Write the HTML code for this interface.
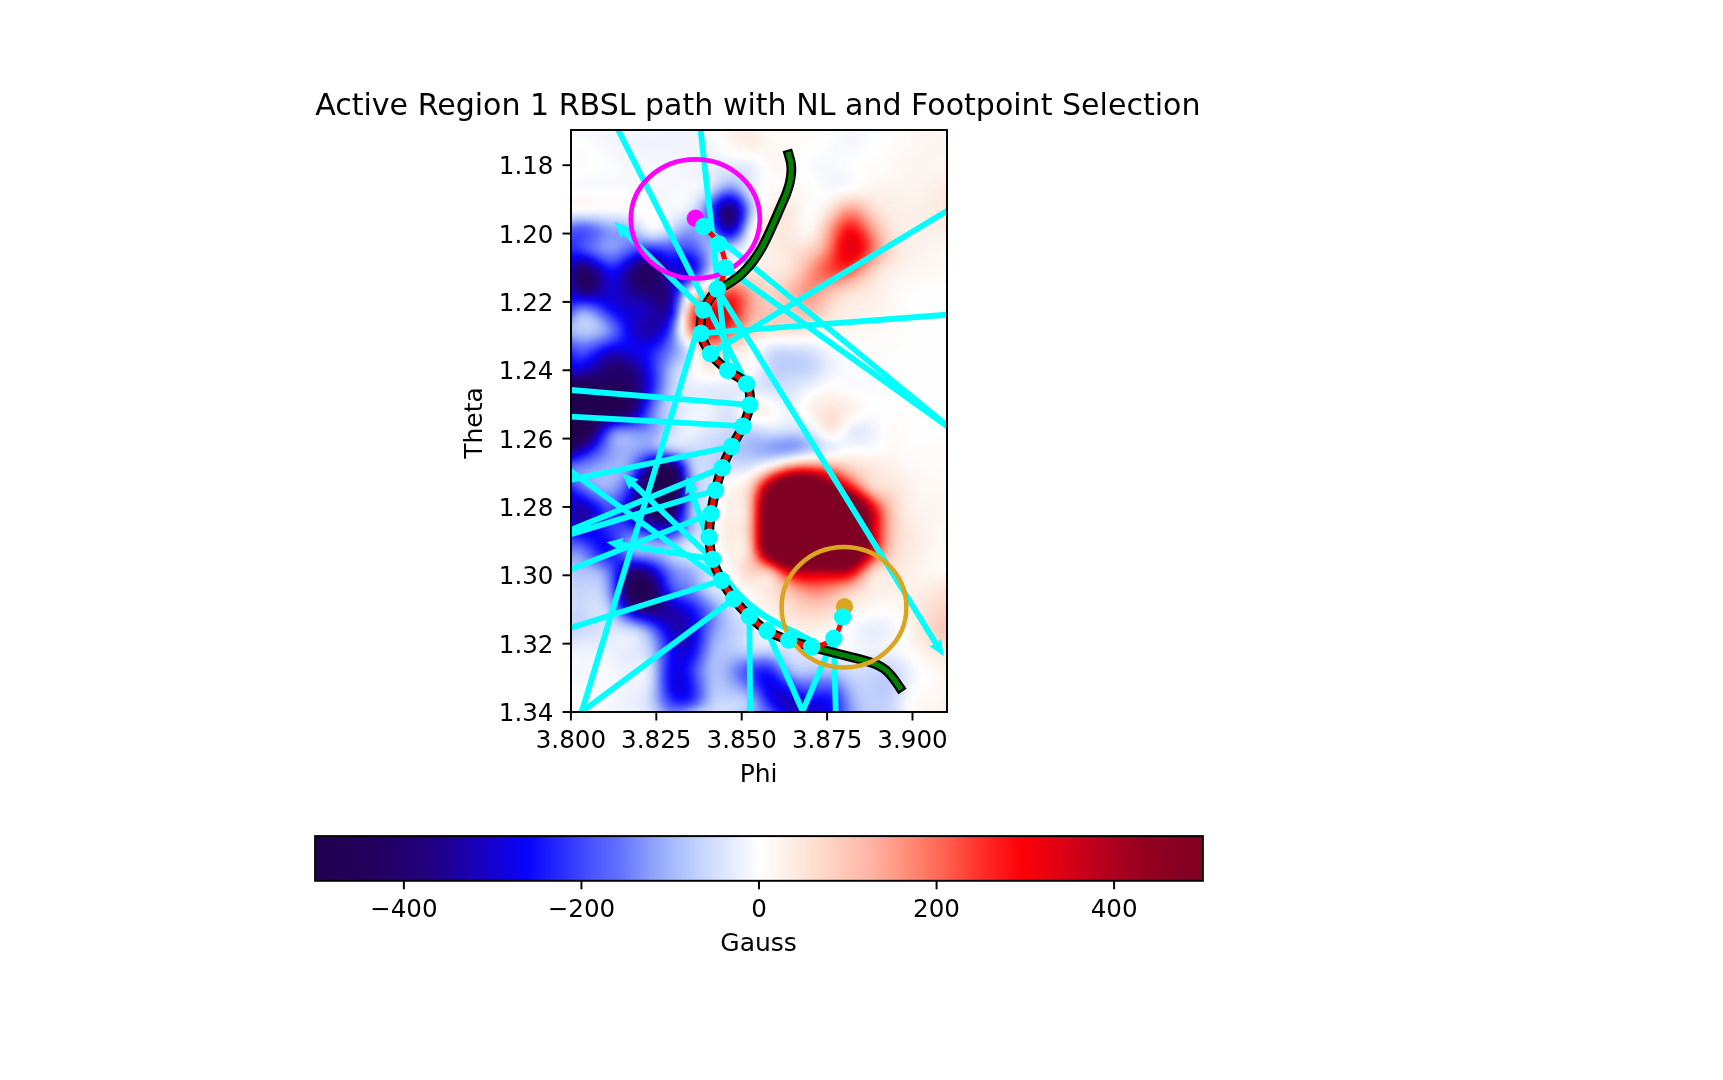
<!DOCTYPE html><html><head><meta charset="utf-8"><title>Active Region 1 RBSL path</title><style>html,body{margin:0;padding:0;background:#fff;width:1723px;height:1080px;overflow:hidden}svg{display:block;position:absolute;left:0;top:0;will-change:transform}#heat{position:absolute;left:571px;top:130px;width:376px;height:582px;overflow:hidden}#heatin{position:absolute;left:-4px;top:-4px;filter:blur(1.3px)}#heat i{display:block;height:3px;width:100%}</style></head><body><div id="heat"><div id="heatin" style="width:384px;height:590px"><i style="background:linear-gradient(90deg,#fafbfe,#fafbfe,#f8fafe,#f7f9fe,#f6f8fe,#f6f8fe,#f6f8fe,#f6f8fe,#f6f8fe,#f6f8fe,#f6f8fe,#f6f8fe,#f6f8fe,#f6f8fe,#f6f8fe,#f6f8fe,#f6f8fe,#f6f8fe,#f4f7fe,#f3f6fe,#f2f5fe,#f1f5fe,#f1f5fe,#f1f5fe,#f1f5fe,#f1f5fe,#f1f5fe,#f1f5fe,#f3f6fe,#f7f9fe,#fefefe,#fefbf9,#fef7f3,#fdf4ef,#fdf3ed,#fdf3ed,#fdf4ef,#fdf6f1,#fdf7f3,#fef8f5,#fef9f7,#fefaf8,#fefaf8,#fefaf7,#fefaf7,#fefaf7,#fefaf8,#fefbf9,#fefcfa,#fefcfb,#fefdfc,#fefdfd,#fefefe,#fefefe,#fcfdfe,#fafbfe,#f8fafe,#f7f9fe,#f7f9fe,#f8fafe,#f9fbfe,#fafbfe,#fbfcfe,#fcfdfe,#fdfefe,#fefefe,#fefdfc,#fefcfa,#fefbf9,#fefaf7,#fef9f6,#fef8f5,#fef8f4,#fef7f4,#fef7f3,#fef7f3,#fef7f4 380px,#fef7f4 383px)"></i><i style="background:linear-gradient(90deg,#fafbfe,#fafbfe,#f8fafe,#f7f9fe,#f6f8fe,#f6f8fe,#f6f8fe,#f6f8fe,#f6f8fe,#f5f8fe,#f5f8fe,#f5f8fe,#f5f8fe,#f5f8fe,#f6f8fe,#f6f8fe,#f6f8fe,#f5f8fe,#f4f7fe,#f3f6fe,#f2f5fe,#f1f5fe,#f1f5fe,#f1f5fe,#f2f5fe,#f1f5fe,#f1f5fe,#f2f5fe,#f3f6fe,#f7f9fe,#fefefe,#fefbf9,#fef7f3,#fdf4ef,#fdf3ed,#fdf3ec,#fdf3ed,#fdf5ef,#fdf6f2,#fef8f4,#fef9f6,#fefaf7,#fefaf8,#fefaf8,#fefaf7,#fefaf7,#fefaf8,#fefbf9,#fefcfa,#fefcfb,#fefdfc,#fefdfd,#fefefe,#fefefe,#fcfcfe,#fafbfe,#f8fafe,#f7f9fe,#f7f9fe,#f8fafe,#f9fbfe,#fbfcfe,#fcfcfe,#fcfdfe,#fefefe,#fefefe,#fefdfc,#fefcfa,#fefbf9,#fefaf7,#fef9f6,#fef8f4,#fef8f4,#fef7f3,#fef7f3,#fef7f3,#fef7f3 380px,#fef7f4 383px)"></i><i style="background:linear-gradient(90deg,#fbfcfe,#fbfcfe,#fafbfe,#f9fafe,#f8f9fe,#f7f9fe,#f6f8fe,#f5f8fe,#f5f7fe,#f4f7fe,#f4f7fe,#f3f6fe,#f3f6fe,#f3f6fe,#f4f6fe,#f4f7fe,#f4f7fe,#f3f6fe,#f3f6fe,#f2f5fe,#f1f4fd,#f0f4fd,#f1f4fd,#f1f5fe,#f2f5fe,#f2f5fe,#f2f5fe,#f3f6fe,#f4f7fe,#f8fafe,#fefefe,#fefbfa,#fef7f4,#fdf4ef,#fdf2eb,#fdf0e8,#fdf0e8,#fdf0e9,#fdf3ec,#fdf5f0,#fef8f4,#fefaf7,#fefaf8,#fefaf8,#fefaf8,#fefaf7,#fefaf8,#fefbf9,#fefbfa,#fefcfb,#fefdfc,#fefdfd,#fefefe,#fdfdfe,#fafbfe,#f8fafe,#f6f8fe,#f5f8fe,#f6f8fe,#f8f9fe,#fafbfe,#fbfcfe,#fdfdfe,#fefefe,#fefefe,#fefefd,#fefdfc,#fefcfa,#fefaf8,#fef9f7,#fef8f5,#fef7f4,#fdf7f3,#fdf6f2,#fdf6f2,#fdf6f2,#fdf6f2 380px,#fdf7f3 383px)"></i><i style="background:linear-gradient(90deg,#fcfdfe,#fcfdfe,#fbfcfe,#fafbfe,#f9fbfe,#f8fafe,#f7f9fe,#f5f8fe,#f4f7fe,#f3f6fe,#f3f6fe,#f2f5fe,#f2f5fe,#f2f5fe,#f2f5fe,#f2f6fe,#f2f6fe,#f2f5fe,#f1f5fe,#f1f4fd,#f0f4fd,#f0f4fd,#f1f4fd,#f1f5fe,#f2f5fe,#f2f6fe,#f3f6fe,#f3f6fe,#f5f7fe,#f8fafe,#fdfdfe,#fefcfa,#fef8f5,#fdf4ef,#fdf1ea,#fdeee6,#fdede4,#fdeee5,#fdf0e9,#fdf4ee,#fdf7f3,#fef9f6,#fefaf8,#fefaf8,#fefaf8,#fefaf8,#fefaf8,#fefbf9,#fefcfa,#fefcfb,#fefdfc,#fefefd,#fefefe,#fcfdfe,#f9fbfe,#f7f9fe,#f5f7fe,#f5f7fe,#f6f8fe,#f8f9fe,#fafbfe,#fcfdfe,#fdfefe,#fefefe,#fefefe,#fefdfd,#fefcfb,#fefbfa,#fefaf8,#fef9f6,#fef8f5,#fef7f3,#fdf6f2,#fdf6f1,#fdf5f0,#fdf5f0,#fdf6f1 380px,#fdf6f2 383px)"></i><i style="background:linear-gradient(90deg,#fefefe,#fefefe,#fdfdfe,#fcfdfe,#fbfcfe,#f9fbfe,#f8f9fe,#f6f8fe,#f4f7fe,#f3f6fe,#f2f5fe,#f2f5fe,#f1f5fe,#f1f5fe,#f1f5fe,#f1f5fe,#f1f5fe,#f1f5fe,#f1f4fd,#f0f4fd,#f0f4fd,#f0f4fd,#f1f4fd,#f1f5fe,#f2f5fe,#f2f6fe,#f3f6fe,#f3f6fe,#f4f7fe,#f7f9fe,#fcfdfe,#fefdfc,#fef9f6,#fdf5f0,#fdf2eb,#fdefe6,#fdede4,#fdede4,#fdf0e8,#fdf3ed,#fdf6f2,#fef9f6,#fefaf7,#fefaf8,#fefaf8,#fefaf8,#fefaf8,#fefbf9,#fefcfa,#fefdfc,#fefdfd,#fefefe,#fefefe,#fbfcfe,#f9fafe,#f6f8fe,#f5f7fe,#f4f7fe,#f6f8fe,#f8fafe,#fbfcfe,#fdfdfe,#fefefe,#fefefe,#fefefd,#fefdfc,#fefcfb,#fefbf9,#fefaf7,#fef9f6,#fef8f4,#fdf7f2,#fdf6f1,#fdf5f0,#fdf5f0,#fdf5f0,#fdf5f0 380px,#fdf6f1 383px)"></i><i style="background:linear-gradient(90deg,#fefefe,#fefefe,#fefefe,#fefefe,#fcfdfe,#fbfcfe,#f9fafe,#f7f9fe,#f5f7fe,#f3f6fe,#f2f5fe,#f1f5fe,#f1f4fd,#f1f4fd,#f1f4fd,#f1f4fd,#f1f5fe,#f1f4fd,#f1f4fd,#f0f4fd,#f0f4fd,#f0f4fd,#f1f4fd,#f1f5fe,#f2f5fe,#f2f5fe,#f2f5fe,#f2f6fe,#f3f6fe,#f6f8fe,#fafcfe,#fefefd,#fefaf8,#fdf6f2,#fdf3ed,#fdf0e8,#fdeee6,#fdeee6,#fdf0e9,#fdf3ed,#fdf6f2,#fef8f5,#fef9f7,#fefaf7,#fefaf7,#fefaf8,#fefbf8,#fefbfa,#fefcfb,#fefdfc,#fefefe,#fefefe,#fdfdfe,#fbfcfe,#f9fafe,#f6f8fe,#f5f7fe,#f5f7fe,#f6f8fe,#f9fafe,#fbfcfe,#fdfefe,#fefefe,#fefefd,#fefdfd,#fefdfc,#fefcfa,#fefbf9,#fefaf7,#fef8f5,#fef7f3,#fdf6f2,#fdf6f1,#fdf5f0,#fdf5ef,#fdf5f0,#fdf5f0 380px,#fdf6f1 383px)"></i><i style="background:linear-gradient(90deg,#fefdfd,#fefdfd,#fefdfd,#fefefe,#fefefe,#fcfdfe,#fafbfe,#f8f9fe,#f6f8fe,#f4f7fe,#f3f6fe,#f2f5fe,#f1f5fe,#f1f4fd,#f1f4fd,#f1f4fd,#f1f4fd,#f1f4fd,#f1f4fd,#f1f4fd,#f0f4fd,#f1f4fd,#f1f5fe,#f2f5fe,#f2f5fe,#f2f5fe,#f2f5fe,#f2f5fe,#f2f6fe,#f5f7fe,#f9fafe,#fefefe,#fefbfa,#fef8f5,#fdf5f0,#fdf2ec,#fdf1e9,#fdf0e9,#fdf2eb,#fdf4ee,#fdf6f2,#fef8f5,#fef9f6,#fef9f7,#fefaf7,#fefaf8,#fefbf9,#fefcfa,#fefdfc,#fefefd,#fefefe,#fdfefe,#fcfdfe,#fafbfe,#f8fafe,#f7f9fe,#f6f8fe,#f6f8fe,#f7f9fe,#fafbfe,#fcfdfe,#fefefe,#fefefe,#fefefd,#fefdfc,#fefcfb,#fefbfa,#fefaf8,#fef9f6,#fef8f4,#fdf7f3,#fdf6f2,#fdf5f1,#fdf5f0,#fdf5f0,#fdf5f0,#fdf5f0 380px,#fdf5f0 383px)"></i><i style="background:linear-gradient(90deg,#fefdfb,#fefcfb,#fefdfc,#fefdfd,#fefefe,#fdfefe,#fbfcfe,#f9fafe,#f7f9fe,#f5f7fe,#f3f6fe,#f2f5fe,#f1f5fe,#f1f5fe,#f1f4fd,#f1f5fe,#f1f5fe,#f1f5fe,#f1f5fe,#f1f5fe,#f1f5fe,#f1f5fe,#f1f5fe,#f2f5fe,#f2f5fe,#f1f5fe,#f1f4fd,#f1f4fd,#f1f5fe,#f3f6fe,#f7f9fe,#fcfcfe,#fefdfc,#fefaf8,#fef7f4,#fdf5f0,#fdf4ee,#fdf3ed,#fdf4ee,#fdf5f0,#fdf7f2,#fef8f4,#fef8f5,#fef9f6,#fef9f7,#fefaf8,#fefbf9,#fefcfb,#fefdfd,#fefefe,#fdfefe,#fcfdfe,#fbfcfe,#fafbfe,#f9fafe,#f7f9fe,#f7f9fe,#f7f9fe,#f9fafe,#fbfcfe,#fdfdfe,#fefefe,#fefefd,#fefdfd,#fefdfc,#fefcfb,#fefbf9,#fefaf7,#fef9f5,#fef7f4,#fdf7f2,#fdf6f1,#fdf5f0,#fdf5f0,#fdf5f0,#fdf5f0,#fdf5f0 380px,#fdf5f0 383px)"></i><i style="background:linear-gradient(90deg,#fefcfa,#fefcfa,#fefcfb,#fefdfc,#fefdfd,#fefefe,#fcfdfe,#fafbfe,#f8f9fe,#f6f8fe,#f4f7fe,#f3f6fe,#f2f5fe,#f2f5fe,#f1f5fe,#f1f5fe,#f2f5fe,#f2f5fe,#f2f5fe,#f2f5fe,#f2f5fe,#f2f5fe,#f2f5fe,#f2f5fe,#f2f5fe,#f1f5fe,#f0f4fd,#eff3fd,#f0f3fd,#f1f5fe,#f4f7fe,#f9fafe,#fdfefe,#fefdfc,#fefbf8,#fef9f6,#fef8f4,#fdf7f3,#fdf7f2,#fdf7f3,#fef7f3,#fef8f4,#fef8f5,#fef8f5,#fef9f6,#fefaf8,#fefbfa,#fefdfc,#fefefe,#fdfefe,#fcfdfe,#fbfcfe,#fafbfe,#fafbfe,#f9fafe,#f8fafe,#f8fafe,#f8fafe,#fafbfe,#fcfcfe,#fefefe,#fefefe,#fefefd,#fefdfc,#fefdfb,#fefcfa,#fefbf8,#fef9f6,#fef8f5,#fdf7f3,#fdf6f2,#fdf6f1,#fdf5f0,#fdf5f0,#fdf5f0,#fdf5f0,#fdf5f0 380px,#fdf5f0 383px)"></i><i style="background:linear-gradient(90deg,#fefbfa,#fefbfa,#fefcfa,#fefcfb,#fefdfc,#fefefe,#fdfefe,#fbfcfe,#f9fafe,#f7f9fe,#f5f8fe,#f4f7fe,#f3f6fe,#f2f5fe,#f2f5fe,#f2f5fe,#f2f5fe,#f2f6fe,#f3f6fe,#f3f6fe,#f3f6fe,#f3f6fe,#f2f6fe,#f2f5fe,#f2f5fe,#f1f4fd,#eff3fd,#eef3fd,#eef2fd,#eff3fd,#f2f5fe,#f6f8fe,#f9fbfe,#fdfdfe,#fefefd,#fefdfc,#fefcfa,#fefbf9,#fefaf7,#fef9f6,#fef8f4,#fef7f4,#fef8f4,#fef8f5,#fef9f6,#fefaf8,#fefcfa,#fefdfd,#fefefe,#fcfdfe,#fbfcfe,#fafbfe,#fafbfe,#f9fbfe,#f9fafe,#f9fafe,#f9fbfe,#fafbfe,#fbfcfe,#fdfdfe,#fefefe,#fefefd,#fefdfd,#fefdfc,#fefcfb,#fefbfa,#fefaf8,#fef9f6,#fef7f4,#fdf6f2,#fdf6f1,#fdf5f1,#fdf5f0,#fdf5f0,#fdf5f0,#fdf5f0,#fdf5f0 380px,#fdf5f0 383px)"></i><i style="background:linear-gradient(90deg,#fefbf9,#fefbf9,#fefbf9,#fefcfa,#fefdfc,#fefefd,#fefefe,#fcfdfe,#fafbfe,#f8fafe,#f6f8fe,#f5f7fe,#f4f7fe,#f3f6fe,#f3f6fe,#f3f6fe,#f3f6fe,#f3f6fe,#f3f6fe,#f3f6fe,#f3f6fe,#f3f6fe,#f3f6fe,#f2f6fe,#f2f5fe,#f0f4fd,#eff3fd,#edf2fd,#edf1fd,#edf2fd,#eff3fd,#f2f5fe,#f5f7fe,#f7f9fe,#f9fafe,#fafbfe,#fbfcfe,#fdfdfe,#fefdfc,#fefbf9,#fef9f6,#fef7f4,#fef7f3,#fef8f4,#fef9f6,#fefaf8,#fefcfb,#fefefd,#fdfefe,#fbfcfe,#fafbfe,#f9fafe,#f9fafe,#f9fafe,#f9fafe,#fafbfe,#fafbfe,#fbfcfe,#fdfdfe,#fefefe,#fefefe,#fefdfd,#fefdfc,#fefdfb,#fefcfb,#fefbf9,#fefaf7,#fef8f5,#fdf7f3,#fdf6f1,#fdf5f1,#fdf5f0,#fdf5f0,#fdf5f1,#fdf6f1,#fdf5f1,#fdf5f0 380px,#fdf5ef 383px)"></i><i style="background:linear-gradient(90deg,#fefbf9,#fefbf9,#fefbf9,#fefcfa,#fefdfc,#fefefd,#fefefe,#fdfdfe,#fbfcfe,#f9fafe,#f7f9fe,#f6f8fe,#f5f7fe,#f4f7fe,#f4f6fe,#f4f6fe,#f4f7fe,#f4f7fe,#f4f7fe,#f4f7fe,#f4f7fe,#f4f7fe,#f4f6fe,#f3f6fe,#f2f5fe,#f0f4fd,#eef2fd,#edf1fd,#ecf1fd,#ecf1fd,#edf1fd,#eef3fd,#f0f4fd,#f1f4fd,#f1f5fe,#f2f5fe,#f3f6fe,#f7f9fe,#fcfdfe,#fefdfc,#fefaf7,#fef8f4,#fdf7f3,#fef7f4,#fef9f5,#fefaf8,#fefcfb,#fefefe,#fcfdfe,#fafbfe,#f9fafe,#f8fafe,#f8fafe,#f8fafe,#f9fafe,#fafbfe,#fbfcfe,#fcfdfe,#fefefe,#fefefe,#fefefd,#fefdfc,#fefdfc,#fefcfb,#fefbfa,#fefaf8,#fef9f6,#fef8f4,#fdf7f2,#fdf6f1,#fdf5f0,#fdf5f0,#fdf5f1,#fdf6f1,#fdf6f1,#fdf6f1,#fdf5f0 380px,#fdf4ef 383px)"></i><i style="background:linear-gradient(90deg,#fefbf9,#fefbf9,#fefbfa,#fefcfb,#fefdfc,#fefefd,#fefefe,#fdfdfe,#fbfcfe,#f9fbfe,#f8fafe,#f6f9fe,#f5f8fe,#f5f7fe,#f4f7fe,#f4f7fe,#f4f7fe,#f5f7fe,#f5f7fe,#f5f8fe,#f5f7fe,#f5f7fe,#f4f7fe,#f3f6fe,#f2f5fe,#f0f4fd,#eef2fd,#ecf1fd,#ebf0fd,#eaeffd,#eaeffd,#eaf0fd,#ebf0fd,#eaf0fd,#eaeffd,#eaeffd,#ecf1fd,#f0f4fd,#f7f9fe,#fefefe,#fefbf8,#fef8f4,#fdf7f3,#fef7f3,#fef8f5,#fefaf8,#fefcfb,#fefefe,#fcfdfe,#f9fbfe,#f8fafe,#f7f9fe,#f7f9fe,#f8f9fe,#f9fafe,#fafbfe,#fcfcfe,#fdfdfe,#fefefe,#fefefe,#fefdfd,#fefdfc,#fefcfb,#fefcfa,#fefbf9,#fefaf8,#fef9f6,#fef7f3,#fdf6f2,#fdf5f0,#fdf5f0,#fdf5f0,#fdf5f0,#fdf6f1,#fdf6f1,#fdf6f1,#fdf5f0 380px,#fdf4ef 383px)"></i><i style="background:linear-gradient(90deg,#fefbf9,#fefbfa,#fefcfb,#fefdfb,#fefdfc,#fefefe,#fefefe,#fdfdfe,#fbfcfe,#fafbfe,#f8fafe,#f7f9fe,#f6f8fe,#f5f8fe,#f5f7fe,#f5f7fe,#f5f8fe,#f5f8fe,#f6f8fe,#f6f8fe,#f6f8fe,#f5f8fe,#f4f7fe,#f3f6fe,#f2f5fe,#f0f4fd,#eef3fd,#ecf1fd,#ebf0fd,#e9eefd,#e7edfd,#e6ecfd,#e5ebfd,#e4ebfd,#e3eafc,#e3eafc,#e5ecfd,#ebf0fd,#f3f6fe,#fcfdfe,#fefbfa,#fef8f5,#fef7f3,#fef7f3,#fef9f5,#fefaf8,#fefcfb,#fefefe,#fcfcfe,#f9fbfe,#f7f9fe,#f7f9fe,#f6f9fe,#f7f9fe,#f8fafe,#fafbfe,#fbfcfe,#fdfdfe,#fefefe,#fefefd,#fefdfc,#fefcfb,#fefcfa,#fefbf9,#fefaf8,#fef9f7,#fef8f5,#fdf7f3,#fdf6f1,#fdf5f0,#fdf5f0,#fdf5f0,#fdf5f0,#fdf6f1,#fdf6f1,#fdf5f0,#fdf4ef 380px,#fdf4ee 383px)"></i><i style="background:linear-gradient(90deg,#fefcfb,#fefcfb,#fefdfc,#fefdfd,#fefefe,#fefefe,#fdfefe,#fcfdfe,#fbfcfe,#fafbfe,#f9fafe,#f7f9fe,#f6f8fe,#f6f8fe,#f5f8fe,#f5f8fe,#f6f8fe,#f6f8fe,#f6f8fe,#f6f8fe,#f6f8fe,#f6f8fe,#f5f7fe,#f4f7fe,#f2f6fe,#f1f4fd,#eff3fd,#edf2fd,#ebf0fd,#e8eefd,#e5ebfd,#e1e9fc,#dee7fc,#dce5fc,#dce5fc,#dde6fc,#e1e8fc,#e7edfd,#f0f4fd,#fafbfe,#fefcfb,#fef9f6,#fef7f4,#fef8f4,#fef9f6,#fefaf8,#fefcfb,#fefefe,#fcfdfe,#f9fbfe,#f7f9fe,#f6f8fe,#f6f8fe,#f6f8fe,#f7f9fe,#f9fafe,#fbfcfe,#fdfdfe,#fefefe,#fefefd,#fefdfc,#fefcfb,#fefbfa,#fefbf8,#fefaf7,#fef9f6,#fef8f4,#fdf6f2,#fdf6f1,#fdf5f0,#fdf5f0,#fdf5f0,#fdf5f0,#fdf5f0,#fdf5f0,#fdf5f0,#fdf4ee 380px,#fdf3ed 383px)"></i><i style="background:linear-gradient(90deg,#fefdfc,#fefdfd,#fefefe,#fefefe,#fdfefe,#fdfdfe,#fcfdfe,#fbfcfe,#fafbfe,#f9fbfe,#f8fafe,#f7f9fe,#f6f8fe,#f6f8fe,#f5f8fe,#f6f8fe,#f6f8fe,#f6f8fe,#f6f8fe,#f6f8fe,#f6f8fe,#f6f8fe,#f5f7fe,#f4f7fe,#f3f6fe,#f2f5fe,#f0f4fd,#eef3fd,#ebf0fd,#e7edfd,#e2e9fc,#dce5fc,#d7e2fc,#d4e0fc,#d5e0fc,#d8e2fc,#dde6fc,#e5ecfd,#eff3fd,#f9fafe,#fefdfc,#fefaf7,#fef8f5,#fef8f5,#fef9f6,#fefaf8,#fefcfb,#fefefd,#fdfdfe,#fafbfe,#f8fafe,#f6f8fe,#f5f8fe,#f5f8fe,#f6f8fe,#f7f9fe,#f9fbfe,#fbfcfe,#fefefe,#fefefd,#fefdfc,#fefcfa,#fefbf8,#fefaf7,#fef9f6,#fef8f4,#fef7f3,#fdf6f2,#fdf5f1,#fdf5f0,#fdf5f0,#fdf5f0,#fdf5f0,#fdf5ef,#fdf4ef,#fdf4ee,#fdf3ed 380px,#fdf2ec 383px)"></i><i style="background:linear-gradient(90deg,#fefefe,#fefefe,#fdfdfe,#fcfdfe,#fbfcfe,#fbfcfe,#fafbfe,#fafbfe,#f9fbfe,#f9fafe,#f8f9fe,#f7f9fe,#f6f8fe,#f6f8fe,#f6f8fe,#f6f8fe,#f6f8fe,#f6f8fe,#f6f8fe,#f6f8fe,#f6f8fe,#f6f8fe,#f5f8fe,#f5f7fe,#f4f7fe,#f3f6fe,#f2f5fe,#f0f4fd,#ecf1fd,#e6edfd,#dee7fc,#d6e1fc,#cfdcfc,#ccdafc,#cedbfc,#d3dffc,#dce5fc,#e5ecfd,#eff3fd,#f9fafe,#fefdfd,#fefbf8,#fef9f6,#fef9f6,#fef9f6,#fefaf8,#fefcfa,#fefdfc,#fefefe,#fbfcfe,#f9fafe,#f6f8fe,#f5f7fe,#f4f7fe,#f5f7fe,#f6f8fe,#f8f9fe,#fafbfe,#fdfdfe,#fefefe,#fefcfb,#fefbf9,#fefaf7,#fef9f6,#fef8f4,#fef7f3,#fdf6f2,#fdf6f1,#fdf5f1,#fdf5f0,#fdf5f0,#fdf5ef,#fdf4ef,#fdf4ee,#fdf4ee,#fdf3ed,#fdf2eb 380px,#fdf1ea 383px)"></i><i style="background:linear-gradient(90deg,#fcfcfe,#fbfcfe,#fafbfe,#f9fbfe,#f9fafe,#f9fafe,#f9fafe,#f8fafe,#f8fafe,#f8fafe,#f7f9fe,#f7f9fe,#f6f8fe,#f6f8fe,#f6f8fe,#f6f8fe,#f6f8fe,#f6f8fe,#f6f8fe,#f6f8fe,#f6f8fe,#f6f8fe,#f5f8fe,#f5f7fe,#f5f7fe,#f4f7fe,#f3f6fe,#f1f4fd,#ecf1fd,#e4ebfd,#d9e3fc,#cddbfc,#c4d4fc,#c1d1fc,#c5d5fc,#cfdcfc,#dae4fc,#e6edfd,#f0f4fd,#f9fafe,#fefefe,#fefbfa,#fefaf7,#fef9f7,#fefaf7,#fefaf8,#fefbf9,#fefcfb,#fefefe,#fdfdfe,#fafbfe,#f7f9fe,#f5f7fe,#f4f6fe,#f4f6fe,#f5f7fe,#f6f9fe,#f9fafe,#fcfdfe,#fefefd,#fefcfb,#fefaf8,#fef9f6,#fef8f4,#fdf7f3,#fdf6f2,#fdf6f1,#fdf6f1,#fdf6f1,#fdf5f0,#fdf5f0,#fdf4ef,#fdf4ee,#fdf3ed,#fdf2ec,#fdf2eb,#fdf1ea 380px,#fdf0e9 383px)"></i><i style="background:linear-gradient(90deg,#fafbfe,#f9fbfe,#f8fafe,#f8f9fe,#f7f9fe,#f7f9fe,#f7f9fe,#f8f9fe,#f8f9fe,#f7f9fe,#f7f9fe,#f7f9fe,#f6f8fe,#f6f8fe,#f6f8fe,#f6f8fe,#f6f8fe,#f6f8fe,#f6f8fe,#f6f8fe,#f6f8fe,#f6f8fe,#f6f8fe,#f6f8fe,#f5f8fe,#f5f7fe,#f4f7fe,#f1f5fe,#ebf0fd,#e0e8fc,#d1defc,#c2d2fc,#b6c8fc,#b3c6fc,#bbccfc,#c9d7fc,#d9e3fc,#e7edfd,#f2f5fe,#fafbfe,#fefefe,#fefcfb,#fefbf8,#fefaf7,#fefaf7,#fefaf7,#fefbf8,#fefcfa,#fefdfc,#fefefe,#fbfcfe,#f8f9fe,#f5f8fe,#f4f6fe,#f4f6fe,#f5f7fe,#f7f9fe,#f9fbfe,#fdfdfe,#fefdfd,#fefbf9,#fef9f7,#fef8f4,#fdf7f2,#fdf6f1,#fdf5f0,#fdf5f0,#fdf5f1,#fdf6f1,#fdf5f1,#fdf5f0,#fdf4ef,#fdf3ed,#fdf2ec,#fdf1ea,#fdf0e9,#fdf0e8 380px,#fdefe7 383px)"></i><i style="background:linear-gradient(90deg,#f8fafe,#f8fafe,#f8f9fe,#f7f9fe,#f7f9fe,#f7f9fe,#f7f9fe,#f7f9fe,#f7f9fe,#f8f9fe,#f7f9fe,#f7f9fe,#f7f9fe,#f7f9fe,#f6f8fe,#f6f8fe,#f6f8fe,#f6f8fe,#f5f8fe,#f5f8fe,#f5f8fe,#f6f8fe,#f6f8fe,#f6f8fe,#f6f8fe,#f6f8fe,#f4f7fe,#f0f3fd,#e7edfd,#d9e3fc,#c6d5fc,#b2c4fc,#a3b7fb,#a1b5fb,#adc0fc,#c0d0fc,#d5e0fc,#e7edfd,#f3f6fe,#fbfcfe,#fefefe,#fefcfb,#fefbf9,#fefaf7,#fef9f7,#fef9f7,#fefaf7,#fefbf9,#fefcfb,#fefefe,#fcfdfe,#f9fafe,#f6f8fe,#f5f7fe,#f5f7fe,#f7f8fe,#f9fafe,#fcfdfe,#fefefe,#fefcfb,#fefaf8,#fef8f5,#fdf7f2,#fdf5f0,#fdf5ef,#fdf4ef,#fdf5ef,#fdf5f0,#fdf5f1,#fdf5f1,#fdf5f0,#fdf4ee,#fdf3ec,#fdf1ea,#fdf0e9,#fdefe7,#fdeee5 380px,#fdeee5 383px)"></i><i style="background:linear-gradient(90deg,#f9fafe,#f9fafe,#f8fafe,#f8fafe,#f8fafe,#f8fafe,#f8fafe,#f8fafe,#f8fafe,#f9fafe,#f9fafe,#f9fafe,#f8fafe,#f8fafe,#f7f9fe,#f7f9fe,#f6f8fe,#f6f8fe,#f5f8fe,#f5f8fe,#f5f8fe,#f6f8fe,#f6f9fe,#f7f9fe,#f7f9fe,#f6f8fe,#f2f6fe,#ecf1fd,#e1e8fc,#cedbfc,#b6c8fc,#9cb0fb,#899dfa,#879afa,#98acfb,#b4c6fc,#cfdcfc,#e5ecfd,#f3f6fe,#fbfcfe,#fefefd,#fefcfb,#fefbf9,#fef9f7,#fef9f6,#fef8f5,#fef9f6,#fefaf7,#fefbfa,#fefdfc,#fdfefe,#fafbfe,#f8fafe,#f7f9fe,#f8fafe,#fbfcfe,#fdfdfe,#fefdfc,#fefbfa,#fefaf7,#fef8f5,#fdf7f2,#fdf5f0,#fdf4ef,#fdf4ee,#fdf4ee,#fdf4ee,#fdf5f0,#fdf5f0,#fdf5f0,#fdf5ef,#fdf4ee,#fdf2ec,#fdf1e9,#fdefe7,#fdede5,#fdece3 380px,#fdece3 383px)"></i><i style="background:linear-gradient(90deg,#fbfcfe,#fbfcfe,#fbfcfe,#fbfcfe,#fbfcfe,#fbfcfe,#fbfcfe,#fbfcfe,#fbfcfe,#fbfcfe,#fbfcfe,#fbfcfe,#fbfcfe,#fafbfe,#f9fbfe,#f8fafe,#f7f9fe,#f6f8fe,#f5f7fe,#f5f7fe,#f5f8fe,#f6f8fe,#f7f9fe,#f8fafe,#f7f9fe,#f5f7fe,#eff3fd,#e6ecfd,#d6e1fc,#becffc,#9eb2fb,#7d90fb,#6878fe,#6777fe,#7d90fb,#a2b6fb,#c6d5fc,#e1e9fc,#f2f5fe,#fcfdfe,#fefdfd,#fefcfa,#fefaf7,#fef8f5,#fef7f4,#fef7f3,#fef8f4,#fef9f6,#fefbf9,#fefdfc,#fefefe,#fcfdfe,#fbfcfe,#fbfcfe,#fdfdfe,#fefdfc,#fefaf8,#fef8f5,#fdf7f3,#fdf6f1,#fdf5f0,#fdf4ef,#fdf4ee,#fdf3ed,#fdf3ec,#fdf3ed,#fdf3ee,#fdf4ef,#fdf5f0,#fdf5f0,#fdf4ef,#fdf3ed,#fdf2eb,#fdf0e8,#fdeee5,#fdece3,#fdebe1 380px,#fdebe1 383px)"></i><i style="background:linear-gradient(90deg,#fefefe,#fefefe,#fefefd,#fefefd,#fefefd,#fefefd,#fefefe,#fefefe,#fefefe,#fefefe,#fefefe,#fefefe,#fefefe,#fdfefe,#fcfcfe,#fafbfe,#f7f9fe,#f6f8fe,#f5f7fe,#f5f7fe,#f6f8fe,#f7f9fe,#f8fafe,#f9fafe,#f7f9fe,#f3f6fe,#eaf0fd,#dce5fc,#c7d6fc,#a8bbfb,#7f91fb,#5b68ff,#4852ff,#4953ff,#5f6dff,#8a9dfa,#b8cafc,#dbe4fc,#f0f4fd,#fcfdfe,#fefcfb,#fefaf8,#fef8f5,#fdf7f2,#fdf6f1,#fdf6f1,#fdf7f3,#fef8f5,#fefaf8,#fefcfb,#fefefe,#fefefe,#fefefe,#fefdfc,#fefaf8,#fdf7f3,#fdf4ee,#fdf2ea,#fdf1e9,#fdf1ea,#fdf2eb,#fdf2eb,#fdf2eb,#fdf2eb,#fdf2eb,#fdf2eb,#fdf3ed,#fdf4ee,#fdf4ef,#fdf4ef,#fdf4ee,#fdf3ec,#fdf1ea,#fdefe7,#fdede4,#fdebe1,#fdeae0 380px,#fde9df 383px)"></i><i style="background:linear-gradient(90deg,#fefcfb,#fefcfa,#fefbf9,#fefbf9,#fefbf9,#fefbfa,#fefcfb,#fefcfb,#fefdfc,#fefdfc,#fefdfc,#fefdfb,#fefdfc,#fefdfd,#fefefe,#fbfcfe,#f9fafe,#f6f8fe,#f5f8fe,#f5f8fe,#f6f8fe,#f7f9fe,#f9fafe,#f9fbfe,#f7f9fe,#f0f4fd,#e4ebfd,#d0ddfc,#b5c7fc,#8ca0fa,#5d6bff,#3a41ff,#2426ff,#2529ff,#424bff,#6d7efd,#a7bbfb,#d2defc,#ecf1fd,#fcfcfe,#fefbfa,#fef8f5,#fdf6f2,#fdf4ef,#fdf3ee,#fdf4ee,#fdf6f1,#fef8f4,#fefaf8,#fefcfb,#fefdfd,#fefefd,#fefcfb,#fef9f6,#fdf4ef,#fdefe7,#fdeae0,#fde7dd,#fde8dd,#fdeae0,#fdece3,#fdefe7,#fdf0e8,#fdf1e9,#fdf1ea,#fdf1eb,#fdf2ec,#fdf3ed,#fdf4ee,#fdf4ee,#fdf3ed,#fdf2eb,#fdf0e9,#fdeee6,#fdece3,#fdeae0,#fde8de 380px,#fde8dd 383px)"></i><i style="background:linear-gradient(90deg,#fefaf8,#fefaf7,#fef9f6,#fef8f5,#fef9f6,#fef9f6,#fefaf8,#fefbf9,#fefbfa,#fefbfa,#fefbf9,#fefbf9,#fefbf9,#fefcfa,#fefdfd,#fdfefe,#fafbfe,#f7f9fe,#f6f8fe,#f6f8fe,#f6f8fe,#f8fafe,#f9fbfe,#f9fbfe,#f5f8fe,#ecf1fd,#dce5fc,#c3d3fc,#a0b4fb,#6d7efd,#4048ff,#1717ff,#0c05f2,#0c06f5,#2325ff,#5562ff,#94a8fa,#c9d8fc,#e9eefd,#fcfcfe,#fefaf8,#fdf6f2,#fdf4ee,#fdf2eb,#fdf1ea,#fdf2eb,#fdf4ef,#fef7f3,#fefaf8,#fefcfb,#fefdfc,#fefcfb,#fef9f6,#fdf4ef,#fdede4,#fde5d9,#fdded0,#fddbcd,#fddcce,#fde1d4,#fde6db,#fdebe1,#fdede5,#fdefe7,#fdf0e9,#fdf1ea,#fdf2eb,#fdf2ec,#fdf3ed,#fdf3ed,#fdf2ec,#fdf1ea,#fdf0e8,#fdeee5,#fdece3,#fdeae0,#fde8dd 380px,#fde7dc 383px)"></i><i style="background:linear-gradient(90deg,#fef9f7,#fef9f6,#fef8f4,#fef8f4,#fef8f4,#fef8f5,#fef9f7,#fefaf8,#fefbf9,#fefbf9,#fefbf9,#fefaf8,#fefaf8,#fefbf9,#fefcfb,#fefefe,#fbfcfe,#f8fafe,#f7f9fe,#f6f8fe,#f7f9fe,#f8fafe,#f9fafe,#f8fafe,#f3f6fe,#e7edfd,#d3dffc,#b5c7fc,#8a9efa,#5662ff,#2225ff,#0e02e7,#1700c4,#1500c9,#0b06f9,#4048ff,#8295fa,#c0d0fc,#e5ecfd,#fcfdfe,#fef9f6,#fdf4ef,#fdf1ea,#fdefe7,#fdefe6,#fdf0e9,#fdf3ed,#fdf7f3,#fefaf8,#fefcfb,#fefcfb,#fefaf8,#fdf6f1,#fdeee6,#fde4d8,#fdd8ca,#fecfc0,#fecbbc,#fecebf,#fdd6c7,#fddfd1,#fde6da,#fdeae1,#fdede5,#fdefe7,#fdf0e9,#fdf1ea,#fdf2eb,#fdf2ec,#fdf2eb,#fdf2eb,#fdf1e9,#fdefe7,#fdeee5,#fdece2,#fde9df,#fde7dc 380px,#fde6da 383px)"></i><i style="background:linear-gradient(90deg,#fefaf8,#fefaf8,#fef9f6,#fef9f6,#fef9f6,#fefaf7,#fefaf8,#fefbf9,#fefcfa,#fefcfa,#fefbfa,#fefbf9,#fefbf9,#fefbf9,#fefcfb,#fefefd,#fdfdfe,#fafbfe,#f8fafe,#f7f9fe,#f7f9fe,#f7f9fe,#f8f9fe,#f6f8fe,#eff3fd,#e1e9fc,#cad9fc,#a8bcfb,#7687fc,#424aff,#0c08fc,#1800bf,#1c009e,#1c00a4,#1101d9,#2b30ff,#7284fc,#b9cbfc,#e4ebfd,#fdfdfe,#fef7f3,#fdf2eb,#fdeee6,#fdece3,#fdece3,#fdeee6,#fdf2ec,#fdf7f3,#fefbf8,#fefcfb,#fefbfa,#fef8f4,#fdf2eb,#fde7dc,#fdd9cb,#fec9bb,#ffbfb0,#ffbbac,#ffc0b1,#fec9ba,#fdd6c7,#fde0d3,#fde7dc,#fdebe2,#fdeee5,#fdf0e8,#fdf1e9,#fdf1ea,#fdf1ea,#fdf1ea,#fdf1ea,#fdf0e8,#fdefe7,#fdede5,#fdebe2,#fde9df,#fde7dc 380px,#fde5da 383px)"></i><i style="background:linear-gradient(90deg,#fdfdfd,#fdfdfd,#fefcfc,#fefcfc,#fefcfc,#fdfdfc,#fdfdfd,#fdfdfd,#fdfdfe,#fdfdfe,#fefdfd,#fefdfd,#fefdfc,#fefdfc,#fefdfc,#fefefd,#fefefe,#fdfdfe,#fbfcfe,#f9fafe,#f7f9fe,#f6f8fe,#f5f7fe,#f1f5fe,#e9effd,#dae4fc,#c1d1fc,#9cb0fb,#6675fe,#3137ff,#0e02e7,#1c00a4,#200082,#1f0089,#1800be,#1d1eff,#6878fe,#b6c8fc,#e4ebfd,#fefefe,#fdf5f0,#fdf0e8,#fdece2,#fde9df,#fdeae0,#fdede4,#fdf2eb,#fdf7f3,#fefbf9,#fefcfb,#fefaf8,#fdf5f0,#fdece3,#fddfd1,#feccbd,#ffbbac,#ffad9d,#ffa897,#ffb0a0,#ffbdae,#feccbd,#fddacc,#fde3d7,#fde9de,#fdede4,#fdefe7,#fdf0e8,#fdf1e9,#fdf1e9,#fdf1e9,#fdf0e9,#fdf0e8,#fdefe6,#fdede5,#fdece2,#fde9df,#fde7dc 380px,#fde5da 383px)"></i><i style="background:linear-gradient(90deg,#f3f6fe,#f3f6fe,#f2f5fe,#f2f5fe,#f2f5fe,#f2f5fe,#f3f5fe,#f3f6fe,#f4f7fe,#f5f7fe,#f6f8fe,#f7f9fe,#f9fafe,#fbfcfe,#fdfdfe,#fefefe,#fefefd,#fefefe,#fefefe,#fbfcfe,#f7f9fe,#f4f7fe,#f0f4fd,#ebf0fd,#e1e9fc,#d1defc,#b9cafc,#92a6fa,#5e6cff,#282cff,#1201d7,#1e0093,#210076,#21007a,#1a00af,#1615ff,#6574fe,#b7c9fc,#e7edfd,#fefcfb,#fdf3ee,#fdeee5,#fdeae0,#fde8dd,#fde8de,#fdece3,#fdf2eb,#fdf7f3,#fefbf9,#fefcfb,#fef9f6,#fdf2eb,#fde6db,#fdd5c6,#ffc0b1,#ffaa9a,#ff9783,#ff917d,#ff9c89,#ffb0a0,#ffc2b3,#fed2c4,#fdded1,#fde6db,#fdebe1,#fdeee5,#fdf0e8,#fdf0e9,#fdf0e9,#fdf0e9,#fdf0e8,#fdefe7,#fdefe6,#fdede5,#fdece3,#fdeae0,#fde7dd 380px,#fde6da 383px)"></i><i style="background:linear-gradient(90deg,#e0e8fc,#dfe8fc,#dde5fc,#dce5fc,#dce5fc,#dee6fc,#e0e8fc,#e2eafc,#e5ecfd,#e7edfd,#e8eefd,#eaf0fd,#edf2fd,#f1f5fe,#f7f9fe,#fdfdfe,#fefdfc,#fefcfb,#fefdfd,#fdfdfe,#f7f9fe,#f1f4fd,#eaeffd,#e2eafc,#d7e2fc,#c8d7fc,#b1c3fc,#8da1fa,#5d6aff,#262aff,#1301d3,#1e008e,#210072,#210076,#1b00ab,#1615ff,#6979fe,#bdcefc,#edf1fd,#fefaf7,#fdf2eb,#fdece3,#fde8de,#fde7dc,#fde7dd,#fdebe2,#fdf2eb,#fef7f3,#fefbf9,#fefbfa,#fef7f3,#fdeee6,#fddfd2,#fecabb,#ffb3a4,#ff9682,#ff816d,#ff7c68,#ff8874,#ff9f8c,#ffb8a9,#fecabb,#fdd8ca,#fde2d6,#fde9de,#fdede4,#fdefe7,#fdf0e8,#fdf0e9,#fdf0e8,#fdf0e8,#fdefe7,#fdefe6,#fdeee5,#fdece3,#fdebe1,#fde8de 380px,#fde7dc 383px)"></i><i style="background:linear-gradient(90deg,#c9d8fc,#c7d5fc,#c1d1fc,#c0d0fc,#c1d1fc,#c4d4fc,#c9d7fc,#cedbfc,#d2defc,#d6e1fc,#d8e2fc,#dae4fc,#dee7fc,#e5ecfd,#eff3fd,#f9fafe,#fefdfc,#fefbf9,#fefcfb,#fdfefe,#f5f8fe,#ecf1fd,#e2eafc,#d8e2fc,#ccd9fc,#bdcefc,#aabdfc,#8b9ffa,#5e6cff,#2b2fff,#1101d9,#1e0091,#210073,#210077,#1a00af,#1b1cff,#7384fc,#c6d6fc,#f4f7fe,#fdf7f2,#fdf0e8,#fdebe2,#fde8dd,#fde6db,#fde7dd,#fdebe2,#fdf2eb,#fef8f4,#fefbf9,#fefbf9,#fdf5f0,#fdeae0,#fdd8c9,#ffc0b1,#ffa290,#ff826e,#ff6b59,#ff6554,#ff7460,#ff8d79,#ffac9b,#ffc2b3,#fed2c3,#fddfd1,#fde6db,#fdece2,#fdefe6,#fdf0e8,#fdf0e8,#fdf0e8,#fdf0e8,#fdefe7,#fdefe6,#fdeee5,#fdede4,#fdebe2,#fdeae0 380px,#fde8de 383px)"></i><i style="background:linear-gradient(90deg,#aec1fc,#aabdfc,#a2b5fb,#9fb3fb,#a2b6fb,#a8bbfb,#afc2fc,#b7c9fc,#becffc,#c3d3fc,#c6d5fc,#c8d7fc,#cddbfc,#d7e1fc,#e5ebfd,#f3f6fe,#fefefe,#fefbf9,#fefcfa,#fdfdfe,#f2f5fe,#e5ecfd,#d8e3fc,#ccd9fc,#bfcffc,#b2c4fc,#a2b6fb,#8a9efa,#6372ff,#343aff,#0e02e8,#1c009e,#210079,#20007e,#1900bb,#2629ff,#8194fa,#d1ddfc,#fcfdfe,#fdf4ee,#fdeee5,#fdebe1,#fde8de,#fde7dc,#fde8dd,#fdece3,#fdf2eb,#fef8f4,#fefbf9,#fefaf7,#fdf3ec,#fde5d9,#fecfc0,#ffb6a7,#ff917d,#ff6f5c,#ff5646,#ff4f41,#ff5f4f,#ff7c68,#ff9d8a,#ffb9aa,#fecbbc,#fddacc,#fde4d8,#fdeae0,#fdeee5,#fdf0e8,#fdf0e8,#fdf0e8,#fdf0e8,#fdf0e8,#fdefe7,#fdeee6,#fdede5,#fdece3,#fdebe2 380px,#fdeae0 383px)"></i><i style="background:linear-gradient(90deg,#90a4fa,#8a9efa,#7f92fb,#7d8ffb,#8194fb,#899dfa,#94a8fa,#a0b4fb,#aabdfc,#b0c3fc,#b3c5fc,#b6c8fc,#bccdfc,#c8d6fc,#d9e3fc,#ebf0fd,#fbfcfe,#fefcfb,#fefdfc,#f9fbfe,#ecf1fd,#dde6fc,#cddbfc,#becffc,#b1c3fc,#a6bafb,#9baffb,#8b9ffa,#6c7cfd,#414aff,#0a05fb,#1a00b1,#1f0089,#1e0091,#1301d1,#363cff,#92a6fa,#dde6fc,#fefbf9,#fdf1e9,#fdece3,#fdeae1,#fde8de,#fde7dd,#fde8de,#fdece3,#fdf2ec,#fef8f4,#fefaf8,#fef8f5,#fdf0e8,#fddfd2,#ffc7b8,#ffa999,#ff816d,#ff5b4b,#ff3e34,#ff372f,#ff4a3d,#ff6a58,#ff8e7a,#ffafa0,#ffc4b5,#fdd5c6,#fde1d4,#fde9de,#fdede5,#fdf0e8,#fdf0e8,#fdf0e9,#fdf0e8,#fdf0e8,#fdefe7,#fdefe7,#fdeee6,#fdeee5,#fdede4 380px,#fdece3 383px)"></i><i style="background:linear-gradient(90deg,#7283fc,#6c7cfd,#6170ff,#606eff,#6473fe,#6e7ffd,#7c8ffb,#8a9efa,#96aafa,#9eb2fb,#a1b5fb,#a4b8fb,#abbefc,#b8cafc,#ccdafc,#e2e9fc,#f3f6fe,#fcfdfe,#fbfcfe,#f2f6fe,#e4ebfd,#d3defc,#c1d1fc,#b0c3fc,#a2b6fb,#99adfb,#95a9fa,#8ca0fa,#7687fc,#4f5aff,#1818ff,#1500cd,#1c00a4,#1b00ab,#0c03ee,#4a53ff,#a4b8fb,#e8eefd,#fef7f3,#fdeee6,#fdebe2,#fdeae1,#fde9df,#fde8de,#fde9de,#fdece3,#fdf2eb,#fdf7f3,#fef9f6,#fdf6f2,#fdece3,#fddacc,#ffc0b1,#ff9c89,#ff725f,#ff473c,#fe2925,#fe2321,#ff332d,#ff5849,#ff7f6b,#ffa391,#ffbdae,#fecfc1,#fdded0,#fde7dc,#fdece3,#fdefe7,#fdf0e9,#fdf0e9,#fdf0e9,#fdf0e9,#fdf0e8,#fdf0e8,#fdefe7,#fdefe7,#fdeee6 380px,#fdeee6 383px)"></i><i style="background:linear-gradient(90deg,#5b68ff,#5763ff,#4f5aff,#4e59ff,#5460ff,#5d6bff,#6a7bfe,#7a8cfb,#889cfa,#90a4fa,#93a7fa,#95a9fa,#9baffb,#aabdfc,#becffc,#d5e0fc,#e7edfd,#f1f5fe,#f0f4fd,#e7edfd,#d8e2fc,#c6d5fc,#b2c5fc,#a0b4fb,#93a7fa,#8da1fa,#8fa3fa,#8ea2fa,#7f92fb,#5c6aff,#2c31ff,#0b03f0,#1600c6,#1401cf,#1514ff,#5c6aff,#b5c7fc,#f1f5fe,#fdf4ef,#fdece3,#fdebe1,#fdebe1,#fdeae0,#fde9de,#fde9df,#fdece3,#fdf1ea,#fdf6f1,#fef7f4,#fdf4ee,#fde8de,#fdd4c5,#ffb9aa,#ff917d,#ff6352,#ff342d,#fd191a,#fd1315,#fe2220,#ff4439,#ff705d,#ff9682,#ffb6a7,#fecabb,#fddbcc,#fde5da,#fdebe2,#fdefe7,#fdf0e8,#fdf1e9,#fdf1e9,#fdf1e9,#fdf0e9,#fdf0e9,#fdf0e8,#fdf0e8,#fdf0e8 380px,#fdf0e8 383px)"></i><i style="background:linear-gradient(90deg,#4d57ff,#4953ff,#424bff,#444dff,#4c56ff,#5662ff,#6271ff,#7283fc,#8093fa,#889cfa,#8a9efa,#8b9ffa,#90a4fa,#9cb0fb,#b0c3fc,#c5d5fc,#d7e1fc,#e0e8fc,#dfe8fc,#d7e1fc,#c8d7fc,#b6c8fc,#a3b7fb,#91a5fa,#8598fa,#8396fa,#899dfa,#8ea2fa,#879bfa,#6b7bfd,#434cff,#1919ff,#0c04f2,#0c07f8,#3137ff,#7485fc,#c4d3fc,#f8fafe,#fdf3ec,#fdece3,#fdebe1,#fdebe2,#fdeae1,#fde9df,#fde9df,#fdece2,#fdf0e9,#fdf4ef,#fdf5f0,#fdf1e9,#fde4d8,#fecec0,#ffb3a4,#ff8773,#ff5747,#fe2623,#fc0b10,#fc040b,#fd1215,#ff312b,#ff6050,#ff8a76,#ffae9e,#ffc5b6,#fdd7c8,#fde3d7,#fdeae1,#fdeee6,#fdf0e8,#fdf1e9,#fdf1ea,#fdf1ea,#fdf1ea,#fdf1ea,#fdf1ea,#fdf1ea,#fdf1ea 380px,#fdf2eb 383px)"></i><i style="background:linear-gradient(90deg,#4149ff,#3e46ff,#3b43ff,#4048ff,#4a54ff,#5561ff,#6170ff,#7182fd,#7e91fb,#8598fa,#869afa,#8599fa,#879bfa,#90a4fa,#a0b4fb,#b2c5fc,#c1d1fc,#c9d7fc,#c8d7fc,#c1d1fc,#b4c6fc,#a3b7fb,#91a5fa,#8194fa,#7789fc,#788afc,#8396fa,#8da1fa,#8da1fa,#7a8cfb,#5864ff,#373dff,#2224ff,#292cff,#505bff,#8fa3fa,#d0ddfc,#fdfdfe,#fdf2ec,#fdede4,#fdece3,#fdece3,#fdebe1,#fde9df,#fde9de,#fdebe1,#fdefe6,#fdf2eb,#fdf2eb,#fdede4,#fde0d2,#fec9ba,#ffac9b,#ff7f6b,#ff4a3e,#fd1b1b,#fb0109,#f5000a,#fc050b,#fe2220,#ff5243,#ff7f6b,#ffa593,#ffc0b1,#fdd3c5,#fde1d4,#fde9df,#fdeee5,#fdf0e8,#fdf1e9,#fdf1ea,#fdf1eb,#fdf2eb,#fdf2eb,#fdf2eb,#fdf2ec,#fdf3ec 380px,#fdf3ed 383px)"></i><i style="background:linear-gradient(90deg,#383fff,#373eff,#3940ff,#4049ff,#4c56ff,#5864ff,#6473fe,#7485fc,#8093fa,#8599fa,#8599fa,#8295fa,#8094fa,#8498fa,#8ea2fa,#9aaefb,#a5b8fb,#abbefc,#abbefc,#a5b9fb,#9baffb,#8da1fa,#7e90fb,#7181fd,#6a7afe,#6e7efd,#7b8efb,#8a9efa,#91a5fa,#889cfa,#6d7dfd,#5561ff,#4650ff,#4e58ff,#6f7ffd,#a8bcfb,#dbe5fc,#fefefd,#fdf3ed,#fdeee6,#fdede5,#fdede4,#fdebe2,#fde9df,#fde8de,#fde9df,#fdece3,#fdefe6,#fdeee6,#fde8dd,#fddacc,#ffc4b5,#ffa593,#ff7864,#ff4036,#fd1214,#f4000a,#ed000d,#f70009,#fd1718,#ff4439,#ff7561,#ff9d8a,#ffbcad,#fed0c1,#fddfd2,#fde8dd,#fdede4,#fdefe7,#fdf1e9,#fdf1ea,#fdf2eb,#fdf2ec,#fdf3ec,#fdf3ed,#fdf3ed,#fdf4ee 380px,#fdf4ef 383px)"></i><i style="background:linear-gradient(90deg,#3238ff,#3238ff,#383fff,#424bff,#4f59ff,#5b69ff,#6979fe,#788afc,#8396fa,#879bfa,#8599fa,#7f92fb,#7a8cfb,#7789fc,#798bfb,#7e91fb,#8396fb,#879afa,#889bfa,#8598fa,#7f92fb,#7687fc,#6a7afe,#616fff,#5e6cff,#6372ff,#7384fc,#869afa,#94a8fa,#94a8fa,#8599fa,#7384fc,#6979fe,#7283fc,#93a7fa,#bdcefc,#e4ebfd,#fefdfc,#fdf4ef,#fdf0e9,#fdefe7,#fdeee5,#fdece3,#fde9df,#fde8dd,#fde8dd,#fdeae0,#fdebe1,#fde9df,#fde3d6,#fdd4c6,#ffbfb0,#ff9e8b,#ff715e,#ff3730,#fc0a0f,#ee000c,#e7000f,#f1000b,#fc0e12,#ff3931,#ff6d5b,#ff9783,#ffb9aa,#fecdbf,#fdded0,#fde7dc,#fdece3,#fdefe7,#fdf1e9,#fdf2eb,#fdf2ec,#fdf3ed,#fdf4ee,#fdf4ee,#fdf4ef,#fdf5f0 380px,#fdf5f0 383px)"></i><i style="background:linear-gradient(90deg,#2c31ff,#2e33ff,#363cff,#424bff,#505bff,#5d6bff,#6c7dfd,#7b8dfb,#8599fa,#889cfa,#8498fa,#7b8efb,#7182fd,#6878fe,#6372ff,#606eff,#5f6eff,#616ffe,#6271fe,#6472fe,#6372fe,#5f6dff,#5966ff,#5460ff,#535fff,#5966ff,#6979fe,#8093fa,#94a8fa,#9db1fb,#9aaefb,#93a7fa,#90a4fa,#9aaefb,#b2c5fc,#d0dcfc,#ecf1fd,#fefdfc,#fdf6f1,#fdf2ec,#fdf0e9,#fdefe7,#fdece3,#fde9df,#fde7dc,#fde6db,#fde7dc,#fde7dc,#fde4d8,#fddcce,#fecdbe,#ffb9aa,#ff9783,#ff6a58,#ff302a,#fc050c,#eb000e,#e40010,#ed000d,#fc0a0f,#ff342d,#ff6957,#ff9480,#ffb7a8,#feccbd,#fdddcf,#fde6db,#fdece3,#fdefe7,#fdf1e9,#fdf2eb,#fdf3ed,#fdf4ee,#fdf4ef,#fdf5f0,#fdf5f0,#fdf6f1 380px,#fdf6f2 383px)"></i><i style="background:linear-gradient(90deg,#272bff,#282dff,#3136ff,#3e45ff,#4d58ff,#5b68ff,#6a7afd,#7a8cfb,#8497fa,#869afa,#8093fa,#7486fc,#6575fe,#5966ff,#4f5aff,#464fff,#4049ff,#3f48ff,#434cff,#4953ff,#4d58ff,#4e59ff,#4b55ff,#464fff,#464fff,#4e59ff,#5e6cff,#788afc,#92a6fa,#a4b8fb,#abbffc,#adc0fc,#b0c3fc,#b9cbfc,#cad8fc,#dee7fc,#f2f5fe,#fefdfc,#fef7f3,#fdf4ee,#fdf2eb,#fdefe7,#fdece3,#fde9df,#fde7dc,#fde5da,#fde4d8,#fde2d6,#fdded0,#fdd5c6,#ffc6b7,#ffb2a3,#ff8f7b,#ff6352,#fe2a26,#fc0209,#e9000e,#e30011,#ed000d,#fc0a0f,#ff342d,#ff6a58,#ff9480,#ffb7a8,#feccbd,#fddcce,#fde6db,#fdece2,#fdefe7,#fdf1e9,#fdf2eb,#fdf3ed,#fdf4ef,#fdf5f0,#fdf6f1,#fdf6f2,#fdf7f2 380px,#fdf7f3 383px)"></i><i style="background:linear-gradient(90deg,#2123ff,#2123ff,#2629ff,#3237ff,#424aff,#525eff,#6170ff,#7183fc,#7d8ffb,#7f91fb,#7789fc,#6877fe,#5865ff,#4851ff,#363cff,#272bff,#1e20ff,#1d1eff,#2326ff,#2d32ff,#373eff,#3b42ff,#3940ff,#353bff,#353bff,#3f48ff,#545fff,#6e7ffd,#8fa3fa,#a9bdfb,#b7c9fc,#bfd0fc,#c6d5fc,#cfdcfc,#dbe5fc,#e9effd,#f6f9fe,#fefdfc,#fef8f5,#fdf5f0,#fdf2ec,#fdf0e8,#fdede4,#fdeae0,#fde7dc,#fde4d9,#fde2d5,#fdded0,#fdd8c9,#fecdbe,#ffbeaf,#ffa796,#ff8571,#ff5b4b,#fe2623,#fc0108,#ea000e,#e50010,#f0000c,#fd0f13,#ff3b33,#ff6f5c,#ff9884,#ffb9aa,#fecdbe,#fdddcf,#fde6db,#fdece3,#fdefe7,#fdf1ea,#fdf2ec,#fdf4ee,#fdf5ef,#fdf5f1,#fdf6f2,#fdf7f3,#fef7f3 380px,#fef8f4 383px)"></i><i style="background:linear-gradient(90deg,#1818ff,#1615ff,#1514ff,#1e1fff,#2d32ff,#4149ff,#535fff,#6271ff,#6f7ffd,#7182fd,#6878fe,#5966ff,#4750ff,#2f35ff,#1a1aff,#0d08fa,#0b03f0,#0b03f0,#0c07fa,#1514ff,#2225ff,#292dff,#272bff,#2326ff,#2325ff,#2d32ff,#4650ff,#6372ff,#8a9efa,#abbefc,#becffc,#cbd9fc,#d4e0fc,#dde6fc,#e6ecfd,#f0f4fd,#fafbfe,#fefdfb,#fef9f5,#fdf5f0,#fdf2ec,#fdf0e8,#fdede4,#fdeae0,#fde7dc,#fde4d8,#fde0d2,#fddacb,#fed1c2,#ffc5b6,#ffb5a6,#ff9b88,#ff7b67,#ff5244,#fe2321,#fc0209,#ee000d,#eb000e,#f80009,#fd1a1b,#ff4a3d,#ff7a66,#ffa08e,#ffbdae,#fed0c1,#fddfd1,#fde7dd,#fdede4,#fdf0e8,#fdf1ea,#fdf3ec,#fdf4ee,#fdf5f0,#fdf6f1,#fdf6f2,#fef7f3,#fef8f4 380px,#fef8f4 383px)"></i><i style="background:linear-gradient(90deg,#0e0bff,#0a06fd,#0a03f3,#0b05f7,#1311ff,#272aff,#3e45ff,#515dff,#5d6bff,#606fff,#5965ff,#4852ff,#2f35ff,#1615ff,#0b03f0,#1301d4,#1600c4,#1600c6,#1201d8,#0a03f3,#110fff,#1a1aff,#1717ff,#1210ff,#110fff,#1c1dff,#373eff,#5a67ff,#8599fa,#acbffc,#c3d3fc,#d2defc,#dce5fc,#e4ebfd,#ecf1fd,#f4f7fe,#fcfdfe,#fefcfa,#fef8f5,#fdf5f0,#fdf2eb,#fdf0e8,#fdede4,#fdebe1,#fde7dd,#fde3d7,#fdded0,#fdd5c7,#fecabb,#ffbdae,#ffaa99,#ff8e7a,#ff6f5d,#ff493d,#fe211f,#fc050b,#f4000a,#f4000a,#fc090e,#fe2b26,#ff5d4c,#ff8874,#ffab9b,#ffc3b4,#fdd4c6,#fde1d4,#fde9df,#fdeee5,#fdf0e9,#fdf2eb,#fdf3ed,#fdf4ef,#fdf5f0,#fdf6f1,#fdf7f3,#fef7f4,#fef8f4 380px,#fef8f5 383px)"></i><i style="background:linear-gradient(90deg,#0903f8,#0d02ea,#1401d0,#1401d0,#0f02e3,#0d0afb,#2325ff,#3b43ff,#4d57ff,#515cff,#4851ff,#3238ff,#1818ff,#0c02ed,#1600c7,#1b00ac,#1c009f,#1c00a3,#1900b8,#1201d8,#0a03f6,#0c09ff,#0b06fe,#0a03f7,#0a03f4,#0c09ff,#292eff,#535fff,#8295fa,#adc0fc,#c7d6fc,#d7e1fc,#e1e9fc,#e9effd,#f0f4fd,#f8f9fe,#fefefe,#fefbf9,#fef7f3,#fdf4ee,#fdf1ea,#fdefe7,#fdede4,#fdebe1,#fde8dd,#fde3d7,#fddbcd,#fed0c2,#ffc3b4,#ffb5a5,#ff9d8a,#ff826e,#ff6453,#ff4137,#fe201f,#fc0b0f,#fb0209,#fc050c,#fd1c1c,#ff4338,#ff715e,#ff9884,#ffb7a8,#fecabb,#fddacb,#fde4d8,#fdebe1,#fdefe7,#fdf1ea,#fdf2ec,#fdf4ee,#fdf5ef,#fdf5f1,#fdf6f2,#fdf7f3,#fef8f4,#fef8f5 380px,#fef8f5 383px)"></i><i style="background:linear-gradient(90deg,#0d02e9,#1201d5,#1a00af,#1b00a9,#1900b7,#1201d7,#0c07fb,#2325ff,#373eff,#3e46ff,#3339ff,#1d1eff,#0a03f4,#1600c8,#1c00a5,#1f008b,#200080,#1f0086,#1c009e,#1800c0,#0f02e2,#0b03f3,#0c03ef,#0e02e4,#0f02e1,#0a03f3,#2023ff,#4f59ff,#8093fa,#afc2fc,#cbd9fc,#dbe4fc,#e5ecfd,#edf1fd,#f4f7fe,#fbfcfe,#fefcfb,#fef9f6,#fdf5f1,#fdf2ec,#fdf0e8,#fdeee6,#fdede4,#fdebe1,#fde8dd,#fde2d5,#fdd9ca,#feccbd,#ffbdae,#ffaa9a,#ff917d,#ff7763,#ff5b4b,#ff3b33,#fe2220,#fd1315,#fd0f12,#fd1919,#ff332d,#ff5e4d,#ff8672,#ffaa99,#ffc1b2,#fed2c3,#fddfd1,#fde7dc,#fdede4,#fdf0e9,#fdf2eb,#fdf3ed,#fdf4ef,#fdf5f0,#fdf6f1,#fdf6f2,#fef7f3,#fef8f4,#fef8f5 380px,#fef9f6 383px)"></i><i style="background:linear-gradient(90deg,#1101db,#1800c1,#1e0092,#1f0086,#1e0092,#1a00af,#1101d9,#0d0afd,#2225ff,#2a2eff,#2022ff,#0b07fc,#1201d5,#1b00ab,#1f0088,#210076,#210070,#210075,#1f0089,#1b00ad,#1401d0,#0f02e4,#0f02e1,#1201d7,#1201d5,#0d02ea,#1d1eff,#4e59ff,#8397fa,#b4c6fc,#d0ddfc,#e1e8fc,#eaeffd,#f2f5fe,#f9fafe,#fefdfd,#fef9f7,#fdf6f1,#fdf3ed,#fdf1e9,#fdeee6,#fdede4,#fdece3,#fdeae1,#fde7dc,#fde1d4,#fdd6c7,#ffc7b8,#ffb7a8,#ffa18e,#ff8773,#ff6e5b,#ff5546,#ff3a32,#fe2724,#fe1f1e,#fe201f,#ff302a,#ff5143,#ff7763,#ff9b88,#ffb9aa,#fecbbc,#fddacc,#fde4d8,#fdeae1,#fdefe7,#fdf1eb,#fdf3ed,#fdf4ee,#fdf5f0,#fdf5f1,#fdf6f2,#fdf7f3,#fef7f4,#fef8f4,#fef9f6 380px,#fef9f6 383px)"></i><i style="background:linear-gradient(90deg,#1401d1,#1a00b3,#21007c,#210071,#210077,#1e008f,#1900b7,#0e02e5,#100dff,#1919ff,#0f0dff,#0e02e7,#1900bb,#1e0093,#210077,#22006a,#220066,#22006b,#21007a,#1c009d,#1800c0,#1201d7,#1201d8,#1301d1,#1301d3,#0d02ec,#2022ff,#525eff,#8ca0fa,#bccdfc,#d9e3fc,#e9effd,#f3f6fe,#fafbfe,#fefdfc,#fef9f6,#fdf5f0,#fdf2eb,#fdf0e8,#fdeee5,#fdece3,#fdece2,#fdebe1,#fde9df,#fde5da,#fdded0,#fed2c3,#ffc2b3,#ffb1a2,#ff9885,#ff806c,#ff6957,#ff5344,#ff3f35,#ff322c,#ff2f2a,#ff372f,#ff4d40,#ff6c5a,#ff8e7a,#ffaf9f,#ffc4b5,#fdd5c6,#fde0d3,#fde8de,#fdeee5,#fdf1ea,#fdf3ed,#fdf4ee,#fdf5f0,#fdf6f1,#fdf6f2,#fdf7f3,#fef7f3,#fef8f4,#fef8f5,#fef9f6 380px,#fef9f7 383px)"></i><i style="background:linear-gradient(90deg,#1500ca,#1b00aa,#210071,#220065,#22006a,#210079,#1c009f,#1500cb,#0b03f3,#0b07fe,#0a03f5,#1301d3,#1b00aa,#200083,#21006f,#220063,#22005f,#220064,#210073,#1e0090,#1a00b4,#1500cd,#1301d4,#1201d5,#1001dd,#0a04f9,#2c31ff,#5e6cff,#9baffb,#c9d8fc,#e6ecfd,#f7f9fe,#fdfcfb,#fef9f6,#fdf5f0,#fdf2eb,#fdefe7,#fdece3,#fdebe2,#fdeae1,#fdeae0,#fdeae0,#fde9df,#fde7dc,#fde3d6,#fddacc,#fecdbe,#ffbdae,#ffaa9a,#ff927e,#ff7c68,#ff6856,#ff5748,#ff4a3d,#ff4439,#ff473c,#ff5446,#ff6957,#ff8571,#ffa391,#ffbdae,#fecfc0,#fdddcf,#fde6da,#fdece3,#fdf0e9,#fdf3ec,#fdf4ef,#fdf5f0,#fdf6f1,#fdf6f2,#fef7f3,#fef8f4,#fef8f5,#fef9f5,#fef9f6,#fefaf7 380px,#fefaf8 383px)"></i><i style="background:linear-gradient(90deg,#1600c7,#1c00a5,#22006c,#22005e,#220061,#21006f,#1f008d,#1900b8,#0f02e0,#0b03f2,#0e02e6,#1600c5,#1c009f,#21007b,#22006b,#220060,#22005b,#220061,#21006e,#1f0085,#1b00a9,#1700c5,#1201d6,#0f02e1,#0a03f3,#1919ff,#434bff,#7486fc,#afc2fc,#dae4fc,#f7f9fe,#fef9f6,#fdf2ec,#fdede5,#fde9df,#fde7dc,#fde5da,#fde5d9,#fde6da,#fde7dc,#fde7dd,#fde8dd,#fde7dc,#fde4d8,#fddfd1,#fdd5c7,#ffc7b8,#ffb8a9,#ffa492,#ff8e7a,#ff7c68,#ff6c59,#ff604f,#ff5a4a,#ff5b4b,#ff6251,#ff705d,#ff836f,#ff9c89,#ffb5a6,#ffc7b8,#fdd7c9,#fde2d6,#fdeae0,#fdefe7,#fdf2eb,#fdf4ee,#fdf5f1,#fdf6f2,#fdf7f3,#fef8f4,#fef8f5,#fef9f5,#fef9f6,#fefaf7,#fefaf8,#fefaf8 380px,#fefbf9 383px)"></i><i style="background:linear-gradient(90deg,#1600c8,#1c00a4,#22006a,#22005b,#22005c,#22006a,#200081,#1b00ac,#1301d3,#0e02e5,#1101da,#1900bc,#1d009a,#210079,#22006a,#22005f,#22005b,#220060,#22006c,#21007d,#1c00a0,#1800c0,#1101dc,#0a03f5,#1616ff,#353cff,#5e6cff,#94a8fa,#c8d6fc,#eff3fd,#fef7f4,#fdece2,#fde2d6,#fddcce,#fdd9cb,#fdd8ca,#fdd9cb,#fddcce,#fde0d2,#fde3d6,#fde5d9,#fde5da,#fde4d8,#fde1d4,#fddacc,#fecfc0,#ffc2b3,#ffb3a4,#ff9e8c,#ff8c78,#ff7e6a,#ff7360,#ff6e5b,#ff6d5b,#ff725f,#ff7c68,#ff8975,#ff9b88,#ffb1a1,#ffc1b2,#fed1c2,#fdded0,#fde7dc,#fdede4,#fdf1ea,#fdf3ee,#fdf5f0,#fdf7f2,#fef7f4,#fef8f5,#fef9f6,#fef9f7,#fefaf7,#fefaf8,#fefbf9,#fefbf9,#fefbfa 380px,#fefcfa 383px)"></i><i style="background:linear-gradient(90deg,#1500cc,#1b00a8,#22006b,#22005b,#22005c,#220069,#21007c,#1c00a5,#1600c9,#1101db,#1301d3,#1900b8,#1d0098,#21007a,#22006c,#220062,#22005e,#220061,#22006a,#210079,#1d0099,#1900bd,#0e02e5,#1312ff,#3339ff,#5764ff,#8699fb,#b8c9fc,#e2eafc,#fefaf8,#fde9df,#fdd9cb,#fecdbe,#ffc6b7,#ffc4b5,#ffc7b8,#fecbbd,#fed2c3,#fdd9ca,#fdded1,#fde2d5,#fde3d7,#fde1d4,#fdddce,#fdd4c6,#fec9ba,#ffbcad,#ffac9c,#ff9a87,#ff8b77,#ff826e,#ff7d69,#ff7d69,#ff816d,#ff8975,#ff9480,#ffa290,#ffb2a2,#ffbfb0,#feccbd,#fdd9cb,#fde3d7,#fdeae0,#fdefe7,#fdf2ec,#fdf5ef,#fdf6f2,#fef8f4,#fef9f5,#fef9f7,#fefaf8,#fefbf8,#fefbf9,#fefbfa,#fefcfa,#fefcfb,#fefcfb 380px,#fefcfb 383px)"></i><i style="background:linear-gradient(90deg,#1301d2,#1a00af,#210070,#22005f,#22005f,#22006b,#21007d,#1c00a3,#1700c3,#1301d4,#1400cd,#1900b6,#1d009a,#20007d,#210070,#220067,#220062,#220064,#22006b,#210077,#1e0093,#1900bb,#0b03f1,#272bff,#535fff,#8295fb,#b3c5fc,#dbe5fc,#fbfafb,#fdece2,#fdd7c9,#ffc4b5,#ffb6a7,#ffae9e,#ffae9e,#ffb5a6,#ffbeaf,#fec8b9,#fed1c3,#fddacb,#fddfd1,#fde0d3,#fdded0,#fdd8ca,#fecfc0,#ffc3b4,#ffb7a8,#ffa695,#ff9783,#ff8c78,#ff8874,#ff8975,#ff8d79,#ff9582,#ff9f8d,#ffac9b,#ffb7a8,#ffc1b2,#fecbbc,#fdd6c8,#fddfd2,#fde6db,#fdece3,#fdf0e9,#fdf3ed,#fdf5f1,#fef7f3,#fef9f5,#fefaf7,#fefaf8,#fefbf9,#fefcfa,#fefcfb,#fefdfc,#fefdfc,#fefdfc,#fefdfc 380px,#fefdfc 383px)"></i><i style="background:linear-gradient(90deg,#1101db,#1900b8,#210078,#220068,#220067,#210070,#200083,#1c00a4,#1800c1,#1401d0,#1500ca,#1900b7,#1c009e,#200085,#210076,#21006d,#220069,#220068,#21006c,#210076,#1e008e,#1900bb,#0905fd,#3f47ff,#7789fc,#b2c4fc,#dde6fc,#faf9fb,#fdede4,#fdd8ca,#ffc2b3,#ffac9b,#ff9784,#ff8e7a,#ff927e,#ff9f8c,#ffb1a1,#ffbfb0,#fecbbc,#fdd5c6,#fddbcd,#fdddcf,#fddacc,#fdd3c5,#fecabb,#ffbeaf,#ffb2a3,#ffa290,#ff9581,#ff8f7b,#ff8f7b,#ff9480,#ff9e8b,#ffa998,#ffb4a5,#ffbdae,#ffc5b6,#fecebf,#fdd6c8,#fdded0,#fde4d8,#fde9df,#fdeee5,#fdf1ea,#fdf4ee,#fdf6f2,#fef8f4,#fef9f7,#fefaf8,#fefbfa,#fefcfb,#fefdfc,#fefdfd,#fefefd,#fefefe,#fefefe,#fefefe 380px,#fefefe 383px)"></i><i style="background:linear-gradient(90deg,#0e02e4,#1600c6,#1f0089,#210075,#210073,#21007b,#1e0090,#1b00ab,#1700c2,#1401ce,#1600c9,#1900b8,#1c00a3,#1e008e,#21007d,#210075,#210070,#21006d,#21006e,#210075,#1f008b,#1900bc,#1110ff,#5460ff,#9fb3fb,#dbe5fc,#fbf8f8,#fde9df,#fdd7c8,#ffc2b3,#ffa999,#ff8c78,#ff7764,#ff6f5c,#ff7764,#ff8975,#ffa18e,#ffb7a8,#ffc5b6,#fed0c1,#fdd7c9,#fdd9cb,#fdd7c8,#fed0c1,#ffc6b7,#ffbbac,#ffae9e,#ff9f8d,#ff9581,#ff927e,#ff9682,#ffa08e,#ffad9d,#ffb8a9,#ffc1b2,#fecabb,#fed2c3,#fdd9cb,#fddfd1,#fde4d8,#fde8dd,#fdece2,#fdefe7,#fdf2eb,#fdf4ef,#fdf7f2,#fef8f5,#fefaf8,#fefbfa,#fefcfb,#fefdfc,#fefefd,#fefefe,#fefefe,#fefefe,#fefefe,#fefefe 380px,#fefefe 383px)"></i><i style="background:linear-gradient(90deg,#0c02ee,#1201d7,#1c00a4,#1e008d,#1f0089,#1e0092,#1c00a3,#1900b6,#1600c7,#1401ce,#1600c8,#1900ba,#1b00a9,#1d0098,#1f0089,#20007e,#210077,#210073,#210072,#210075,#1f0089,#1900bd,#1b1cff,#6878fe,#c2d2fc,#fbf9fa,#fde5da,#fecfc1,#ffbeaf,#ffa897,#ff8a76,#ff6d5b,#ff5748,#ff5143,#ff5e4e,#ff7864,#ff9480,#ffafa0,#ffc0b1,#fecbbd,#fdd3c5,#fdd5c7,#fdd3c4,#feccbe,#ffc3b4,#ffb9aa,#ffac9c,#ff9f8d,#ff9783,#ff9682,#ff9d8b,#ffaa9a,#ffb8a9,#ffc2b3,#feccbd,#fdd5c6,#fddcce,#fde1d4,#fde5d9,#fde8dd,#fdebe1,#fdede5,#fdf0e8,#fdf2ec,#fdf5f0,#fdf7f3,#fef9f6,#fefbf8,#fefcfb,#fefdfc,#fefefe,#fefefe,#fefefe,#fefefe,#fefefe,#fefefe,#fefefe 380px,#fefefe 383px)"></i><i style="background:linear-gradient(90deg,#0903f9,#0d02ea,#1600c5,#1a00b3,#1a00af,#1a00b2,#1900bb,#1600c6,#1401ce,#1401d0,#1600c9,#1900bc,#1a00af,#1c00a2,#1d0097,#1f008c,#200082,#21007a,#210075,#210077,#1f0089,#1800c0,#2427ff,#8093fb,#dfe7fc,#fdeae1,#fecabb,#ffb4a4,#ff9f8c,#ff8773,#ff6b58,#ff4d40,#ff362f,#ff342d,#ff493d,#ff6957,#ff8b77,#ffa998,#ffbcad,#fec8b9,#fecfc0,#fed2c3,#fed0c1,#fecabb,#ffc2b3,#ffb9aa,#ffad9d,#ffa18f,#ff9a87,#ff9b88,#ffa593,#ffb4a4,#ffbfb0,#fecbbc,#fdd5c6,#fdddcf,#fde2d6,#fde6db,#fde9df,#fdebe2,#fdede4,#fdefe7,#fdf1ea,#fdf3ed,#fdf5f0,#fef7f3,#fef9f6,#fefbf9,#fefcfb,#fefefd,#fefefe,#fefefe,#fdfefe,#fdfefe,#fdfefe,#fefefe,#fefefe 380px,#fefefe 383px)"></i><i style="background:linear-gradient(90deg,#0c09ff,#0a05fc,#0c02ed,#0f02e3,#1001dd,#1101db,#1101db,#1101db,#1101d9,#1301d4,#1500cb,#1800c0,#1a00b5,#1b00ac,#1c00a4,#1d009b,#1e0091,#200083,#210079,#210078,#1f008a,#1700c4,#2d32ff,#96aafa,#f8f9fd,#fdd4c6,#ffaf9f,#ff917d,#ff7c68,#ff6654,#ff493d,#fe2c28,#fe1e1d,#fe211f,#ff3830,#ff5f4e,#ff8571,#ffa493,#ffb9aa,#ffc4b5,#fecbbc,#fecebf,#fecdbe,#fec8b9,#ffc2b3,#ffbaab,#ffb0a0,#ffa593,#ff9e8c,#ffa08e,#ffac9b,#ffb9aa,#ffc6b7,#fed2c3,#fddbcd,#fde2d5,#fde6db,#fde9df,#fdece2,#fdede4,#fdefe6,#fdf0e8,#fdf2eb,#fdf3ed,#fdf5f0,#fef7f3,#fef9f7,#fefbf9,#fefdfc,#fefefe,#fefefe,#fdfefe,#fdfdfe,#fdfefe,#fefefe,#fefefe,#fefefe 380px,#fefefe 383px)"></i><i style="background:linear-gradient(90deg,#1616ff,#1717ff,#1919ff,#1818ff,#1413ff,#100efd,#0c07fb,#0a03f3,#0e02e7,#1101db,#1401cf,#1700c5,#1900bc,#1a00b5,#1a00af,#1b00a8,#1c009e,#1e008f,#20007e,#21007b,#1e008d,#1500cb,#373eff,#a9bdfc,#fdf6f1,#ffbfb0,#ff8f7b,#ff6e5b,#ff5849,#ff4137,#fe2824,#fd1517,#fc0c11,#fd1316,#fe2c27,#ff5949,#ff816d,#ffa290,#ffb8a9,#ffc2b3,#fec8b9,#fecabb,#fecabb,#ffc7b8,#ffc3b4,#ffbcad,#ffb4a5,#ffa999,#ffa492,#ffa796,#ffb2a3,#ffbeaf,#fecbbd,#fdd8c9,#fde0d3,#fde5da,#fde9df,#fdece2,#fdede5,#fdefe6,#fdf0e8,#fdf1ea,#fdf2ec,#fdf4ee,#fdf5f1,#fef7f4,#fef9f7,#fefbfa,#fefdfc,#fefefe,#fdfefe,#fdfdfe,#fdfdfe,#fefefe,#fefefe,#fefefe,#fefefe 380px,#fefefe 383px)"></i><i style="background:linear-gradient(90deg,#2224ff,#282cff,#373eff,#3c44ff,#3940ff,#2f34ff,#2124ff,#1211ff,#0903f8,#0e02e6,#1201d7,#1500cb,#1700c3,#1900bd,#1900b9,#1a00b3,#1b00a9,#1d0099,#1f0086,#20007f,#1e0093,#1301d3,#424bff,#bacbfc,#fdeae0,#ffaa99,#ff705d,#ff4a3e,#ff322c,#fe211f,#fd1013,#fb040b,#fa0109,#fc0a0f,#fe2623,#ff5647,#ff816d,#ffa290,#ffb7a8,#ffc0b1,#ffc5b6,#fec8b9,#fec8b9,#ffc7b8,#ffc4b5,#ffbeaf,#ffb7a8,#ffafa0,#ffaa9a,#ffad9d,#ffb8a9,#ffc3b4,#fed0c2,#fddcce,#fde3d7,#fde8dd,#fdebe1,#fdede4,#fdeee6,#fdf0e8,#fdf1e9,#fdf2eb,#fdf3ed,#fdf4ef,#fdf6f1,#fef8f4,#fefaf7,#fefcfa,#fefdfd,#fefefe,#fdfefe,#fdfdfe,#fdfefe,#fefefe,#fefefe,#fefefe,#fefefe 380px,#fefefe 383px)"></i><i style="background:linear-gradient(90deg,#3035ff,#3b43ff,#5460ff,#5c6aff,#5a67ff,#4f59ff,#3d44ff,#262aff,#1210ff,#0a03f4,#0f02e1,#1301d4,#1500cb,#1600c5,#1800c1,#1900bb,#1a00b1,#1c00a1,#1e008e,#1f0086,#1d009a,#1002de,#4d58ff,#cad8fc,#fdded0,#ff937f,#ff5345,#fe2925,#fd1718,#fc0a0f,#f90109,#f3000b,#f4000a,#fc050b,#fe2522,#ff5647,#ff826e,#ffa391,#ffb7a8,#ffbfb0,#ffc3b4,#ffc6b7,#ffc7b8,#ffc7b8,#ffc5b6,#ffc1b2,#ffbbac,#ffb5a6,#ffb1a2,#ffb4a5,#ffbcad,#fec8b9,#fdd5c6,#fddfd2,#fde6da,#fdeae0,#fdece3,#fdeee5,#fdefe7,#fdf0e9,#fdf1ea,#fdf2ec,#fdf3ee,#fdf5ef,#fdf6f2,#fef8f4,#fefaf7,#fefcfa,#fefefd,#fefefe,#fdfdfe,#fdfdfe,#fefefe,#fefefe,#fefefe,#fefefe,#fefefe 380px,#fefefe 383px)"></i><i style="background:linear-gradient(90deg,#4149ff,#4f59ff,#6d7dfd,#7d8ffb,#7a8cfb,#6a79fe,#5561ff,#3c44ff,#2225ff,#0d0aff,#0b03ef,#1002df,#1301d3,#1500cc,#1600c6,#1800bf,#1a00b5,#1b00a6,#1e0094,#1e008e,#1c00a4,#0c02ed,#5865ff,#d7e2fc,#fed2c4,#ff816d,#ff3931,#fd1315,#fb030a,#f5000a,#ef000c,#ec000d,#f1000c,#fc040b,#fe2623,#ff5a4a,#ff8571,#ffa594,#ffb7a8,#ffbfb0,#ffc3b4,#ffc5b6,#ffc7b8,#ffc7b8,#ffc7b8,#ffc3b4,#ffbeaf,#ffbaab,#ffb7a8,#ffbaab,#ffc1b2,#fecdbe,#fdd9ca,#fde2d5,#fde8dd,#fdebe1,#fdede4,#fdeee6,#fdf0e8,#fdf1ea,#fdf2ec,#fdf3ed,#fdf4ef,#fdf5f0,#fdf6f2,#fef8f5,#fefaf8,#fefcfb,#fefefd,#fefefe,#fdfdfe,#fdfefe,#fefefe,#fefefe,#fefefe,#fefefd,#fefefe 380px,#fefefe 383px)"></i><i style="background:linear-gradient(90deg,#535fff,#606eff,#879bfa,#98acfb,#96aafa,#8699fa,#6b7bfd,#525dff,#363cff,#1d1eff,#0a07fe,#0c02ec,#1101db,#1401d0,#1600c7,#1800bf,#1a00b5,#1b00a8,#1d0099,#1d0097,#1a00b0,#0905fc,#6573fe,#e4ebfd,#fec9ba,#ff725f,#fe2723,#fc040a,#f2000b,#eb000e,#e8000f,#e9000f,#f0000c,#fc070d,#fe2b26,#ff5f4f,#ff8a76,#ffa998,#ffb9aa,#ffc0b1,#ffc3b4,#ffc5b6,#ffc7b8,#fec8b9,#fec8b9,#ffc6b7,#ffc2b3,#ffbeaf,#ffbdae,#ffbfb0,#ffc7b8,#fed1c3,#fddcce,#fde4d9,#fde9df,#fdece3,#fdeee5,#fdefe7,#fdf0e9,#fdf2eb,#fdf3ed,#fdf4ef,#fdf5f0,#fdf6f1,#fef7f3,#fef9f5,#fefaf8,#fefcfb,#fefefd,#fefefe,#fdfefe,#fdfefe,#fefefe,#fefefe,#fefefd,#fefefd,#fefefd 380px,#fefefe 383px)"></i><i style="background:linear-gradient(90deg,#6574fe,#7587fc,#9cb0fb,#acbffc,#abbefc,#9cb0fb,#8396fa,#6473fe,#4a55ff,#2e34ff,#1817ff,#0903fa,#0f02e3,#1301d2,#1600c6,#1900bb,#1a00b2,#1b00a7,#1c009d,#1c00a1,#1800bf,#1514ff,#7586fc,#eff3fd,#ffc2b3,#ff6857,#fd1e1d,#f70009,#ea000e,#e50010,#e40010,#e8000f,#f3000b,#fc0e12,#ff352e,#ff6856,#ff907c,#ffad9d,#ffbcad,#ffc2b3,#ffc5b6,#ffc7b8,#fec8b9,#fecabb,#fecabb,#fec8b9,#ffc5b6,#ffc3b4,#ffc2b3,#ffc5b6,#feccbe,#fdd6c8,#fde0d2,#fde7dc,#fdebe1,#fdede5,#fdefe7,#fdf0e8,#fdf1ea,#fdf3ec,#fdf4ee,#fdf5f0,#fdf6f1,#fdf7f3,#fef8f4,#fef9f6,#fefbf9,#fefcfb,#fefefd,#fefefe,#fdfefe,#fdfefe,#fefefe,#fefefe,#fefefd,#fefefd,#fefefd 380px,#fefefe 383px)"></i><i style="background:linear-gradient(90deg,#7b8dfb,#899dfa,#aabefc,#b7c9fc,#b7c9fc,#acc0fc,#97abfa,#798bfb,#5b69ff,#4149ff,#2629ff,#0e0cff,#0d02eb,#1301d4,#1700c3,#1900b7,#1a00ae,#1b00a6,#1c00a2,#1b00ab,#1301d1,#2326ff,#8599fa,#f8fafe,#ffbeaf,#ff6453,#fd1a1b,#f4000a,#e7000f,#e30011,#e40010,#eb000e,#f90009,#fd1919,#ff4338,#ff725f,#ff9784,#ffb3a4,#ffbfb0,#ffc5b6,#fec8b9,#fecabb,#fecbbc,#feccbd,#feccbd,#fecbbd,#fec9bb,#fec8b9,#fec8b9,#feccbd,#fed2c4,#fddbcd,#fde3d7,#fde9de,#fdece3,#fdefe6,#fdf0e8,#fdf1ea,#fdf2ec,#fdf4ee,#fdf5f0,#fdf6f1,#fdf7f3,#fef8f4,#fef8f5,#fefaf7,#fefbf9,#fefdfc,#fefefe,#fefefe,#fdfefe,#fefefe,#fefefe,#fefefe,#fefefd,#fefefd,#fefefe 380px,#fefefe 383px)"></i><i style="background:linear-gradient(90deg,#8ea2fa,#99adfb,#b3c5fc,#becefc,#becffc,#b5c7fc,#a4b8fb,#8b9efa,#6b7cfd,#505bff,#3339ff,#1717ff,#0b03f2,#1201d5,#1800c0,#1a00b3,#1b00aa,#1b00a5,#1b00a7,#1900b6,#0e02e4,#3238ff,#93a7fa,#fefdfe,#ffbdae,#ff6655,#fd1d1c,#f6000a,#e8000f,#e50010,#e8000f,#f1000b,#fc080d,#fe2623,#ff5445,#ff7e6a,#ffa08e,#ffb8a9,#ffc3b4,#fecabb,#fecdbe,#fecebf,#fecfc0,#fed0c1,#fed0c1,#fecfc1,#fecec0,#fecebf,#fecfc1,#fdd3c4,#fdd9cb,#fde0d3,#fde6db,#fdebe1,#fdeee6,#fdf0e8,#fdf1ea,#fdf2ec,#fdf3ed,#fdf5ef,#fdf6f1,#fdf7f3,#fef8f4,#fef8f5,#fef9f6,#fefaf8,#fefbfa,#fefdfc,#fefefe,#fefefe,#fefefe,#fefefe,#fefefe,#fefefe,#fefefe,#fefefd,#fefefe 380px,#fefefe 383px)"></i><i style="background:linear-gradient(90deg,#9cb0fb,#a4b8fb,#b6c8fc,#bfd0fc,#c0d0fc,#b9cafc,#abbffc,#96aafa,#798bfb,#5b68ff,#3e46ff,#1f21ff,#0903f8,#1201d7,#1800be,#1a00af,#1b00a8,#1b00a6,#1b00ad,#1700c4,#0903f7,#4149ff,#9fb3fb,#fefdfc,#ffbfb0,#ff6f5c,#fe2623,#fb0109,#ed000d,#ea000e,#ef000c,#fa0109,#fd1718,#ff3a32,#ff6554,#ff8b77,#ffaa9a,#ffbeaf,#fec9ba,#fecfc1,#fdd3c4,#fdd4c5,#fdd5c6,#fdd5c6,#fdd5c6,#fdd5c6,#fdd5c6,#fdd5c7,#fdd7c9,#fddbcd,#fddfd2,#fde4d9,#fde9df,#fdede5,#fdf0e8,#fdf1ea,#fdf2ec,#fdf3ed,#fdf5ef,#fdf6f1,#fdf7f3,#fef8f4,#fef9f5,#fef9f6,#fefaf7,#fefbf9,#fefcfa,#fefdfc,#fefefe,#fefefe,#fefefe,#fefefe,#fefefe,#fefefe,#fefefe,#fefefe,#fefefe 380px,#fefefe 383px)"></i><i style="background:linear-gradient(90deg,#a2b6fb,#a7bbfb,#b5c7fc,#bccdfc,#bccdfc,#b7c9fc,#acc0fc,#99adfb,#8093fa,#606fff,#454eff,#2427ff,#0803fd,#1101da,#1800be,#1a00af,#1b00a8,#1b00a9,#1a00b5,#1301d3,#100eff,#4d57ff,#a7bbfb,#fefdfc,#ffc5b6,#ff7e6a,#ff3931,#fc0f12,#f70009,#f3000b,#f90109,#fd0f13,#fe2b26,#ff5345,#ff7965,#ff9986,#ffb5a6,#ffc5b6,#fecfc1,#fdd6c8,#fddacc,#fddcce,#fddcce,#fddcce,#fddbcd,#fddbcd,#fddcce,#fdddcf,#fddfd2,#fde2d6,#fde6da,#fde9df,#fdede4,#fdf0e8,#fdf2eb,#fdf3ec,#fdf4ee,#fdf5ef,#fdf6f1,#fdf7f3,#fef8f4,#fef9f6,#fef9f7,#fefaf7,#fefbf8,#fefbfa,#fefcfb,#fefdfd,#fefefe,#fefefe,#fefefe,#fefefe,#fefefe,#fefefe,#fefefe,#fefefe,#fefefe 380px,#fefefe 383px)"></i><i style="background:linear-gradient(90deg,#9fb3fb,#a3b7fb,#aec2fc,#b4c6fc,#b4c7fc,#b0c3fc,#a5b9fb,#94a8fa,#7d8ffb,#606eff,#454eff,#2629ff,#0906ff,#1001de,#1700c3,#1a00b3,#1b00ad,#1a00b1,#1800c1,#0e02e4,#1c1dff,#5662ff,#aabefc,#fcfcfe,#fecfc0,#ff927f,#ff5546,#fe2421,#fc0d11,#fc070d,#fd1013,#fe2422,#ff473b,#ff6c5a,#ff8c78,#ffa999,#ffbeaf,#feccbe,#fdd7c9,#fdded0,#fde2d5,#fde4d8,#fde4d8,#fde4d8,#fde3d7,#fde3d7,#fde4d8,#fde6da,#fde7dd,#fdeae0,#fdece3,#fdefe6,#fdf1e9,#fdf2ec,#fdf3ee,#fdf4ef,#fdf5f0,#fdf6f2,#fef7f3,#fef8f4,#fef9f6,#fef9f7,#fefaf8,#fefaf8,#fefbf9,#fefcfa,#fefcfb,#fefdfd,#fefefe,#fefefe,#fefefe,#fefefe,#fefefe,#fefefe,#fefefe,#fefefe,#fefefe 380px,#fefefe 383px)"></i><i style="background:linear-gradient(90deg,#93a7fa,#97abfa,#a3b7fb,#a8bcfb,#a8bcfb,#a3b7fb,#97abfa,#879afa,#7081fd,#5965ff,#4048ff,#2427ff,#0b07ff,#0f02e3,#1500ca,#1900bb,#1900b6,#1900bc,#1401d1,#0a03f6,#272bff,#5c6aff,#aabefc,#f2f5fe,#fdddcf,#ffac9b,#ff7461,#ff4439,#fe2622,#fe1e1d,#fe2824,#ff4238,#ff6553,#ff8571,#ffa18f,#ffb8a9,#fec8b9,#fdd5c7,#fddfd2,#fde6db,#fdeae1,#fdede4,#fdede5,#fdede4,#fdede4,#fdede4,#fdede5,#fdefe6,#fdf0e8,#fdf1ea,#fdf2ec,#fdf3ed,#fdf4ef,#fdf5f0,#fdf6f1,#fdf6f2,#fdf7f3,#fef8f4,#fef8f5,#fef9f6,#fefaf7,#fefaf8,#fefaf8,#fefbf9,#fefbf9,#fefcfa,#fefdfc,#fefdfd,#fefefe,#fefefe,#fefefe,#fefefe,#fefefe,#fefefe,#fefefe,#fefefe,#fefefe 380px,#fefefe 383px)"></i><i style="background:linear-gradient(90deg,#8093fa,#8699fa,#93a7fa,#98acfb,#97abfa,#90a4fa,#8497fa,#7283fc,#5e6cff,#4c56ff,#363cff,#1f21ff,#0b07ff,#0d02e9,#1301d4,#1600c7,#1700c3,#1500cc,#0f02e3,#0e0bff,#3238ff,#616fff,#a6bafb,#e6ecfd,#fdebe1,#ffc2b3,#ff9380,#ff6856,#ff483c,#ff3d34,#ff493d,#ff6251,#ff816d,#ff9d8a,#ffb5a6,#ffc4b5,#fed2c4,#fdded0,#fde7dc,#fdeee5,#fdf3ec,#fdf5f0,#fdf6f1,#fdf6f1,#fdf5f1,#fdf5f0,#fdf6f1,#fdf7f2,#fef7f4,#fef8f4,#fef8f5,#fef8f4,#fef8f4,#fef8f4,#fef8f4,#fef8f5,#fef9f6,#fef9f6,#fefaf7,#fefaf8,#fefaf8,#fefbf8,#fefbf9,#fefbf9,#fefbfa,#fefcfb,#fefdfc,#fefdfd,#fefefe,#fefefe,#fefefe,#fefefe,#fefefe,#fefefe,#fefefe,#fefefe,#fefefe 380px,#fefefe 383px)"></i><i style="background:linear-gradient(90deg,#6979fe,#7080fd,#8093fa,#869afa,#8497fa,#7a8cfb,#6b7bfd,#5b68ff,#4b56ff,#3941ff,#272bff,#1717ff,#0905ff,#0c02ed,#1001de,#1301d4,#1301d4,#1002de,#0a03f6,#1a1bff,#3d45ff,#6574fe,#a0b4fb,#d8e2fc,#fef7f3,#fdd7c8,#ffb3a3,#ff8a76,#ff6c5a,#ff6050,#ff6a58,#ff806c,#ff9b88,#ffb4a5,#ffc4b5,#fed1c2,#fddcce,#fde6da,#fdeee6,#fdf5f0,#fefaf7,#fdfcfb,#fdfcfd,#fcfcfd,#fdfcfd,#fdfcfc,#fdfcfd,#fdfcfd,#fdfcfd,#fdfdfd,#fefdfc,#fefcfb,#fefbfa,#fefaf8,#fefaf8,#fefaf8,#fefaf8,#fefbf9,#fefbf9,#fefbf9,#fefbf9,#fefbf9,#fefbf9,#fefbf9,#fefcfa,#fefcfb,#fefdfc,#fefdfd,#fefefe,#fefefe,#fefefe,#fefefe,#fefefe,#fefefe,#fefefe,#fefefe,#fefefe 380px,#fefefe 383px)"></i><i style="background:linear-gradient(90deg,#5561ff,#5b68ff,#6b7cfd,#7283fc,#6e7efd,#6372ff,#5561ff,#454fff,#3339ff,#2426ff,#1717ff,#0d0aff,#0903fa,#0b03ef,#0e02e6,#0f02e1,#0e02e4,#0b03f0,#0e0cff,#262aff,#4750ff,#6979fe,#9baffb,#cad9fc,#f7f9fe,#fde9df,#fec9ba,#ffa998,#ff8b77,#ff806c,#ff8773,#ff9b88,#ffb3a4,#ffc5b6,#fed2c3,#fdddce,#fde5d9,#fdede4,#fdf4ef,#fefbf9,#fafbfe,#f3f6fe,#eff3fd,#eff3fd,#eff3fd,#f0f4fd,#f0f4fd,#f0f4fd,#f1f4fd,#f3f6fe,#f6f8fe,#fafbfe,#fdfefe,#fefdfd,#fefcfb,#fefcfb,#fefcfb,#fefcfb,#fefcfb,#fefcfa,#fefcfa,#fefbfa,#fefbfa,#fefbfa,#fefcfa,#fefcfb,#fefdfc,#fefdfd,#fefefe,#fefefe,#fefefe,#fefefe,#fefefe,#fefefe,#fefefe,#fefefe,#fefefe 380px,#fefefe 383px)"></i><i style="background:linear-gradient(90deg,#4149ff,#4a54ff,#5a68ff,#5f6dff,#5b68ff,#505bff,#3f47ff,#2c30ff,#1b1bff,#0e0bfe,#0a05f9,#0a03f5,#0b03f1,#0c03ee,#0c02ec,#0c02ec,#0b03f3,#0a06fe,#1b1cff,#3238ff,#4f5aff,#6e7efd,#96aafa,#becffc,#e5ecfd,#fdf7f3,#fddccf,#ffc0b1,#ffa897,#ff9b88,#ffa28f,#ffb3a4,#ffc4b5,#fdd4c5,#fddfd1,#fde6da,#fdece3,#fdf2ec,#fef9f7,#fbfcfe,#eef3fd,#e6ecfd,#e1e9fc,#e0e8fc,#e0e8fc,#e1e9fc,#e2e9fc,#e3eafc,#e5ebfd,#e8eefd,#edf2fd,#f3f6fe,#f8fafe,#fcfdfe,#fefefe,#fefefd,#fefdfd,#fefdfd,#fefdfc,#fefcfb,#fefcfb,#fefcfa,#fefcfa,#fefcfa,#fefcfa,#fefcfb,#fefdfc,#fefdfd,#fefefe,#fefefe,#fefefe,#fefefe,#fefefe,#fefefe,#fefefe,#fefefe,#fefefe 380px,#fefefe 383px)"></i><i style="background:linear-gradient(90deg,#2d33ff,#383eff,#4d57ff,#515cff,#4b55ff,#3c43ff,#282cff,#1413ff,#0b04f7,#0e02e7,#1002e0,#0f02e0,#0e02e4,#0d02e9,#0c02ed,#0b03f3,#0904fd,#1312ff,#2629ff,#3e46ff,#5763ff,#7384fc,#94a8fa,#b6c7fc,#d7e1fc,#fafbfe,#fdebe1,#fed1c2,#ffbcad,#ffb3a4,#ffb7a8,#ffc4b5,#fdd3c5,#fde1d4,#fde8dd,#fdede4,#fdf1ea,#fdf6f2,#fefdfd,#f2f5fe,#e5ebfd,#dae4fc,#d5e0fc,#d3dffc,#d3dffc,#d5e0fc,#d6e1fc,#d7e2fc,#dae4fc,#dfe7fc,#e5ecfd,#ecf1fd,#f3f6fe,#f8fafe,#fbfcfe,#fdfdfe,#fefefe,#fefefe,#fefefd,#fefdfc,#fefcfb,#fefcfb,#fefcfa,#fefcfa,#fefcfa,#fefcfb,#fefdfc,#fefefd,#fefefe,#fefefe,#fefefe,#fefefe,#fefefe,#fefefe,#fefefe,#fefefe,#fefefe 380px,#fefefe 383px)"></i><i style="background:linear-gradient(90deg,#2022ff,#292dff,#3e46ff,#424bff,#3a41ff,#282cff,#1413ff,#0b03f2,#1101d8,#1600c8,#1700c5,#1500c9,#1301d3,#1001dd,#0d02e8,#0a03f4,#0b08ff,#1a1bff,#2e34ff,#4851ff,#5e6cff,#7a8cfb,#96aafa,#b2c5fc,#cfdcfc,#eff3fd,#fdf4ee,#fdded1,#fecabb,#ffc2b3,#ffc5b6,#fed1c3,#fde0d2,#fdeae0,#fdefe7,#fdf2eb,#fdf5ef,#fef9f6,#fbfcfe,#ecf1fd,#dde6fc,#d2defc,#ccd9fc,#c9d8fc,#cad8fc,#cbd9fc,#ccdafc,#cedbfc,#d1ddfc,#d6e1fc,#dee7fc,#e6edfd,#eef2fd,#f4f7fe,#f8fafe,#fbfcfe,#fcfdfe,#fefefe,#fefefe,#fefdfd,#fefdfc,#fefcfb,#fefcfb,#fefcfb,#fefcfb,#fefdfb,#fefdfc,#fefefd,#fefefe,#fefefe,#fefefe,#fefefe,#fefefe,#fefefe,#fefefe,#fefefe,#fefefe 380px,#fefefe 383px)"></i><i style="background:linear-gradient(90deg,#1514ff,#1e20ff,#3136ff,#3339ff,#292dff,#1717ff,#0a03f6,#1201d6,#1900bd,#1a00af,#1b00ad,#1a00b3,#1800be,#1400ce,#1001de,#0b03f0,#0c09ff,#1e20ff,#353cff,#4f5aff,#6675fe,#8296fa,#9baffb,#b3c6fc,#ccdafc,#e9eefd,#fef9f6,#fde6db,#fdd5c7,#fecdbf,#fed1c3,#fdddcf,#fde8de,#fdf0e9,#fdf4ee,#fdf5f0,#fdf7f3,#fefbf9,#f8fafe,#e8eefd,#d8e2fc,#ccd9fc,#c5d4fc,#c2d2fc,#c2d2fc,#c4d3fc,#c5d4fc,#c7d6fc,#cad8fc,#d0ddfc,#d8e3fc,#e2e9fc,#eaf0fd,#f1f5fe,#f6f8fe,#f9fbfe,#fbfcfe,#fdfdfe,#fefefe,#fefefd,#fefdfc,#fefdfc,#fefcfb,#fefcfb,#fefcfb,#fefdfc,#fefdfd,#fefefd,#fefefe,#fefefe,#fefefe,#fefefe,#fefefe,#fefefe,#fefefe,#fefefe,#fefefe 380px,#fefefe 383px)"></i><i style="background:linear-gradient(90deg,#0c09ff,#1514ff,#2427ff,#2528ff,#1a1aff,#0a05fb,#1001dd,#1800be,#1b00a7,#1d009a,#1d0098,#1c009e,#1b00ab,#1800bb,#1401d0,#0e02e8,#0a07ff,#2023ff,#3b42ff,#5561ff,#6f7ffd,#8b9ffa,#a3b7fb,#b8c9fc,#cedbfc,#e7edfd,#fefcfa,#fdece3,#fdded0,#fdd7c9,#fddbcd,#fde5d9,#fdefe7,#fdf5f0,#fdf7f3,#fef7f4,#fef8f5,#fefcfa,#f6f8fe,#e6ecfd,#d5e0fc,#c8d7fc,#c0d1fc,#becefc,#becefc,#bfcffc,#c0d0fc,#c2d2fc,#c5d5fc,#ccd9fc,#d4e0fc,#dee7fc,#e8eefd,#eff3fd,#f5f7fe,#f8fafe,#fafcfe,#fcfdfe,#fefefe,#fefefe,#fefdfd,#fefdfc,#fefdfc,#fefdfc,#fefdfc,#fefdfc,#fefefd,#fefefe,#fefefe,#fefefe,#fefefe,#fefefe,#fefefe,#fefefe,#fefefe,#fefefe,#fefefe 380px,#fefefe 383px)"></i><i style="background:linear-gradient(90deg,#0903fa,#0b08ff,#1818ff,#1616ff,#0b07fd,#0e02e6,#1600c6,#1b00aa,#1e0094,#1f0087,#200084,#1f008b,#1d0098,#1b00aa,#1800c0,#1001dd,#0803fd,#2023ff,#3e46ff,#5a67ff,#7789fc,#94a8fa,#acbffc,#bfcffc,#d2defc,#e9eefd,#fefdfc,#fdf0e8,#fde4d8,#fde0d2,#fde3d7,#fdebe2,#fdf3ed,#fef8f5,#fef9f7,#fef9f6,#fef9f6,#fefcfb,#f5f8fe,#e4ebfd,#d3dffc,#c6d5fc,#becffc,#bccdfc,#bccdfc,#bdcdfc,#bdcefc,#bfd0fc,#c3d2fc,#c9d8fc,#d2defc,#dce5fc,#e6ecfd,#eef2fd,#f4f7fe,#f8f9fe,#fafbfe,#fcfdfe,#fefefe,#fefefe,#fefefd,#fefdfd,#fefdfc,#fefdfc,#fefdfd,#fefefd,#fefefe,#fefefe,#fefefe,#fefefe,#fefefe,#fefefe,#fefefe,#fefefe,#fefefe,#fefefe,#fefefe 380px,#fefefe 383px)"></i><i style="background:linear-gradient(90deg,#0c02ed,#0a03f5,#0b07fd,#0a05fa,#0d02ea,#1401cf,#1a00b2,#1d0098,#200083,#210079,#210078,#21007b,#1f0086,#1d0099,#1a00b1,#1401d0,#0a03f6,#1f21ff,#4048ff,#5d6bff,#7f92fb,#9db1fb,#b4c6fc,#c7d6fc,#d8e3fc,#ecf1fd,#fefdfc,#fdf2ec,#fde9df,#fde6db,#fdeae0,#fdf1e9,#fef7f3,#fefbf9,#fefbfa,#fefaf8,#fefaf8,#fefdfc,#f4f7fe,#e3eafc,#d2defc,#c5d5fc,#becefc,#bbccfc,#bccdfc,#bccdfc,#bdcefc,#bfcffc,#c2d2fc,#c8d7fc,#d1ddfc,#dce5fc,#e6ecfd,#eef2fd,#f3f6fe,#f7f9fe,#fafbfe,#fbfcfe,#fdfdfe,#fefefe,#fefefe,#fefefd,#fefdfd,#fefefd,#fefefd,#fefefe,#fefefe,#fefefe,#fefefe,#fefefe,#fefefe,#fefefe,#fefefe,#fefefe,#fefefe,#fefefe,#fefefe 380px,#fefefe 383px)"></i><i style="background:linear-gradient(90deg,#1001dd,#0f02e3,#0d02e9,#0f02e2,#1401cf,#1900b7,#1c009f,#1f0088,#210078,#210072,#210070,#210072,#210079,#1f0089,#1c00a3,#1700c4,#0c03ef,#1d1eff,#4049ff,#606fff,#8599fa,#a5b9fb,#bccdfc,#cedbfc,#dfe7fc,#eff3fd,#fefdfc,#fdf4ef,#fdeee5,#fdece3,#fdefe7,#fdf5f0,#fefaf8,#fefdfc,#fefdfc,#fefcfa,#fefbfa,#fefefe,#f3f6fe,#e3eafc,#d2defc,#c6d5fc,#bfcffc,#bccdfc,#bdcefc,#becefc,#bfcffc,#c0d0fc,#c3d3fc,#c9d8fc,#d2defc,#dce5fc,#e6ecfd,#eef2fd,#f4f6fe,#f7f9fe,#f9fbfe,#fbfcfe,#fdfdfe,#fefefe,#fefefe,#fefefe,#fefefe,#fefefe,#fefefe,#fefefe,#fefefe,#fefefe,#fefefe,#fefefe,#fefefe,#fefefe,#fefefe,#fefefe,#fefefe,#fefefe,#fefefe 380px,#fefefe 383px)"></i><i style="background:linear-gradient(90deg,#1600c8,#1500cb,#1500cc,#1700c3,#1a00b3,#1c00a1,#1f008c,#21007b,#210072,#21006d,#22006b,#21006c,#210072,#21007c,#1d0097,#1900b9,#0e02e7,#1b1bff,#4149ff,#6271ff,#8b9ffa,#acbffc,#c3d3fc,#d4e0fc,#e4ebfd,#f2f5fe,#fefefd,#fdf7f3,#fdf2ec,#fdf1ea,#fdf4ee,#fef9f5,#fefdfc,#fdfdfe,#fdfefe,#fefefd,#fefdfd,#fcfcfe,#f0f4fd,#e1e9fc,#d2defc,#c7d6fc,#c0d1fc,#bfcffc,#bfd0fc,#c1d1fc,#c1d1fc,#c3d3fc,#c6d5fc,#ccdafc,#d4e0fc,#dee7fc,#e8eefd,#eff3fd,#f4f7fe,#f7f9fe,#f9fafe,#fafbfe,#fcfcfe,#fdfdfe,#fefefe,#fefefe,#fefefe,#fefefe,#fefefe,#fefefe,#fefefe,#fefefe,#fefefe,#fefefe,#fefefe,#fefefe,#fefefe,#fefefe,#fefefe,#fefefe,#fefefe 380px,#fefefe 383px)"></i><i style="background:linear-gradient(90deg,#1a00b0,#1a00b0,#1b00ad,#1c00a4,#1d0097,#1f0089,#21007c,#210074,#21006d,#220069,#220067,#220068,#21006d,#210077,#1e008d,#1a00b2,#0f02e1,#1818ff,#4049ff,#6473fe,#8fa3fa,#b0c3fc,#c8d7fc,#d9e3fc,#e6ecfd,#f2f5fe,#fdfefe,#fefaf8,#fdf7f3,#fdf6f2,#fef9f6,#fefcfb,#fcfdfe,#f9fafe,#f9fbfe,#fbfcfe,#fbfcfe,#f6f9fe,#ecf1fd,#dfe7fc,#d2defc,#c8d7fc,#c3d3fc,#c2d2fc,#c3d2fc,#c4d4fc,#c5d5fc,#c7d6fc,#cbd9fc,#d0ddfc,#d9e3fc,#e2e9fc,#ebf0fd,#f1f5fe,#f5f8fe,#f8f9fe,#f9fafe,#fafbfe,#fbfcfe,#fcfcfe,#fdfdfe,#fdfefe,#fefefe,#fefefe,#fefefe,#fefefe,#fefefe,#fefefe,#fefefe,#fefefe,#fefefe,#fefefe,#fefefe,#fefefe,#fefefe,#fefefe,#fefefe 380px,#fefefe 383px)"></i><i style="background:linear-gradient(90deg,#1d0096,#1e0094,#1f008d,#200084,#21007c,#210076,#210071,#21006d,#220069,#220066,#220064,#220065,#220069,#210073,#1f0086,#1b00ac,#1101dc,#1616ff,#4049ff,#6675fe,#92a6fa,#b4c6fc,#cbd9fc,#dbe4fc,#e7edfd,#f1f4fd,#f9fbfe,#fefefd,#fefcfa,#fefcfa,#fefdfc,#fcfcfe,#f7f9fe,#f5f7fe,#f5f7fe,#f6f8fe,#f5f7fe,#f1f4fd,#e8eefd,#dce5fc,#d2defc,#cad8fc,#c6d5fc,#c5d4fc,#c6d6fc,#c8d7fc,#cad8fc,#cddafc,#d1ddfc,#d6e1fc,#dee7fc,#e7edfd,#eef3fd,#f4f7fe,#f7f9fe,#f8fafe,#f9fafe,#f9fafe,#fafbfe,#fafcfe,#fcfcfe,#fcfdfe,#fdfdfe,#fdfefe,#fefefe,#fefefe,#fefefe,#fefefe,#fefefe,#fefefe,#fefefe,#fefefe,#fefefe,#fefefe,#fefefe,#fefefe,#fefefe 380px,#fefefe 383px)"></i><i style="background:linear-gradient(90deg,#21007d,#21007a,#210074,#210070,#21006c,#22006a,#220068,#220066,#220065,#220063,#220062,#220062,#220067,#210070,#200081,#1b00a7,#1101d9,#1515ff,#4149ff,#6877fe,#95a9fa,#b6c8fc,#cddafc,#dce5fc,#e7edfd,#eef2fd,#f4f7fe,#f8fafe,#fbfcfe,#fbfcfe,#f8fafe,#f5f8fe,#f2f5fe,#f0f4fd,#f0f4fd,#f0f4fd,#eff3fd,#ebf0fd,#e3eafc,#dae4fc,#d2defc,#ccdafc,#c9d8fc,#c9d7fc,#cad9fc,#cddafc,#cfdcfc,#d3dffc,#d7e2fc,#dde6fc,#e5ebfd,#ecf1fd,#f3f6fe,#f7f9fe,#f9fbfe,#f9fbfe,#f9fafe,#f8fafe,#f9fafe,#f9fbfe,#fafbfe,#fbfcfe,#fcfdfe,#fdfdfe,#fefefe,#fefefe,#fefefe,#fefefe,#fefefe,#fefefe,#fefefe,#fefefe,#fefefe,#fefefe,#fefefe,#fefefe,#fefefe 380px,#fefefe 383px)"></i><i style="background:linear-gradient(90deg,#21006d,#22006b,#220064,#220060,#22005f,#22005e,#22005f,#220060,#220060,#220060,#220060,#220060,#220064,#21006e,#20007d,#1c00a5,#1201d7,#1615ff,#424bff,#6a7afe,#97abfa,#b9cafc,#cedbfc,#dce5fc,#e5ecfd,#ebf0fd,#eff3fd,#f2f5fe,#f2f6fe,#f2f5fe,#f1f4fd,#eff3fd,#eef2fd,#ecf1fd,#ecf1fd,#ebf0fd,#e9effd,#e6ecfd,#e0e8fc,#d9e3fc,#d3dffc,#cfdcfc,#cddafc,#cddafc,#cfdcfc,#d1defc,#d5e0fc,#d9e3fc,#dfe7fc,#e5ecfd,#ecf1fd,#f3f6fe,#f8fafe,#fbfcfe,#fcfdfe,#fbfcfe,#fafbfe,#f9fafe,#f8fafe,#f9fafe,#fafbfe,#fbfcfe,#fcfcfe,#fdfdfe,#fdfefe,#fefefe,#fefefe,#fefefe,#fefefe,#fefefe,#fefefe,#fefefe,#fefefe,#fefefe,#fefefe,#fefefe,#fefefe 380px,#fefefe 383px)"></i><i style="background:linear-gradient(90deg,#220060,#22005e,#220059,#220058,#220058,#220058,#220059,#22005b,#22005c,#22005d,#22005d,#22005e,#220062,#22006c,#21007b,#1c00a4,#1201d8,#1717ff,#454eff,#6d7efd,#9aaefb,#baccfc,#cfdcfc,#dce5fc,#e4ebfd,#e8eefd,#ebf0fd,#ecf0fd,#ecf0fd,#ebf0fd,#ebf0fd,#eaeffd,#e9effd,#e9eefd,#e8eefd,#e7edfd,#e6ecfd,#e3eafc,#dfe7fc,#dae4fc,#d6e1fc,#d3defc,#d1ddfc,#d1defc,#d3dffc,#d6e1fc,#dae4fc,#e0e8fc,#e6ecfd,#edf1fd,#f3f6fe,#f9fbfe,#fdfdfe,#fefefd,#fefefe,#fefefe,#fcfcfe,#fafbfe,#f9fafe,#f9fafe,#f9fbfe,#fafbfe,#fbfcfe,#fdfdfe,#fefefe,#fefefe,#fefefe,#fefefe,#fefefe,#fefefe,#fefefe,#fefefe,#fefefe,#fefefe,#fefefe,#fefefe,#fefefe 380px,#fefefe 383px)"></i><i style="background:linear-gradient(90deg,#220059,#220058,#210055,#210054,#210054,#210055,#220057,#220058,#220059,#22005a,#22005b,#22005b,#22005f,#22006a,#21007b,#1c00a5,#1101dc,#1b1cff,#4953ff,#7283fc,#9eb2fb,#bdcdfc,#d0ddfc,#dce5fc,#e3eafc,#e6ecfd,#e7edfd,#e7edfd,#e7edfd,#e6ecfd,#e6ecfd,#e6ecfd,#e6ecfd,#e6ecfd,#e6ecfd,#e5ecfd,#e4ebfd,#e3eafc,#e0e8fc,#dde6fc,#dae4fc,#d8e2fc,#d6e1fc,#d6e1fc,#d7e2fc,#dbe4fc,#e0e8fc,#e6edfd,#edf2fd,#f4f7fe,#fbfcfe,#fefefd,#fefcfb,#fefbf9,#fefcfa,#fefdfc,#fefefe,#fcfdfe,#fafbfe,#fafbfe,#fafbfe,#fafbfe,#fbfcfe,#fdfdfe,#fefefe,#fefefe,#fefefe,#fefefe,#fefefe,#fefefe,#fefefe,#fefefe,#fefefe,#fefefe,#fefefe,#fefefe,#fefefe 380px,#fefefe 383px)"></i><i style="background:linear-gradient(90deg,#220056,#210055,#210052,#210051,#210051,#210052,#210054,#220056,#220057,#220058,#220058,#220059,#22005c,#220067,#21007a,#1b00a7,#0f02e2,#2123ff,#4f59ff,#788afc,#a2b6fb,#bfcffc,#d1defc,#dce5fc,#e2e9fc,#e4ebfd,#e5ecfd,#e5ecfd,#e4ebfd,#e3eafc,#e2eafc,#e2eafc,#e3eafc,#e3eafc,#e5ebfd,#e6ecfd,#e6edfd,#e6edfd,#e5ecfd,#e3eafc,#e1e8fc,#dee7fc,#dce5fc,#dbe4fc,#dbe5fc,#dfe7fc,#e5ebfd,#ecf1fd,#f4f7fe,#fbfcfe,#fefdfc,#fefaf8,#fef9f6,#fef8f5,#fef9f6,#fefaf8,#fefcfb,#fefefd,#fdfefe,#fcfcfe,#fbfcfe,#fbfcfe,#fbfcfe,#fdfdfe,#fefefe,#fefefe,#fefefe,#fefefe,#fefefe,#fefefe,#fefefe,#fefefe,#fefefe,#fefefe,#fefefe,#fefefe,#fefefe 380px,#fefefe 383px)"></i><i style="background:linear-gradient(90deg,#210053,#210052,#210050,#210050,#210050,#210051,#210052,#210053,#210054,#210055,#220056,#220057,#22005a,#220065,#21007a,#1b00ab,#0d02eb,#292dff,#5662ff,#8094fa,#a8bcfb,#c2d2fc,#d3dffc,#dde6fc,#e2eafc,#e4ebfd,#e5ecfd,#e5ecfd,#e4ebfd,#e2eafc,#e1e9fc,#e0e8fc,#e0e8fc,#e2e9fc,#e5ebfd,#e8eefd,#ecf1fd,#edf2fd,#edf2fd,#ecf0fd,#e9eefd,#e5ecfd,#e2e9fc,#dfe8fc,#dfe7fc,#e2eafc,#e9eefd,#f1f5fe,#fafbfe,#fefdfc,#fef9f7,#fdf7f3,#fdf6f1,#fdf5f1,#fdf6f1,#fef7f4,#fef9f6,#fefbf9,#fefdfc,#fefefe,#fcfdfe,#fbfcfe,#fcfdfe,#fdfdfe,#fefefe,#fefefe,#fefefe,#fefefe,#fefefe,#fefefe,#fefefe,#fefefe,#fefefe,#fefefe,#fefefe,#fefefe,#fefefe 380px,#fefefe 383px)"></i><i style="background:linear-gradient(90deg,#210052,#210051,#210050,#210050,#210050,#210050,#210050,#210051,#210052,#210053,#210053,#210055,#220058,#220063,#21007b,#1a00b1,#0a03f6,#3339ff,#5e6bff,#899dfa,#adc1fc,#c5d5fc,#d5e0fc,#dee6fc,#e3eafc,#e6ecfd,#e7edfd,#e7edfd,#e5ecfd,#e3eafc,#e1e8fc,#dee7fc,#dee7fc,#e1e8fc,#e6ecfd,#edf1fd,#f3f6fe,#f7f9fe,#f7f9fe,#f5f8fe,#f2f5fe,#edf1fd,#e8eefd,#e4ebfd,#e3eafc,#e5ecfd,#ecf1fd,#f5f8fe,#fefefe,#fefaf7,#fdf6f2,#fdf4ee,#fdf3ec,#fdf2ec,#fdf3ed,#fdf4ef,#fdf6f1,#fef8f5,#fefaf8,#fefdfc,#fefefe,#fcfdfe,#fcfdfe,#fdfefe,#fefefe,#fefefe,#fefefd,#fefefe,#fefefe,#fefefe,#fefefe,#fefefe,#fefefe,#fefefe,#fefefe,#fefefe,#fefefe 380px,#fefefe 383px)"></i><i style="background:linear-gradient(90deg,#210051,#210050,#210050,#210050,#210050,#210050,#210050,#210050,#210050,#210050,#210051,#210054,#220058,#220063,#20007d,#1900b9,#0b08ff,#3e46ff,#6776fe,#92a6fa,#b3c5fc,#c8d7fc,#d6e1fc,#dfe7fc,#e4ebfd,#e7edfd,#e9effd,#e9effd,#e8eefd,#e5ecfd,#e1e9fc,#dee6fc,#dce5fc,#e0e8fc,#e7edfd,#f1f5fe,#fafbfe,#fefdfc,#fefdfc,#fdfdfd,#fbfcfe,#f4f7fe,#eef2fd,#e8eefd,#e6ecfd,#e8eefd,#eff3fd,#f9fafe,#fefcfb,#fdf7f3,#fdf3ed,#fdf1ea,#fdf0e8,#fdefe7,#fdf0e8,#fdf1ea,#fdf3ec,#fdf5f0,#fef8f5,#fefbf9,#fefefd,#fefefe,#fdfdfe,#fefefe,#fefefe,#fefefd,#fefefd,#fefefe,#fefefe,#fefefe,#fefefe,#fefefe,#fefefe,#fefefe,#fefefe,#fefefe,#fefefe 380px,#fefefe 383px)"></i><i style="background:linear-gradient(90deg,#210050,#210050,#210050,#210050,#210050,#210050,#210050,#210050,#210050,#210050,#210051,#210053,#220058,#220065,#200084,#1600c5,#1515ff,#4953ff,#7283fc,#9baffb,#b7c9fc,#cbd9fc,#d8e2fc,#e0e8fc,#e6ecfd,#e9effd,#ecf1fd,#ecf1fd,#ebf0fd,#e8eefd,#e2eafc,#dde6fc,#dbe5fc,#dfe7fc,#e9effd,#f5f8fe,#fefdfc,#fef9f6,#fef8f4,#fef9f6,#fefcfb,#fbfcfe,#f3f6fe,#ecf1fd,#e9eefd,#eaf0fd,#f1f5fe,#fbfcfe,#fefaf8,#fdf5f0,#fdf1ea,#fdeee6,#fdece3,#fdece2,#fdece3,#fdeee5,#fdf0e8,#fdf3ed,#fdf6f2,#fefaf7,#fefdfc,#fefefe,#fdfefe,#fefefe,#fefefe,#fefdfd,#fefdfd,#fefefd,#fefefe,#fefefe,#fefefe,#fefefe,#fefefe,#fefefe,#fefefe,#fefefe,#fefefe 380px,#fefefe 383px)"></i><i style="background:linear-gradient(90deg,#210050,#210050,#210050,#210050,#210050,#210050,#210050,#210050,#210050,#210050,#210052,#210054,#220059,#22006a,#1e0091,#1201d5,#2022ff,#525eff,#7c8ffb,#a1b5fb,#bbccfc,#cddafc,#d9e3fc,#e2e9fc,#e8eefd,#ecf1fd,#eff3fd,#f0f3fd,#eef2fd,#eaeffd,#e3eafc,#dde6fc,#dae4fc,#dee7fc,#eaeffd,#f8fafe,#fefaf8,#fdf5f0,#fdf4ee,#fdf5f0,#fef9f6,#fefdfd,#f7f9fe,#f0f4fd,#ebf0fd,#ecf1fd,#f3f6fe,#fdfdfe,#fef9f7,#fdf4ee,#fdefe7,#fdece2,#fde9df,#fde8de,#fde9df,#fdebe1,#fdeee5,#fdf2eb,#fdf5f1,#fef9f7,#fefdfc,#fefefe,#fefefe,#fefefe,#fefefd,#fefdfd,#fefdfd,#fefefd,#fefefe,#fefefe,#fefefe,#fefefe,#fefefe,#fefefe,#fefefe,#fefefe,#fefefe 380px,#fefefe 383px)"></i><i style="background:linear-gradient(90deg,#210050,#210050,#210050,#210050,#210050,#210050,#210050,#210051,#210052,#210053,#210055,#220058,#22005f,#210074,#1c00a3,#0e02e8,#2c30ff,#5a67ff,#8598fa,#a6bafb,#bdcefc,#cedbfc,#dae4fc,#e3eafc,#e9effd,#eef2fd,#f1f5fe,#f2f5fe,#f0f4fd,#ebf0fd,#e4ebfd,#dde6fc,#dae3fc,#dee6fc,#eaeffd,#f9fafe,#fef9f7,#fdf4ee,#fdf2eb,#fdf3ed,#fdf7f3,#fefcfa,#fbfcfe,#f2f6fe,#edf2fd,#eef2fd,#f3f6fe,#fdfdfe,#fef9f7,#fdf3ee,#fdeee6,#fde9df,#fde6db,#fde5da,#fde6db,#fde9df,#fdede4,#fdf2eb,#fdf6f1,#fefaf7,#fefdfc,#fefefe,#fdfefe,#fefefe,#fefefd,#fefdfc,#fefdfc,#fefefd,#fefefe,#fefefe,#fefefe,#fefefe,#fefefe,#fefefe,#fefefe,#fefefe,#fefefe 380px,#fefefe 383px)"></i><i style="background:linear-gradient(90deg,#210050,#210050,#210050,#210050,#210050,#210050,#210052,#210054,#220056,#220058,#22005c,#220062,#21006f,#1f0088,#1900bb,#0a05fc,#383fff,#616fff,#8a9efa,#a8bcfb,#bdcefc,#cddbfc,#dae4fc,#e4ebfd,#ebf0fd,#f0f4fd,#f3f6fe,#f3f6fe,#f1f4fd,#ebf0fd,#e3eafc,#dce5fc,#d9e3fc,#dde6fc,#e8eefd,#f7f9fe,#fefbf9,#fdf5f0,#fdf3ed,#fdf4ee,#fdf7f2,#fefbf9,#fcfdfe,#f4f7fe,#eff3fd,#eef3fd,#f3f6fe,#fcfdfe,#fefaf8,#fdf4ee,#fdeee5,#fde8dd,#fde4d8,#fde3d7,#fde5d9,#fde9df,#fdeee6,#fdf3ed,#fef8f4,#fefbfa,#fefefe,#fdfdfe,#fdfdfe,#fefefe,#fefefd,#fefdfc,#fefdfc,#fefdfd,#fefefe,#fefefe,#fefefe,#fefefe,#fefefe,#fefefe,#fefefe,#fefefe,#fefefe 380px,#fefefe 383px)"></i><i style="background:linear-gradient(90deg,#210050,#210050,#210050,#210050,#210050,#210051,#210055,#220059,#22005f,#220068,#210070,#20007a,#1f008b,#1b00ac,#1101dc,#1919ff,#444dff,#6777fe,#8ca0fa,#a8bcfb,#bccdfc,#ccdafc,#d9e3fc,#e4ebfd,#ecf1fd,#f1f5fe,#f3f6fe,#f3f6fe,#f0f4fd,#eaeffd,#e2eafc,#dbe5fc,#d8e2fc,#dbe5fc,#e5ecfd,#f2f5fe,#fdfdfd,#fef9f6,#fdf6f2,#fdf6f2,#fef8f5,#fefcfa,#fcfdfe,#f5f7fe,#f0f4fd,#eff3fd,#f2f5fe,#f9fbfe,#fefcfa,#fdf5f0,#fdeee6,#fde7dc,#fde2d6,#fde1d4,#fde4d9,#fdeae0,#fdf1ea,#fdf6f2,#fefbf9,#fefefd,#fcfcfe,#fafbfe,#fcfcfe,#fefefe,#fefdfd,#fefdfc,#fefdfc,#fefdfd,#fefefe,#fefefe,#fefefe,#fefefe,#fefefe,#fefefe,#fefefe,#fefefe,#fefefe 380px,#fefefe 383px)"></i><i style="background:linear-gradient(90deg,#210050,#210050,#210050,#210050,#210050,#210052,#220058,#220064,#210074,#1f0086,#1d0098,#1b00a8,#1800bc,#1101d9,#0d09fc,#2b30ff,#4f5aff,#6e7efd,#8ea2fa,#a7bbfb,#bbccfc,#cbd9fc,#d9e3fc,#e4ebfd,#edf1fd,#f2f5fe,#f3f6fe,#f2f5fe,#eef2fd,#e8edfd,#e0e8fc,#dae4fc,#d7e2fc,#d9e3fc,#e1e9fc,#ebf0fd,#f6f8fe,#fdfdfd,#fefcfa,#fefbf9,#fefbfa,#fefefd,#fafbfe,#f4f7fe,#eff3fd,#edf2fd,#f0f3fd,#f6f8fe,#fefdfe,#fef8f4,#fdf0e8,#fde7dc,#fde1d5,#fde0d3,#fde5d9,#fdece3,#fdf4ef,#fefbf8,#fdfdfe,#f9fafe,#f7f9fe,#f8fafe,#fafbfe,#fdfefe,#fefdfd,#fefdfc,#fefdfc,#fefdfd,#fefefe,#fefefe,#fdfefe,#fdfefe,#fefefe,#fefefe,#fefefe,#fefefe,#fefefe 380px,#fefefe 383px)"></i><i style="background:linear-gradient(90deg,#210050,#210050,#210050,#210050,#210050,#210054,#22005e,#210075,#1d0098,#1800bb,#1301d3,#0e02e5,#0d06f2,#1210fd,#2529ff,#4048ff,#5966ff,#7385fc,#8fa3fa,#a6bafb,#b9cbfc,#cad8fc,#d8e3fc,#e5ebfd,#edf2fd,#f2f5fe,#f2f5fe,#eff3fd,#ebf0fd,#e4ebfd,#dee7fc,#d9e3fc,#d6e1fc,#d7e1fc,#dce5fc,#e3eafc,#ebf0fd,#f2f5fe,#f7f9fe,#fbfcfe,#fcfcfe,#fafbfe,#f6f8fe,#f1f4fe,#edf1fd,#eaeffd,#ebf0fd,#f0f4fd,#f8fafe,#fefbf9,#fdf2ec,#fde9df,#fde2d5,#fde1d4,#fde6db,#fdf0e8,#fef8f5,#fdfdfe,#f6f8fe,#f2f6fe,#f3f6fe,#f5f7fe,#f9fafe,#fdfdfe,#fefdfd,#fefcfb,#fefcfb,#fefdfc,#fefefe,#fefefe,#fdfefe,#fdfefe,#fefefe,#fefefe,#fefefe,#fefefe,#fefefe 380px,#fefefe 383px)"></i><i style="background:linear-gradient(90deg,#210050,#210050,#210050,#210050,#210050,#220056,#22006a,#1e0091,#1500c8,#0d07f3,#1717ff,#2325ff,#2a2fff,#343aff,#424bff,#525dff,#6271ff,#798bfb,#90a4fa,#a6bafb,#b9cafc,#cad8fc,#d9e3fc,#e5ebfd,#edf2fd,#f1f4fd,#f0f4fd,#edf1fd,#e7edfd,#e1e9fc,#dbe5fc,#d7e2fc,#d4e0fc,#d4dffc,#d6e1fc,#d9e3fc,#dee7fc,#e4ebfd,#eaeffd,#eef3fd,#f1f5fe,#f2f5fe,#eff3fd,#ebf0fd,#e7edfd,#e5ebfd,#e5ebfd,#e8eefd,#f0f4fd,#fcfdfe,#fdf6f1,#fdece3,#fde4d8,#fde3d6,#fde9df,#fdf3ec,#fefcfb,#f5f8fe,#eef2fd,#ecf1fd,#eef2fd,#f2f6fe,#f7f9fe,#fcfdfe,#fefdfd,#fefcfb,#fefcfb,#fefdfc,#fefefe,#fefefe,#fdfefe,#fdfefe,#fefefe,#fefefe,#fefefe,#fefefe,#fefefe 380px,#fefefe 383px)"></i><i style="background:linear-gradient(90deg,#210050,#210050,#210050,#210050,#210050,#220059,#210077,#1a00b4,#0c06f7,#2b2fff,#424aff,#4c57ff,#515cff,#5460ff,#5a67ff,#6170ff,#6e7ffd,#7f92fb,#93a7fa,#a8bcfb,#bacbfc,#cbd9fc,#dae3fc,#e5ecfd,#ecf1fd,#eff3fd,#eef2fd,#e9effd,#e3eafc,#dde6fc,#d8e2fc,#d5e0fc,#d2defc,#d0ddfc,#d0dcfc,#d0dcfc,#d2defc,#d5e0fc,#dbe4fc,#e1e8fc,#e5ecfd,#e7edfd,#e6ecfd,#e2eafc,#dfe7fc,#dce5fc,#dbe4fc,#dee7fc,#e6ecfd,#f3f6fe,#fefbf9,#fdf1e9,#fde8de,#fde6db,#fdede4,#fdf6f2,#fcfdfe,#eef2fd,#e8eefd,#e7edfd,#ebf0fd,#f0f4fd,#f6f8fe,#fcfdfe,#fefdfd,#fefcfb,#fefcfb,#fefdfc,#fefefe,#fefefe,#fdfefe,#fdfefe,#fefefe,#fefefe,#fefefe,#fefefe,#fefefe 380px,#fefefe 383px)"></i><i style="background:linear-gradient(90deg,#210050,#210050,#210050,#210050,#210052,#220060,#1f008c,#1101d9,#2325ff,#4d57ff,#6371fe,#6e7efd,#7080fd,#6f7ffd,#6f80fd,#7384fc,#7a8cfb,#879bfa,#98acfa,#acbffc,#becffc,#cfdcfc,#dce5fc,#e5ecfd,#ebf0fd,#edf1fd,#eaeffd,#e5ecfd,#dfe7fc,#d9e3fc,#d5e0fc,#d2defc,#cfdcfc,#ccdafc,#c9d8fc,#c7d6fc,#c6d5fc,#c8d7fc,#cddafc,#d2defc,#d7e2fc,#d9e3fc,#d8e3fc,#d5e1fc,#d2defc,#cfdcfc,#cedbfc,#d1ddfc,#d9e3fc,#e7edfd,#fafbfe,#fdf6f2,#fdefe6,#fdece3,#fdf1eb,#fefaf7,#f6f8fe,#e9effd,#e4ebfd,#e4ebfd,#e9eefd,#eff3fd,#f6f8fe,#fcfdfe,#fefdfd,#fefcfa,#fefcfa,#fefdfc,#fefefd,#fefefe,#fdfefe,#fdfefe,#fefefe,#fefefe,#fefefe,#fefefd,#fefefe 380px,#fefefe 383px)"></i><i style="background:linear-gradient(90deg,#210051,#210050,#210050,#210050,#220056,#21006d,#1b00a7,#0b05f8,#3c43ff,#6372ff,#7e91fb,#899dfa,#8a9dfa,#8699fa,#8295fa,#8195fa,#8599fa,#8fa3fa,#9fb3fb,#b2c5fc,#c5d4fc,#d4dffc,#dfe7fc,#e6ecfd,#e9effd,#e9effd,#e6ecfd,#e1e9fc,#dbe4fc,#d6e1fc,#d2defc,#cfdcfc,#cbd9fc,#c8d7fc,#c3d3fc,#bfcffc,#bccdfc,#bccdfc,#bfd0fc,#c4d4fc,#c8d7fc,#cad8fc,#c8d7fc,#c5d4fc,#c2d2fc,#bfcffc,#becffc,#c2d2fc,#cbd9fc,#d9e3fc,#ecf1fd,#fdfcfc,#fdf6f1,#fdf3ed,#fdf7f2,#fefdfd,#f2f5fe,#e7edfd,#e3eafc,#e4ebfd,#e8eefd,#eff3fd,#f6f8fe,#fcfdfe,#fefdfc,#fefcfa,#fefcfa,#fefcfb,#fefefd,#fefefe,#fefefe,#fefefe,#fefefe,#fefefe,#fefefd,#fefefd,#fefefd 380px,#fefefe 383px)"></i><i style="background:linear-gradient(90deg,#210053,#210051,#210050,#210053,#22005d,#20007d,#1700c2,#1818ff,#4e58ff,#7587fc,#8fa3fa,#99adfb,#99adfb,#94a8fa,#8ea2fa,#8ca0fa,#8da1fa,#96aafa,#a7bbfb,#b9cafc,#cbd9fc,#d8e3fc,#e1e9fc,#e5ecfd,#e6edfd,#e5ebfd,#e1e9fc,#dce5fc,#d7e2fc,#d3defc,#cfdcfc,#cbd9fc,#c7d6fc,#c2d2fc,#bdcefc,#b8c9fc,#b4c6fc,#b3c5fc,#b4c6fc,#b6c8fc,#b8cafc,#b9cafc,#b6c8fc,#b2c5fc,#afc2fc,#adc0fc,#adc1fc,#b2c5fc,#bccdfc,#cbd9fc,#dee7fc,#f1f5fe,#fdfcfc,#fefaf8,#fefcfb,#fafbfe,#eff3fd,#e7edfd,#e4ebfd,#e5ecfd,#e9effd,#eff3fd,#f6f8fe,#fcfdfe,#fefdfc,#fefbfa,#fefbf9,#fefcfb,#fefdfd,#fefefe,#fefefe,#fefefe,#fefefe,#fefefd,#fefdfd,#fefdfc,#fefdfd 380px,#fefefd 383px)"></i><i style="background:linear-gradient(90deg,#220056,#210054,#210055,#22005a,#21006e,#1d009a,#0f02e1,#282cff,#5865ff,#8093fa,#98acfa,#a1b5fb,#a1b5fb,#9baffb,#95a9fa,#91a5fa,#92a6fa,#9baffb,#abbffc,#bdcefc,#cedbfc,#dae4fc,#e1e9fc,#e3eafc,#e2eafc,#dfe8fc,#dce5fc,#d8e2fc,#d4dffc,#d0dcfc,#ccd9fc,#c8d7fc,#c3d3fc,#becefc,#b8c9fc,#b2c5fc,#aec1fc,#abbffc,#abbefc,#abbefc,#aabefc,#a8bcfb,#a4b8fb,#9fb3fb,#9cb0fb,#9aaefb,#9db1fb,#a4b8fb,#afc2fc,#bfcffc,#d1ddfc,#e3ebfc,#f2f5fe,#fafbfe,#fafbfe,#f5f8fe,#eff3fd,#eaeffd,#e8eefd,#e9eefd,#ecf1fd,#f1f4fd,#f7f9fe,#fdfefe,#fefcfb,#fefbf9,#fefbf9,#fefcfa,#fefdfc,#fefefe,#fefefe,#fefefe,#fefefe,#fefdfd,#fefdfc,#fefdfc,#fefdfc 380px,#fefdfd 383px)"></i><i style="background:linear-gradient(90deg,#220059,#220059,#22005c,#22006a,#200085,#1800bb,#0b07fc,#383fff,#606fff,#8599fa,#9aaefb,#a2b6fb,#a2b6fb,#9db1fb,#97abfa,#93a7fa,#93a7fa,#9aaefb,#aabefc,#bbccfc,#cbd9fc,#d7e2fc,#dde6fc,#dee7fc,#dce5fc,#dae4fc,#d7e2fc,#d4dffc,#d1ddfc,#cddafc,#c9d8fc,#c4d4fc,#bfcffc,#b9cbfc,#b4c6fc,#afc2fc,#aabefc,#a6bafb,#a3b7fb,#a1b5fb,#9eb2fb,#9aaefb,#94a8fa,#8fa3fa,#8da1fa,#8ca0fa,#91a5fa,#9aaefb,#a7bbfb,#b6c8fc,#c8d7fc,#d9e3fc,#e7edfd,#f0f3fd,#f3f6fe,#f3f6fe,#f0f4fd,#eef2fd,#edf2fd,#edf2fd,#f0f3fd,#f4f6fe,#f9fafe,#fefefe,#fefcfa,#fefaf8,#fefaf8,#fefbfa,#fefdfc,#fefefd,#fefefe,#fefefe,#fefefd,#fefdfc,#fefdfc,#fefcfb,#fefcfb 380px,#fefdfc 383px)"></i><i style="background:linear-gradient(90deg,#220061,#220063,#21006d,#200082,#1b00ab,#0f02e1,#1c1eff,#464fff,#6776fe,#869afa,#98acfb,#a0b4fb,#a0b4fb,#9baffb,#95a9fa,#8fa3fa,#8da1fa,#93a7fa,#a0b4fb,#b1c4fc,#c1d1fc,#ccdafc,#d3defc,#d5e0fc,#d5e0fc,#d4dffc,#d2defc,#d1ddfc,#cedbfc,#cbd9fc,#c6d6fc,#c1d1fc,#bccdfc,#b6c8fc,#b1c4fc,#adc0fc,#a8bcfb,#a4b8fb,#9fb3fb,#9aaefb,#96aafa,#90a4fa,#8b9ffa,#869afa,#8599fa,#879bfa,#8da1fa,#99adfb,#a6bafb,#b5c7fc,#c5d4fc,#d3dffc,#e0e8fc,#e9effd,#eff3fd,#f2f6fe,#f4f7fe,#f4f7fe,#f4f6fe,#f4f6fe,#f5f7fe,#f7f9fe,#fcfcfe,#fefdfd,#fefbf9,#fefaf7,#fefaf8,#fefbf9,#fefcfb,#fefdfc,#fefefd,#fefdfd,#fefdfc,#fefdfc,#fefcfb,#fefcfb,#fefcfb 380px,#fefcfb 383px)"></i><i style="background:linear-gradient(90deg,#210070,#210074,#1f0088,#1b00aa,#1201d5,#0f0cfe,#3036ff,#515dff,#6d7dfd,#869afa,#96aafa,#9cb0fb,#9cb0fb,#97abfa,#8fa3fa,#869afa,#8194fa,#8295fa,#8b9ffa,#9aaefb,#a9bcfc,#b6c8fc,#c0d0fc,#c7d6fc,#cbd9fc,#cedbfc,#cfdcfc,#cedbfc,#ccdafc,#c9d8fc,#c4d4fc,#bfd0fc,#bacbfc,#b5c7fc,#b1c3fc,#adc0fc,#a9bdfb,#a4b8fb,#9fb3fb,#99adfb,#93a7fa,#8ea2fa,#8a9efa,#879bfa,#889cfa,#8da1fa,#95a9fa,#a2b6fb,#afc2fc,#bccdfc,#c9d8fc,#d5e0fc,#e0e8fc,#e9eefd,#f0f4fd,#f6f8fe,#f9fbfe,#fbfcfe,#fbfcfe,#fbfcfe,#fbfcfe,#fcfdfe,#fefefe,#fefcfa,#fefaf8,#fef9f6,#fef9f7,#fefaf8,#fefcfa,#fefdfc,#fefdfc,#fefdfc,#fefdfc,#fefcfb,#fefcfa,#fefcfa,#fefcfa 380px,#fefcfb 383px)"></i><i style="background:linear-gradient(90deg,#1f008a,#1e0092,#1a00b1,#1201d7,#0d08fb,#2629ff,#434cff,#5b69ff,#7384fc,#889cfa,#95a9fa,#9aaefb,#99adfb,#92a6fa,#8699fa,#7789fc,#6c7cfd,#6776fe,#6979fe,#7183fc,#7f92fb,#8fa3fb,#a1b5fb,#b2c4fc,#bfcffc,#c8d7fc,#ccdafc,#cddafc,#cbd9fc,#c7d6fc,#c3d3fc,#becffc,#b9cbfc,#b5c7fc,#b2c5fc,#afc2fc,#acc0fc,#a8bcfb,#a3b7fb,#9db1fb,#99adfb,#95a9fa,#94a8fa,#94a8fa,#99adfa,#a0b4fb,#aabefc,#b6c8fc,#c2d2fc,#cedbfc,#d8e2fc,#e0e9fc,#e8eefd,#f0f4fd,#f7f9fe,#fcfdfe,#fefdfc,#fefcfb,#fefcfb,#fefcfb,#fefdfc,#fefdfc,#fefcfa,#fefaf8,#fef9f6,#fef8f5,#fef9f6,#fefaf8,#fefbf9,#fefcfb,#fefcfb,#fefcfb,#fefcfb,#fefcfa,#fefcfa,#fefbfa,#fefcfa 380px,#fefcfb 383px)"></i><i style="background:linear-gradient(90deg,#1900b5,#1800be,#0f02e1,#0f0bfc,#2427ff,#3d45ff,#535fff,#6675fe,#7b8dfb,#8b9ffa,#95a9fa,#9aaefb,#97abfa,#8ca0fa,#7a8cfb,#6473fe,#5561ff,#4852ff,#424bff,#434cff,#4c57ff,#5d6afe,#7587fc,#94a8fa,#afc2fc,#c1d1fc,#cad8fc,#ccdafc,#cad8fc,#c6d5fc,#c2d2fc,#becffc,#bbccfc,#b8cafc,#b6c8fc,#b3c6fc,#b1c4fc,#aec2fc,#abbffc,#a8bcfb,#a6bafb,#a6bafb,#a9bcfb,#aec1fc,#b6c8fc,#bfcffc,#cad8fc,#d6e0fc,#e0e8fc,#e9effd,#f0f4fd,#f5f8fe,#f9fafd,#fcfcfc,#fefcfa,#fefaf7,#fef8f4,#fef7f3,#fef7f4,#fef8f5,#fef9f6,#fef9f6,#fef9f5,#fef8f4,#fef7f4,#fef7f4,#fef8f5,#fef9f7,#fefbf8,#fefbfa,#fefcfb,#fefcfb,#fefcfa,#fefbfa,#fefbfa,#fefbfa,#fefcfa 380px,#fefcfb 383px)"></i><i style="background:linear-gradient(90deg,#0e02e8,#0c04f0,#1413ff,#292dff,#3e46ff,#515dff,#616fff,#7283fc,#8296fa,#8fa3fa,#98acfb,#9baffb,#95a9fa,#869afa,#6b7cfd,#525eff,#383fff,#2224ff,#1514fd,#1310f9,#1716fc,#282cff,#4a54ff,#7181fd,#9db1fb,#bbccfc,#c9d7fc,#ccdafc,#cad8fc,#c5d5fc,#c2d2fc,#c0d0fc,#becffc,#bdcdfc,#bbccfc,#bacbfc,#b8cafc,#b7c9fc,#b6c8fc,#b6c8fc,#b9cafc,#becefc,#c6d5fc,#d0dcfc,#dbe5fc,#e7edfd,#f1f5fd,#f9f8fa,#fcf8f6,#fdf7f2,#fdf4ef,#fdf3ed,#fdf3ed,#fdf2ec,#fdf2eb,#fdf1eb,#fdf1eb,#fdf2eb,#fdf3ec,#fdf4ee,#fdf5ef,#fdf5f0,#fdf5f1,#fdf6f1,#fdf6f1,#fdf6f2,#fef7f4,#fef9f6,#fefaf7,#fefbf9,#fefbfa,#fefbfa,#fefbfa,#fefbf9,#fefbf9,#fefbf9,#fefcfa 380px,#fefcfb 383px)"></i><i style="background:linear-gradient(90deg,#1c1dff,#2123ff,#3339ff,#454eff,#5460ff,#616fff,#7080fd,#7e91fb,#8a9efa,#94a8fa,#9baffb,#9cb0fb,#94a8fa,#7e91fb,#5e6bff,#3d45ff,#1919ff,#0d02ea,#1501c9,#1800b9,#1700be,#1002df,#1c1dff,#515dff,#899dfa,#b5c7fc,#c8d7fc,#cddafc,#cad8fc,#c5d5fc,#c3d3fc,#c2d2fc,#c3d2fc,#c3d3fc,#c2d2fc,#c1d1fc,#c1d1fc,#c2d2fc,#c5d4fc,#cad8fc,#d1ddfc,#dce5fc,#e9effd,#f5f6fb,#fcf6f5,#fdf1ea,#fde9df,#fde2d7,#fdddd0,#fddacd,#fdd9cc,#fddacd,#fdddd0,#fde0d3,#fde3d7,#fde6da,#fde8de,#fdebe1,#fdede4,#fdefe7,#fdf0e9,#fdf1ea,#fdf2ec,#fdf3ed,#fdf4ef,#fdf5f0,#fdf7f2,#fef8f5,#fef9f6,#fefaf8,#fefbf9,#fefbf9,#fefbf9,#fefbf9,#fefbf9,#fefbf9,#fefcfa 380px,#fefcfb 383px)"></i><i style="background:linear-gradient(90deg,#3e46ff,#424aff,#4f5aff,#5a67ff,#6575fe,#7283fc,#7e91fb,#899dfa,#92a6fa,#9aaefb,#9fb3fb,#9db1fb,#91a5fa,#7587fc,#515cff,#2528ff,#0d02e9,#1a00b1,#1f008b,#20007a,#20007c,#1d0098,#1001dd,#3238ff,#7586fc,#aec2fc,#c7d6fc,#cddbfc,#cad8fc,#c6d5fc,#c5d4fc,#c6d5fc,#c8d7fc,#cad8fc,#cad9fc,#cad9fc,#cbd9fc,#cfdcfc,#d6e1fc,#e0e8fc,#eef2fd,#faf9fa,#fdf3ed,#fde6db,#fdd7c9,#fecabb,#ffbeaf,#ffb6a6,#ffb2a1,#ffb1a1,#ffb4a4,#ffb9aa,#ffc0b1,#ffc7b8,#fecfc0,#fdd6c8,#fdddcf,#fde2d6,#fde6db,#fde9df,#fdebe2,#fdede5,#fdefe7,#fdf1ea,#fdf2ec,#fdf4ef,#fdf6f1,#fef7f3,#fef8f5,#fef9f7,#fefaf8,#fefaf8,#fefaf8,#fefbf8,#fefbf9,#fefbf9,#fefcfa 380px,#fefcfb 383px)"></i><i style="background:linear-gradient(90deg,#5864ff,#5a67ff,#6371ff,#6d7dfd,#7789fc,#8194fa,#8a9efa,#92a6fa,#99adfb,#9fb3fb,#a2b6fb,#9db1fb,#8da1fa,#6b7bfd,#414aff,#0e0cfe,#1800bd,#200082,#220066,#22005c,#22005c,#22006c,#1b00a7,#1615ff,#6371ff,#a8bcfb,#c6d6fc,#cedbfc,#cbd9fc,#c7d6fc,#c7d6fc,#cbd9fc,#cfdcfc,#d2defc,#d3dffc,#d4dffc,#d7e2fc,#dee7fc,#eaeffd,#f9f9fd,#fdf5f0,#fde6db,#fed2c4,#ffbcad,#ffa493,#ff8e7b,#ff7d6a,#ff7360,#ff6f5d,#ff7260,#ff7a67,#ff8774,#ff9784,#ffa796,#ffb6a7,#ffc3b4,#fecebf,#fdd7c9,#fdded1,#fde3d7,#fde7dc,#fdeae0,#fdece3,#fdefe7,#fdf1ea,#fdf3ec,#fdf5ef,#fdf6f2,#fef8f4,#fef9f6,#fef9f7,#fefaf7,#fefaf8,#fefaf8,#fefbf8,#fefbf9,#fefcfa 380px,#fefcfb 383px)"></i><i style="background:linear-gradient(90deg,#6877fe,#6a7afd,#7485fc,#7c8ffb,#8598fa,#8da1fa,#93a7fa,#99adfb,#9eb2fb,#a2b6fb,#a3b7fb,#9baffb,#869afa,#5f6eff,#3035ff,#0e02e6,#1d0098,#220068,#220056,#210051,#210051,#220058,#200080,#0b03f0,#5662ff,#a1b5fb,#c5d4fc,#cfdcfc,#ccdafc,#c9d7fc,#cbd9fc,#d0ddfc,#d6e1fc,#dbe4fc,#dde6fc,#dfe7fc,#e4ebfd,#eef3fd,#fcfbfb,#fdf0e8,#fddcce,#ffc3b4,#ffa391,#ff7d6a,#ff5748,#fe3830,#fe2422,#fd1a1b,#fd1a1a,#fe201f,#fe2f2a,#ff453a,#ff6050,#ff7a67,#ff9481,#ffac9c,#ffbeaf,#fecabb,#fdd5c7,#fdddcf,#fde2d6,#fde7dc,#fdeae0,#fdede4,#fdefe7,#fdf1ea,#fdf3ed,#fdf5f0,#fdf7f3,#fef8f4,#fef9f6,#fef9f7,#fefaf7,#fefaf8,#fefaf8,#fefbf9,#fefbfa 380px,#fefcfb 383px)"></i><i style="background:linear-gradient(90deg,#6e7ffd,#7182fd,#7b8dfb,#8598fa,#8da1fa,#94a8fa,#9baffb,#a0b4fb,#a3b7fb,#a4b8fb,#a2b6fb,#97abfa,#7d90fb,#5561ff,#1f20ff,#1600c7,#21007b,#220059,#210050,#210050,#210050,#210051,#21006d,#1201d5,#4b55ff,#9aaefb,#c3d2fc,#cedbfc,#cddbfc,#cbd9fc,#cfdcfc,#d6e1fc,#dfe7fc,#e4ebfd,#e7edfd,#eaeffd,#f1f5fe,#fdfbfb,#fdefe7,#fdd8ca,#ffbaab,#ff8f7c,#ff5c4d,#fe2824,#f50910,#e5000f,#d70014,#d00016,#d20016,#db0013,#ea000e,#f8080f,#fe201e,#ff453a,#ff6b59,#ff8b77,#ffa897,#ffbcad,#fecabb,#fdd6c8,#fddfd2,#fde5d9,#fde9de,#fdebe2,#fdeee5,#fdf0e8,#fdf2eb,#fdf4ee,#fdf6f1,#fef7f3,#fef8f5,#fef9f6,#fef9f7,#fefaf7,#fefaf8,#fefaf8,#fefbf9 380px,#fefcfa 383px)"></i><i style="background:linear-gradient(90deg,#6777fe,#6c7cfd,#798cfb,#869afa,#90a4fa,#99adfb,#9fb3fb,#a4b8fb,#a5b9fb,#a5b9fb,#9fb3fb,#90a4fa,#7182fd,#4852ff,#0e0bff,#1a00ad,#21006c,#210054,#210050,#210050,#210050,#210050,#220062,#1700c2,#4149ff,#93a7fa,#c0d0fc,#cedbfc,#cedbfc,#cedbfc,#d4dffc,#dde6fc,#e7edfd,#edf2fd,#f1f4fd,#f5f7fe,#fdfcfd,#fdf3ed,#fddccf,#ffbbac,#ff8975,#ff483d,#f90f14,#de0012,#bb001b,#a4001f,#98001f,#950020,#970020,#a0001f,#b1001d,#cd0017,#ea000e,#fc0f13,#ff3830,#ff6554,#ff8975,#ffa998,#ffbeaf,#fecec0,#fddbcd,#fde3d7,#fde8dd,#fdeae1,#fdece3,#fdeee5,#fdf0e8,#fdf2ec,#fdf5ef,#fdf6f2,#fef8f4,#fef9f5,#fef9f6,#fef9f7,#fefaf7,#fefaf8,#fefbf9 380px,#fefbfa 383px)"></i><i style="background:linear-gradient(90deg,#5a68ff,#5f6dff,#7081fd,#8194fa,#8fa3fa,#9aaefb,#a1b5fb,#a5b9fb,#a6bafb,#a3b7fb,#9aaefb,#869afa,#6472ff,#3940ff,#0b03ef,#1d0097,#220061,#210050,#210050,#210050,#210050,#210050,#22005c,#1900b6,#3940ff,#8da1fa,#bdcdfc,#cddbfc,#d0dcfc,#d2defc,#d9e3fc,#e5ebfd,#eff3fd,#f6f9fe,#fafbfe,#fdfdfd,#fdf7f3,#fde6db,#ffc6b7,#ff9481,#ff4b3f,#f7080f,#cc0017,#a2001f,#8a0021,#820023,#800023,#800023,#800023,#820023,#8a0022,#9d001f,#bd001b,#e20011,#fb0a10,#ff342d,#ff6554,#ff8c78,#ffaf9f,#ffc5b6,#fdd6c8,#fde1d4,#fde7dc,#fde9df,#fdeae0,#fdebe2,#fdeee6,#fdf1ea,#fdf4ee,#fdf6f1,#fef7f3,#fef8f5,#fef9f6,#fef9f6,#fef9f6,#fefaf7,#fefaf8 380px,#fefbf9 383px)"></i><i style="background:linear-gradient(90deg,#4a53ff,#505bff,#6170ff,#7687fc,#889cfa,#96aafa,#9fb3fb,#a4b8fb,#a4b8fb,#9fb3fb,#92a6fa,#7b8dfb,#5865ff,#292dff,#1101d8,#200083,#22005a,#210050,#210050,#210050,#210050,#210050,#22005a,#1a00b0,#343aff,#889cfa,#bacbfc,#ccdafc,#d1ddfc,#d5e0fc,#dfe7fc,#ecf0fd,#f7f9fe,#fdfdfd,#fefcfb,#fef8f5,#fdf0e8,#fdd9cb,#ffafa0,#ff6755,#fb0f13,#ca0018,#98001f,#830023,#800023,#800023,#800023,#800023,#800023,#800023,#800023,#840023,#970020,#b8001c,#df0012,#fa090f,#ff352e,#ff6a58,#ff9582,#ffb9aa,#fecec0,#fdded0,#fde4d9,#fde7dc,#fde8dd,#fde9df,#fdece2,#fdefe7,#fdf3ec,#fdf5f0,#fdf7f3,#fef8f4,#fef8f5,#fef9f5,#fef9f6,#fef9f6,#fefaf7 380px,#fefbf9 383px)"></i><i style="background:linear-gradient(90deg,#333aff,#3b43ff,#535eff,#6675fe,#7c8ffb,#8ea2fa,#9aaefb,#a0b4fb,#a0b4fb,#99adfb,#899dfa,#6e7efd,#4c56ff,#1a1bff,#1700c3,#210077,#220057,#210050,#210050,#210050,#210050,#210050,#22005a,#1a00af,#3137ff,#8498fa,#b7c9fc,#ccdafc,#d3dffc,#d9e3fc,#e4ebfd,#f2f5fe,#fdfdfd,#fefaf8,#fef8f4,#fdf4ee,#fde8dd,#fecbbc,#ff927f,#ff342d,#de0012,#9c001f,#810023,#800023,#800023,#800023,#800023,#800023,#800023,#800023,#800023,#800023,#820023,#960020,#b6001c,#de0012,#fa090f,#ff3a32,#ff7562,#ffa493,#ffc3b4,#fdd6c8,#fde0d3,#fde4d8,#fde5d9,#fde6db,#fde9df,#fdeee5,#fdf2eb,#fdf5ef,#fdf6f2,#fef8f4,#fef8f5,#fef8f5,#fef8f5,#fef9f6,#fef9f7 380px,#fefaf8 383px)"></i><i style="background:linear-gradient(90deg,#1f21ff,#262aff,#4049ff,#5763ff,#6b7bfd,#8093fa,#8fa3fa,#98acfb,#99adfb,#91a5fa,#7f91fb,#616fff,#3e46ff,#0c09ff,#1a00b1,#210070,#210055,#210050,#210050,#210050,#210050,#210050,#22005b,#1a00b0,#3136ff,#8296fa,#b6c8fc,#ccdafc,#d4e0fc,#dce5fc,#e9effd,#f8fafe,#fefbf9,#fdf7f2,#fdf4ef,#fdf0e8,#fde1d4,#ffbfb0,#ff7763,#fc0b10,#b4001d,#840023,#800023,#800023,#800023,#800023,#800023,#800023,#800023,#800023,#800023,#800023,#800023,#830023,#950020,#b3001d,#dc0013,#fa0b10,#ff473c,#ff8571,#ffb3a4,#fecbbc,#fdd9ca,#fddfd1,#fde1d4,#fde3d7,#fde7dc,#fdece3,#fdf1ea,#fdf4ee,#fdf6f2,#fef7f3,#fef8f4,#fef8f4,#fef8f4,#fef8f5,#fef9f6 380px,#fefaf7 383px)"></i><i style="background:linear-gradient(90deg,#0e0cff,#1414ff,#2b30ff,#444dff,#5966ff,#6d7efd,#8093fa,#8ca0fa,#8ea2fa,#869afa,#7283fc,#5662ff,#2f35ff,#0b03f1,#1c00a3,#22006b,#210054,#210050,#210050,#210050,#210050,#210050,#22005e,#1a00b4,#3238ff,#8296fa,#b6c8fc,#ccdafc,#d6e1fc,#dfe7fc,#edf1fd,#fcfdfe,#fef8f5,#fdf4ee,#fdf2eb,#fdece3,#fddcce,#ffb6a7,#ff5d4d,#eb000e,#97001f,#800023,#800023,#800023,#800023,#800023,#800023,#800023,#800023,#800023,#800023,#800023,#800023,#800023,#820023,#910020,#ae001d,#db0013,#fd1215,#ff5a4b,#ff9582,#ffbbac,#feccbd,#fdd6c8,#fddcce,#fde0d3,#fde5da,#fdebe1,#fdf0e8,#fdf4ee,#fdf6f1,#fdf7f3,#fef7f4,#fef7f4,#fef7f4,#fef8f4,#fef9f5 380px,#fefaf7 383px)"></i><i style="background:linear-gradient(90deg,#0a03f6,#0904fb,#1818ff,#2d32ff,#454eff,#5966ff,#6c7cfd,#7b8dfb,#8194fa,#7a8cfb,#6574fe,#4b55ff,#2225ff,#0f02e0,#1d0098,#220067,#210053,#210050,#210050,#210050,#210050,#210050,#220062,#1900bb,#363dff,#8599fa,#b7c9fc,#cedbfc,#d8e2fc,#e1e9fc,#f0f3fd,#fefefd,#fdf6f2,#fdf2eb,#fdf0e9,#fdebe1,#fdd8ca,#ffac9c,#ff463a,#d60015,#870022,#800023,#800023,#800023,#800023,#800023,#800023,#800023,#800023,#800023,#800023,#800023,#800023,#800023,#800023,#810023,#8b0021,#aa001e,#e00011,#fe201f,#ff6c5a,#ffa08e,#ffbdae,#fecbbc,#fdd4c6,#fddcce,#fde3d7,#fdeae0,#fdf0e8,#fdf3ed,#fdf5f1,#fdf7f2,#fdf7f3,#fdf7f3,#fdf7f3,#fef7f3,#fef8f5 380px,#fef9f7 383px)"></i><i style="background:linear-gradient(90deg,#0d02eb,#0c02ed,#0a05fa,#1717ff,#2d31ff,#454eff,#5865ff,#6777fe,#7081fd,#6b7bfd,#5a67ff,#3e46ff,#1716ff,#1301d2,#1e008f,#220065,#210054,#210050,#210050,#210050,#210050,#210050,#220067,#1700c4,#3c43ff,#899dfa,#bacbfc,#cfdcfc,#d9e3fc,#e3eafc,#f2f5fe,#fefdfb,#fdf5f0,#fdf1ea,#fdf0e8,#fdeae1,#fdd7c9,#ffa695,#ff332c,#c2001a,#800023,#800023,#800023,#800023,#800023,#800023,#800023,#800023,#800023,#800023,#800023,#800023,#800023,#800023,#800023,#800023,#800023,#880022,#ae001d,#eb000e,#ff342d,#ff7b67,#ffa594,#ffbeaf,#feccbd,#fdd7c9,#fde1d4,#fde9df,#fdefe7,#fdf3ed,#fdf5f0,#fdf6f2,#fdf7f2,#fdf7f2,#fdf7f2,#fdf7f3,#fef8f5 380px,#fef9f7 383px)"></i><i style="background:linear-gradient(90deg,#0e02e5,#0f02e1,#0f02e3,#0a03f5,#1514ff,#2c31ff,#454eff,#5763ff,#606fff,#5e6cff,#505bff,#3339ff,#0d0aff,#1600c6,#1f008a,#220065,#210055,#210050,#210050,#210050,#210050,#210051,#21006d,#1401cf,#424bff,#8fa3fa,#bdcefc,#d1ddfc,#dbe4fc,#e4ebfd,#f3f6fe,#fefcfa,#fdf4ef,#fdf1e9,#fdf0e8,#fdebe1,#fdd6c8,#ffa290,#fe2723,#b3001e,#800023,#800023,#800023,#800023,#800023,#800023,#800023,#800023,#800023,#800023,#800023,#800023,#800023,#800023,#800023,#800023,#800023,#800023,#8b0021,#bd001b,#f8060d,#ff4d40,#ff8773,#ffae9e,#ffc3b4,#fdd3c4,#fddfd2,#fde8de,#fdefe7,#fdf3ec,#fdf5f0,#fdf6f1,#fdf6f2,#fdf6f2,#fdf6f2,#fdf7f3,#fef8f5 380px,#fef9f7 383px)"></i><i style="background:linear-gradient(90deg,#0f02e2,#1101da,#1401ce,#1101d8,#0b03f2,#1616ff,#3035ff,#4751ff,#5460ff,#5460ff,#464fff,#292dff,#0903fa,#1800be,#1f0088,#220067,#220056,#210050,#210050,#210050,#210050,#210053,#210073,#1101dc,#4953ff,#94a8fa,#c0d1fc,#d3dffc,#dce5fc,#e5ecfd,#f4f7fe,#fefbf9,#fdf4ee,#fdf0e9,#fdf0e9,#fdebe2,#fdd7c9,#ff9f8d,#fe1f1e,#aa001e,#800023,#800023,#800023,#800023,#800023,#800023,#800023,#800023,#800023,#800023,#800023,#800023,#800023,#800023,#800023,#800023,#800023,#800023,#800023,#970020,#d70014,#fd1d1d,#ff6756,#ff9986,#ffbbac,#fecec0,#fdded0,#fde8dd,#fdefe6,#fdf2ec,#fdf4ef,#fdf5f1,#fdf6f1,#fdf6f1,#fdf6f1,#fdf6f2,#fef8f5 380px,#fefaf7 383px)"></i><i style="background:linear-gradient(90deg,#0f02e3,#1201d5,#1800bd,#1800c0,#1201d5,#0a04f7,#1d1fff,#363dff,#4852ff,#4b55ff,#3c44ff,#2124ff,#0b03f2,#1900bb,#1f008a,#22006b,#220059,#210051,#210050,#210050,#210050,#220057,#21007b,#0d02e9,#4f5aff,#99adfb,#c3d3fc,#d5e0fc,#dde6fc,#e6ecfd,#f5f7fe,#fefbf9,#fdf3ed,#fdf0e9,#fdf1ea,#fdece3,#fdd8ca,#ff9e8c,#fd1a1a,#a3001f,#800023,#800023,#800023,#800023,#800023,#800023,#800023,#800023,#800023,#800023,#800023,#800023,#800023,#800023,#800023,#800023,#800023,#800023,#800023,#830023,#b1001d,#f5010b,#ff453a,#ff8672,#ffb3a4,#fecabb,#fddcce,#fde7dc,#fdeee6,#fdf2eb,#fdf4ef,#fdf5f0,#fdf5f1,#fdf5f1,#fdf6f1,#fdf6f2,#fef8f4 380px,#fefaf7 383px)"></i><i style="background:linear-gradient(90deg,#0e02e4,#1301d2,#1a00b2,#1a00ae,#1800c0,#0f02e0,#0e0cff,#292dff,#3c44ff,#424aff,#353cff,#1c1eff,#0c03ef,#1900bc,#1e008f,#210070,#22005d,#210055,#210051,#210050,#210051,#22005a,#1f0089,#0a03f7,#5561ff,#9db1fb,#c5d4fc,#d6e1fc,#dee7fc,#e7edfd,#f6f8fe,#fefaf8,#fdf3ed,#fdf0e9,#fdf1ea,#fdede4,#fdd8ca,#ff9d8b,#fd1718,#9f001f,#800023,#800023,#800023,#800023,#800023,#800023,#800023,#800023,#800023,#800023,#800023,#800023,#800023,#800023,#800023,#800023,#800023,#800023,#800023,#800023,#97001f,#df0012,#fe2723,#ff7561,#ffa998,#ffc7b8,#fddbcc,#fde6db,#fdeee5,#fdf2eb,#fdf4ee,#fdf5f0,#fdf5f0,#fdf5f0,#fdf5f1,#fdf6f2,#fef8f4 380px,#fefaf7 383px)"></i><i style="background:linear-gradient(90deg,#0e02e7,#1301d2,#1b00ab,#1c00a4,#1a00b2,#1301d1,#0903f9,#1f21ff,#343aff,#3b42ff,#3136ff,#1b1bff,#0b03f0,#1700c2,#1d009a,#210078,#220066,#22005a,#210055,#210053,#220056,#220064,#1d009b,#0c09ff,#5a67ff,#a0b4fb,#c5d5fc,#d6e1fc,#dfe7fc,#e8eefd,#f8f9fe,#fef9f7,#fdf2ec,#fdf0e8,#fdf1ea,#fdede4,#fdd8ca,#ff9c8a,#fd1416,#9d001f,#800023,#800023,#800023,#800023,#800023,#800023,#800023,#800023,#800023,#800023,#800023,#800023,#800023,#800023,#800023,#800023,#800023,#800023,#800023,#800023,#8a0021,#ca0018,#fd1416,#ff6755,#ffa18f,#ffc4b5,#fdd9cb,#fde6da,#fdede4,#fdf1ea,#fdf3ed,#fdf4ef,#fdf5f0,#fdf5f0,#fdf5f1,#fdf6f2,#fef8f4 380px,#fef9f7 383px)"></i><i style="background:linear-gradient(90deg,#0d02e9,#1301d3,#1b00aa,#1c00a0,#1b00ad,#1600c9,#0b03f1,#1919ff,#2e33ff,#373dff,#2f34ff,#1c1dff,#0a03f6,#1400cd,#1b00a8,#1f0087,#210072,#220064,#22005b,#220059,#22005c,#210071,#1a00ae,#1615ff,#5e6bff,#a0b4fb,#c4d4fc,#d6e1fc,#dfe7fc,#eaeffd,#f9fbfe,#fef8f5,#fdf2eb,#fdefe7,#fdf0e9,#fdece3,#fdd7c9,#ff9b88,#fd1215,#9b001f,#800023,#800023,#800023,#800023,#800023,#800023,#800023,#800023,#800023,#800023,#800023,#800023,#800023,#800023,#800023,#800023,#800023,#800023,#800023,#800023,#830023,#bc001b,#fc080e,#ff5d4d,#ff9c89,#ffc2b3,#fdd8c9,#fde5d9,#fdece3,#fdf0e9,#fdf3ec,#fdf4ee,#fdf5ef,#fdf5f0,#fdf6f1,#fdf6f2,#fef8f4 380px,#fef9f6 383px)"></i><i style="background:linear-gradient(90deg,#0c02ec,#1201d7,#1b00ac,#1c00a2,#1b00ad,#1600c7,#0c02ed,#1615ff,#2b2fff,#353bff,#2f35ff,#1f21ff,#0a06fe,#1001dd,#1900bb,#1c009e,#200083,#210073,#220069,#220065,#22006b,#200082,#1700c4,#2022ff,#6170ff,#a0b4fb,#c3d3fc,#d5e0fc,#e0e8fc,#ecf0fd,#fbfcfe,#fef7f4,#fdf1e9,#fdeee6,#fdf0e8,#fdebe2,#fdd6c7,#ff9985,#fd1114,#9b001f,#800023,#800023,#800023,#800023,#800023,#800023,#800023,#800023,#800023,#800023,#800023,#800023,#800023,#800023,#800023,#800023,#800023,#800023,#800023,#800023,#810023,#b4001d,#fc0109,#ff5848,#ff9985,#ffc0b1,#fdd6c8,#fde4d8,#fdebe2,#fdf0e8,#fdf2eb,#fdf4ee,#fdf5ef,#fdf5f0,#fdf6f1,#fdf7f2,#fef8f4 380px,#fef9f6 383px)"></i><i style="background:linear-gradient(90deg,#0b03f0,#1001dc,#1a00b4,#1b00aa,#1a00b3,#1500cb,#0c02ee,#1514ff,#292dff,#333aff,#3137ff,#2528ff,#1312ff,#0b03f2,#1301d3,#1900b7,#1c009f,#1f0089,#21007b,#210077,#20007e,#1c009e,#1001de,#2c30ff,#6676fe,#a0b4fb,#c1d1fc,#d4dffc,#e0e8fc,#edf2fd,#fefefe,#fdf6f2,#fdf0e8,#fdede5,#fdeee6,#fdeae0,#fdd4c6,#ff9783,#fd1013,#9b001f,#800023,#800023,#800023,#800023,#800023,#800023,#800023,#800023,#800023,#800023,#800023,#800023,#800023,#800023,#800023,#800023,#800023,#800023,#800023,#800023,#800023,#b2001e,#fb0008,#ff5646,#ff9783,#ffbfb0,#fdd5c7,#fde3d7,#fdeae0,#fdefe7,#fdf1eb,#fdf3ed,#fdf4ef,#fdf5f0,#fdf6f1,#fdf7f3,#fef8f4 380px,#fef9f5 383px)"></i><i style="background:linear-gradient(90deg,#0a03f6,#0e02e4,#1800be,#1a00b5,#1900bc,#1301d3,#0b03f1,#1414ff,#272bff,#3339ff,#343aff,#2c31ff,#1f21ff,#0f0dff,#0b03f1,#1201d8,#1800c0,#1b00ab,#1d009c,#1d0096,#1c00a0,#1800bf,#0b05f9,#3940ff,#6d7efd,#a1b5fb,#c0d0fc,#d3dffc,#e1e9fc,#eff3fd,#fefefe,#fdf5f0,#fdefe7,#fdece3,#fdede4,#fde9de,#fdd3c4,#ff9581,#fd0f13,#9b001f,#800023,#800023,#800023,#800023,#800023,#800023,#800023,#800023,#800023,#800023,#800023,#800023,#800023,#800023,#800023,#800023,#800023,#800023,#800023,#800023,#800023,#b2001e,#fb0008,#ff5546,#ff9783,#ffbfb0,#fdd5c6,#fde2d5,#fde9df,#fdeee5,#fdf1ea,#fdf3ed,#fdf4ef,#fdf5f1,#fdf6f2,#fdf7f3,#fef8f4 380px,#fef8f5 383px)"></i><i style="background:linear-gradient(90deg,#0804fd,#0b03ef,#1401cf,#1700c5,#1500cb,#1001dd,#0a03f6,#1413ff,#2528ff,#3137ff,#363dff,#353bff,#2d32ff,#2225ff,#1514ff,#0b06f9,#0e02e7,#1301d3,#1700c3,#1800be,#1600c7,#0e02e5,#1a1bff,#4952ff,#7789fc,#a5b9fb,#c1d1fc,#d3dffc,#e2e9fc,#f0f4fd,#fefdfc,#fdf4ef,#fdeee5,#fdebe2,#fdece3,#fde8dd,#fed2c3,#ff9480,#fd0f12,#9b001f,#800023,#800023,#800023,#800023,#800023,#800023,#800023,#800023,#800023,#800023,#800023,#800023,#800023,#800023,#800023,#800023,#800023,#800023,#800023,#800023,#800023,#b3001e,#fb0008,#ff5647,#ff9783,#ffbfb0,#fdd4c6,#fde1d5,#fde8de,#fdede4,#fdf0e9,#fdf3ec,#fdf4ef,#fdf5f1,#fdf6f2,#fef7f3,#fef8f4 380px,#fef8f4 383px)"></i><i style="background:linear-gradient(90deg,#0f0dff,#0904fc,#0f02e3,#1101d9,#1101dc,#0d02e8,#0903fa,#1312ff,#2225ff,#2f34ff,#3940ff,#3e45ff,#3d45ff,#383fff,#2e33ff,#2124ff,#1413ff,#0c08fa,#0c03f0,#0c02ec,#0c04f3,#1211ff,#3237ff,#5865ff,#8397fa,#abbefc,#c3d3fc,#d4e0fc,#e3eafc,#f2f5fe,#fefcfb,#fdf4ee,#fdede4,#fdebe1,#fdece3,#fde7dd,#fed1c3,#ff9480,#fc0e12,#9b001f,#800023,#800023,#800023,#800023,#800023,#800023,#800023,#800023,#800023,#800023,#800023,#800023,#800023,#800023,#800023,#800023,#800023,#800023,#800023,#800023,#800023,#b3001e,#fc0008,#ff5748,#ff9884,#ffbfb0,#fdd4c6,#fde1d4,#fde8dd,#fdece3,#fdf0e8,#fdf2ec,#fdf4ef,#fdf6f1,#fdf7f2,#fef7f3,#fef8f4 380px,#fef8f4 383px)"></i><i style="background:linear-gradient(90deg,#1919ff,#1312ff,#0a05fa,#0b03f0,#0c02ee,#0b03f3,#0803fd,#110fff,#1d1fff,#2b30ff,#3a41ff,#4650ff,#4e59ff,#4f5aff,#4a54ff,#4048ff,#3339ff,#272bff,#1e20ff,#1b1cff,#2022ff,#3035ff,#4c56ff,#6b7bfd,#93a7fa,#b3c6fc,#c8d7fc,#d7e2fc,#e4ebfd,#f3f6fe,#fefcfb,#fdf3ee,#fdede4,#fdebe1,#fdece3,#fde8dd,#fed2c3,#ff9480,#fc0e12,#99001f,#800023,#800023,#800023,#800023,#800023,#800023,#800023,#800023,#800023,#800023,#800023,#800023,#800023,#800023,#800023,#800023,#800023,#800023,#800023,#800023,#800023,#b3001e,#fc0008,#ff5848,#ff9985,#ffc0b1,#fdd5c6,#fde1d4,#fde7dd,#fdece2,#fdefe7,#fdf2eb,#fdf4ee,#fdf5f1,#fdf7f2,#fef7f3,#fef7f4 380px,#fef7f3 383px)"></i><i style="background:linear-gradient(90deg,#2528ff,#2124ff,#1717ff,#0f0dff,#0b07fe,#0904fd,#0804ff,#0d0bff,#1717ff,#2629ff,#3a41ff,#4e58ff,#5c69ff,#6473fe,#6371fe,#5b69ff,#525dff,#4751ff,#3f47ff,#3c44ff,#4149ff,#4e59ff,#6473fe,#8598fa,#a6b9fb,#becffc,#cfdcfc,#dbe4fc,#e6ecfd,#f3f6fe,#fefcfa,#fdf4ee,#fdede4,#fdebe2,#fdede4,#fde9df,#fdd4c5,#ff9682,#fc0e12,#98001f,#800023,#800023,#800023,#800023,#800023,#800023,#800023,#800023,#800023,#800023,#800023,#800023,#800023,#800023,#800023,#800023,#800023,#800023,#800023,#800023,#800023,#b2001e,#fc0008,#ff5849,#ff9a87,#ffc1b2,#fdd5c7,#fde1d4,#fde7dc,#fdebe2,#fdefe6,#fdf1ea,#fdf4ee,#fdf5f0,#fdf7f2,#fef7f4,#fef7f4 380px,#fef7f3 383px)"></i><i style="background:linear-gradient(90deg,#3339ff,#3137ff,#2a2eff,#2123ff,#1717ff,#0f0dff,#0a06ff,#0a07ff,#110fff,#2022ff,#3940ff,#535fff,#6a7afe,#7c8efb,#7f92fb,#798bfb,#6d7dfd,#6371fe,#5c69ff,#5a66ff,#5d6bff,#6979fe,#8194fb,#9db1fb,#b7c9fc,#cad8fc,#d6e1fc,#dfe7fc,#e8eefd,#f4f6fe,#fefcfb,#fdf4ee,#fdeee5,#fdece3,#fdeee6,#fdebe1,#fdd6c7,#ff9885,#fd0f13,#98001f,#800023,#800023,#800023,#800023,#800023,#800023,#800023,#800023,#800023,#800023,#800023,#800023,#800023,#800023,#800023,#800023,#800023,#800023,#800023,#800023,#800023,#b2001e,#fc0008,#ff5949,#ff9b88,#ffc2b3,#fdd6c8,#fde2d5,#fde7dd,#fdebe1,#fdeee6,#fdf1ea,#fdf3ed,#fdf5f0,#fdf7f2,#fef7f4,#fef7f4 380px,#fdf7f3 383px)"></i><i style="background:linear-gradient(90deg,#424bff,#434cff,#3e46ff,#3339ff,#2528ff,#1717ff,#0d0aff,#0804ff,#0b08ff,#1b1cff,#373dff,#5763ff,#7788fc,#8fa3fa,#97abfa,#93a7fa,#899dfa,#7f92fb,#788afc,#7688fc,#7b8dfb,#889bfa,#9cb0fb,#b3c5fc,#c7d6fc,#d5e0fc,#dde6fc,#e3eafc,#e9effd,#f3f6fe,#fefdfc,#fdf5ef,#fdefe6,#fdede4,#fdf0e8,#fdece3,#fdd8ca,#ff9c89,#fd1315,#9a001f,#800023,#800023,#800023,#800023,#800023,#800023,#800023,#800023,#800023,#800023,#800023,#800023,#800023,#800023,#800023,#800023,#800023,#800023,#800023,#800023,#810023,#b4001d,#fc020a,#ff5c4c,#ff9e8c,#ffc4b5,#fdd8ca,#fde3d6,#fde8dd,#fdebe1,#fdeee6,#fdf1ea,#fdf3ed,#fdf5f0,#fdf7f2,#fef7f4,#fef7f4 380px,#fdf7f3 383px)"></i><i style="background:linear-gradient(90deg,#515cff,#535eff,#515cff,#464fff,#343aff,#2123ff,#110fff,#0803fe,#0804ff,#1717ff,#343bff,#5864ff,#7d90fb,#9aaefb,#a5b9fb,#a4b8fb,#9db1fb,#95a9fa,#90a4fa,#8fa3fa,#95a9fa,#a1b5fb,#b2c4fc,#c4d3fc,#d3dffc,#dee7fc,#e3eafc,#e6ecfd,#eaeffd,#f3f6fe,#fefefd,#fdf6f1,#fdf0e8,#fdeee6,#fdf0e9,#fdede5,#fddacc,#ffa08e,#fd191a,#9f001f,#800023,#800023,#800023,#800023,#800023,#800023,#800023,#800023,#800023,#800023,#800023,#800023,#800023,#800023,#800023,#800023,#800023,#800023,#800023,#800023,#820023,#ba001c,#fc080e,#ff6251,#ffa290,#ffc6b7,#fddacb,#fde3d7,#fde8dd,#fdebe1,#fdeee5,#fdf1e9,#fdf3ed,#fdf5f0,#fdf7f3,#fef8f4,#fef8f4 380px,#fef7f3 383px)"></i><i style="background:linear-gradient(90deg,#5e6cff,#616fff,#616fff,#5662ff,#434cff,#2c30ff,#1818ff,#0a07ff,#0804ff,#1514ff,#3137ff,#5662ff,#7c8ffb,#9baffb,#a8bcfb,#aabefc,#a5b9fb,#a0b4fb,#9eb2fb,#a0b4fb,#a7bbfb,#b2c5fc,#c0d0fc,#cfdcfc,#dce5fc,#e4ebfd,#e7edfd,#e8eefd,#eaeffd,#f1f5fe,#fefefe,#fdf7f3,#fdf1ea,#fdf0e8,#fdf1ea,#fdeee6,#fddbcd,#ffa594,#fe2321,#aa001e,#800023,#800023,#800023,#800023,#800023,#800023,#800023,#800023,#800023,#800023,#800023,#800023,#800023,#800023,#800023,#800023,#800023,#800023,#800023,#800023,#870022,#c60019,#fd1315,#ff6b59,#ffa897,#fec9ba,#fddbcd,#fde4d9,#fde9de,#fdebe2,#fdeee6,#fdf1ea,#fdf3ed,#fdf5f1,#fef7f3,#fef8f4,#fef8f4 380px,#fef7f3 383px)"></i><i style="background:linear-gradient(90deg,#6d7dfd,#7182fd,#7283fc,#6372ff,#515cff,#3940ff,#2224ff,#1210ff,#0c09ff,#1615ff,#2e34ff,#515cff,#7283fc,#90a4fa,#9eb2fb,#a2b6fb,#a1b5fb,#a0b4fb,#a2b6fb,#a7bbfb,#afc2fc,#bbccfc,#c8d7fc,#d5e0fc,#dfe7fc,#e6ecfd,#e7edfd,#e7edfd,#e9eefd,#eff3fd,#fcfcfe,#fef9f5,#fdf3ec,#fdf1e9,#fdf1ea,#fdeee5,#fddcce,#ffab9a,#ff332d,#bd001b,#800023,#800023,#800023,#800023,#800023,#800023,#800023,#800023,#800023,#800023,#800023,#800023,#800023,#800023,#800023,#800023,#800023,#800023,#800023,#800023,#910020,#d80014,#fe2422,#ff7965,#ffb0a1,#feccbd,#fdddcf,#fde5da,#fde9df,#fdece2,#fdefe6,#fdf1ea,#fdf4ee,#fdf6f1,#fef7f4,#fef8f5,#fef8f5 380px,#fef8f4 383px)"></i><i style="background:linear-gradient(90deg,#7d8ffb,#8194fa,#8195fa,#7384fc,#5d6bff,#4751ff,#2f35ff,#1d1fff,#1514ff,#191aff,#2b30ff,#4750ff,#5f6eff,#7889fc,#8699fa,#8ca0fa,#8fa3fa,#93a7fa,#9aaefb,#a3b7fb,#afc2fc,#bbccfc,#c8d7fc,#d4dffc,#dde6fc,#e2eafc,#e4ebfd,#e4ebfd,#e6edfd,#edf2fd,#f9fafe,#fefaf8,#fdf4ef,#fdf1ea,#fdf1e9,#fdece3,#fddbcd,#ffb1a2,#ff4d40,#db0013,#8b0021,#800023,#800023,#800023,#800023,#800023,#800023,#800023,#800023,#800023,#800023,#800023,#800023,#800023,#800023,#800023,#800023,#800023,#800023,#800023,#a5001e,#ee000c,#ff4036,#ff8975,#ffb8a9,#fed0c1,#fddfd1,#fde6db,#fdeae0,#fdece3,#fdefe7,#fdf2eb,#fdf4ef,#fdf6f2,#fef8f5,#fef9f6,#fef9f6 380px,#fef8f5 383px)"></i><i style="background:linear-gradient(90deg,#8a9efa,#8ea2fa,#8ea2fa,#8194fa,#6b7bfd,#5662ff,#4049ff,#2d32ff,#2123ff,#1f21ff,#282cff,#383fff,#4a54ff,#5865ff,#6271fe,#6a7afe,#7183fc,#7b8dfb,#889cfa,#97abfa,#a7bbfb,#b5c7fc,#c2d2fc,#cddbfc,#d5e1fc,#dbe4fc,#dde6fc,#dfe7fc,#e3eafc,#eaeffd,#f5f8fe,#fefcfb,#fdf6f2,#fdf2ec,#fdf0e8,#fdeae0,#fddacb,#ffb6a7,#ff6856,#f7040c,#ac001e,#830023,#800023,#800023,#800023,#800023,#800023,#800023,#800023,#800023,#800023,#800023,#800023,#800023,#800023,#800023,#800023,#800023,#800023,#890022,#c50019,#fd1114,#ff6352,#ff9d8a,#ffc0b1,#fdd4c6,#fde1d4,#fde7dc,#fdebe1,#fdede5,#fdf0e8,#fdf3ec,#fdf5f0,#fef7f3,#fef9f5,#fef9f7,#fef9f6 380px,#fef9f6 383px)"></i><i style="background:linear-gradient(90deg,#97abfa,#99adfb,#97abfa,#8da1fa,#7a8cfb,#6473ff,#525eff,#4048ff,#3036ff,#272bff,#2528ff,#282cff,#2e33ff,#363cff,#3e46ff,#4650ff,#515cff,#5d6bff,#6f7ffd,#8497fa,#99adfb,#abbefc,#b8cafc,#c3d3fc,#cbd9fc,#d0ddfc,#d5e0fc,#d9e3fc,#dfe7fc,#e7edfd,#f2f5fe,#fefefe,#fef8f5,#fdf3ed,#fdefe7,#fde7dc,#fdd8ca,#ffbbac,#ff826e,#fe2c27,#e00012,#a2001f,#840022,#800023,#800023,#800023,#800023,#800023,#800023,#800023,#800023,#800023,#800023,#800023,#800023,#800023,#800023,#800023,#810023,#a3001f,#eb000e,#ff3c33,#ff8470,#ffb2a2,#fec9ba,#fdd9cb,#fde2d6,#fde8dd,#fdebe2,#fdeee6,#fdf1ea,#fdf3ee,#fdf6f1,#fef8f4,#fef9f6,#fefaf7,#fefaf7 380px,#fef9f6 383px)"></i><i style="background:linear-gradient(90deg,#a1b5fb,#a2b6fb,#9fb3fb,#96aafa,#899dfa,#7688fc,#6372ff,#535eff,#424aff,#3036ff,#2224ff,#1717ff,#110fff,#110ffd,#1513fe,#1e1fff,#2c31ff,#4048ff,#5561ff,#6c7cfd,#869afa,#9cb0fb,#abbffc,#b5c7fc,#bdcefc,#c4d4fc,#cbd9fc,#d2defc,#dbe4fc,#e4ebfd,#eff3fd,#fbfcfe,#fefaf8,#fdf4ef,#fdeee6,#fde5d9,#fdd7c8,#ffc1b2,#ff9c89,#ff6453,#fd1c1c,#df0012,#a9001d,#880022,#800023,#800023,#800023,#800023,#800023,#800023,#800023,#800023,#800023,#800023,#800023,#800023,#800023,#800023,#920020,#cd0017,#fd1819,#ff6d5b,#ffa492,#ffc1b2,#fed2c3,#fdddcf,#fde4d8,#fde9de,#fdece3,#fdefe7,#fdf2eb,#fdf4ef,#fdf6f2,#fef8f5,#fef9f7,#fefaf8,#fefaf7 380px,#fef9f6 383px)"></i><i style="background:linear-gradient(90deg,#abbffc,#aabefc,#a6bafb,#9fb3fb,#95a9fa,#899cfa,#788afc,#6473fe,#515dff,#3941ff,#1f20ff,#0a05fb,#0f02e2,#1301d3,#1201d5,#0f02e4,#0d08f8,#1e20ff,#3a42ff,#5663ff,#7182fd,#8b9ffa,#9cb0fb,#a7bbfb,#afc2fc,#b7c9fc,#c1d1fc,#ccdafc,#d7e1fc,#e2e9fc,#edf1fd,#f8f9fe,#fefcfb,#fdf5f0,#fdeee5,#fde3d7,#fdd6c8,#ffc6b7,#ffb3a4,#ff927f,#ff6554,#fe2522,#e7000f,#b3001d,#900021,#830023,#800023,#800023,#800023,#810023,#810023,#810023,#810023,#800023,#800023,#800023,#810023,#8d0021,#b6001c,#f4030d,#ff4f42,#ff9682,#ffbdae,#fecfc0,#fddacc,#fde1d4,#fde6da,#fdeae0,#fdede4,#fdf0e8,#fdf3ec,#fdf5f0,#fdf7f3,#fef8f5,#fef9f7,#fefaf7,#fef9f7 380px,#fef9f6 383px)"></i><i style="background:linear-gradient(90deg,#b3c5fc,#b0c3fc,#abbffc,#a6bafb,#a1b5fb,#98acfb,#8ca0fa,#798bfb,#5e6dff,#424aff,#1b1cff,#0e02e6,#1800bb,#1c00a4,#1c00a1,#1a00ad,#1500c9,#0b03f1,#1e20ff,#424aff,#5e6cff,#7a8cfb,#8da1fa,#98acfb,#a1b5fb,#abbffc,#b8c9fc,#c6d5fc,#d3dffc,#e0e8fc,#eaf0fd,#f5f7fe,#fefefd,#fdf7f3,#fdeee5,#fde3d7,#fdd7c9,#feccbe,#ffc3b4,#ffb6a7,#ff9d8b,#ff715f,#fe2c28,#ec000d,#bd001b,#9e001f,#920020,#8e0021,#8f0021,#910020,#920020,#930020,#920020,#8f0021,#8d0021,#8e0021,#970020,#b1001d,#e40010,#fe2b27,#ff7f6b,#ffb5a6,#fecec0,#fddccd,#fde1d4,#fde4d8,#fde7dd,#fdebe1,#fdeee5,#fdf1ea,#fdf3ed,#fdf5f0,#fdf7f3,#fef8f5,#fef9f6,#fef9f6,#fef9f6 380px,#fef8f5 383px)"></i><i style="background:linear-gradient(90deg,#b9cbfc,#b6c8fc,#b0c3fc,#adc0fc,#aabefc,#a6bafb,#9cb0fb,#8a9efa,#6b7bfd,#4852ff,#1818ff,#1301d1,#1d009d,#20007f,#21007a,#200083,#1c009d,#1600c6,#0b06f9,#2c31ff,#515dff,#6c7cfd,#8093fa,#8ca0fa,#95a9fa,#a0b4fb,#b0c3fc,#c1d1fc,#d1ddfc,#dfe7fc,#e9effd,#f2f6fe,#fdfdfe,#fef8f5,#fdefe7,#fde4d8,#fddacc,#fdd3c5,#fed0c1,#feccbd,#ffc1b2,#ffa694,#ff715e,#fe2925,#ee000d,#cc0017,#b8001c,#b0001d,#b1001d,#b3001d,#b4001d,#b5001c,#b4001d,#b2001d,#b0001d,#b2001d,#c0001a,#df0012,#fd1215,#ff6150,#ffa391,#fec9ba,#fddcce,#fde4d8,#fde6db,#fde7dc,#fde9df,#fdece2,#fdefe7,#fdf1eb,#fdf4ee,#fdf5f0,#fdf6f2,#fef7f3,#fef8f4,#fef8f4,#fef7f3 380px,#fdf7f3 383px)"></i><i style="background:linear-gradient(90deg,#bfd0fc,#bbccfc,#b4c6fc,#b2c4fc,#b2c4fc,#b0c3fc,#a9bdfb,#97abfa,#7688fc,#4c56ff,#1413ff,#1800c0,#200084,#21006d,#220067,#22006c,#21007c,#1c00a4,#1101dc,#1b1cff,#454eff,#6170ff,#7788fc,#8396fa,#8ca0fa,#98acfb,#aabefc,#bdcefc,#d0dcfc,#dee7fc,#e8eefd,#f1f4fd,#fafbfe,#fefaf8,#fdf1ea,#fde7dc,#fdded1,#fddacc,#fddbcd,#fddbcd,#fdd5c7,#ffc3b4,#ff9c8a,#ff6352,#fe2220,#f4030c,#e40010,#db0013,#d90014,#da0014,#dc0013,#dd0013,#de0012,#dd0012,#dc0013,#e00012,#ec000d,#fb0e12,#ff463a,#ff8874,#ffbbac,#fdd7c9,#fde5d9,#fde9df,#fdeae0,#fde9df,#fdeae1,#fdede4,#fdf0e8,#fdf2eb,#fdf4ee,#fdf5f0,#fdf6f1,#fdf6f1,#fdf6f1,#fdf6f1,#fdf5f0 380px,#fdf5f0 383px)"></i><i style="background:linear-gradient(90deg,#c5d4fc,#c0d0fc,#b8cafc,#b7c8fc,#b8c9fc,#b8c9fc,#b2c4fc,#a1b5fb,#7e91fb,#4f59ff,#1110ff,#1a00b4,#210077,#220060,#22005a,#22005d,#22006b,#1f0087,#1800c0,#0c09ff,#3a41ff,#5a68ff,#6f7ffd,#7c8efb,#8598fa,#91a5fa,#a5b9fb,#baccfc,#cedbfc,#dee6fc,#e8eefd,#eff3fd,#f7f9fe,#fefcfb,#fdf4ef,#fdebe2,#fde3d7,#fde0d3,#fde2d6,#fde4d8,#fde1d5,#fdd3c5,#ffb9a9,#ff8b77,#ff5647,#fe2723,#fc0e11,#f9050c,#f7030c,#f6020b,#f8030b,#f8040c,#fa060d,#fa070e,#fa090f,#fb0d12,#fd1c1c,#ff4036,#ff7461,#ffa695,#fecabb,#fde0d3,#fdeae0,#fdede4,#fdece3,#fdebe1,#fdece3,#fdeee6,#fdf1e9,#fdf3ec,#fdf4ee,#fdf4ef,#fdf4ef,#fdf4ee,#fdf4ee,#fdf3ed,#fdf3ec 380px,#fdf3ec 383px)"></i><i style="background:linear-gradient(90deg,#c9d8fc,#c4d4fc,#bccdfc,#bbccfc,#bdcefc,#becefc,#b8cafc,#a8bcfb,#8498fa,#505cff,#0f0dff,#1b00ac,#210070,#22005a,#220056,#220057,#22005e,#210075,#1b00aa,#0b03f2,#2f34ff,#5460ff,#6877fe,#7586fc,#7e91fb,#8b9ffa,#a0b4fb,#b7c9fc,#cddafc,#dce5fc,#e7edfd,#eef2fd,#f5f7fe,#fefefe,#fef7f4,#fdf0e8,#fde9df,#fde6db,#fde7dd,#fde9df,#fde7dc,#fdddcf,#ffc7b8,#ffa797,#ff7e6a,#ff5748,#ff3931,#fe2825,#fe201f,#fe1e1d,#fe1f1e,#fe2321,#fe2724,#fe2d28,#ff332d,#ff3e35,#ff5244,#ff715e,#ff9783,#ffbbac,#fdd5c6,#fde6db,#fdede4,#fdefe6,#fdede5,#fdede4,#fdede5,#fdefe7,#fdf1ea,#fdf3ed,#fdf3ee,#fdf3ed,#fdf3ed,#fdf2eb,#fdf1ea,#fdf0e9,#fdf0e8 380px,#fdf0e8 383px)"></i><i style="background:linear-gradient(90deg,#cddafc,#c8d7fc,#bfcffc,#becffc,#c1d1fc,#c2d2fc,#bdcefc,#adc0fc,#899dfa,#525eff,#0f0cff,#1b00a7,#22006b,#220057,#210053,#210053,#220058,#22006b,#1d0098,#0f02e0,#2528ff,#4d58ff,#616fff,#6e7efd,#7789fc,#8599fa,#9baffb,#b3c6fc,#cad8fc,#dae4fc,#e5ebfd,#ebf0fd,#f1f5fe,#fafbfe,#fefbf9,#fdf4ef,#fdefe6,#fdebe2,#fdebe2,#fdece3,#fde9df,#fde1d4,#fed0c1,#ffbaab,#ff9b88,#ff7d69,#ff6554,#ff5244,#ff463b,#ff4137,#ff4238,#ff483c,#ff4f42,#ff5849,#ff6151,#ff6e5b,#ff7f6b,#ff9683,#ffb3a4,#fec9ba,#fdddcf,#fde9df,#fdeee6,#fdefe7,#fdeee6,#fdeee5,#fdefe7,#fdf0e9,#fdf2eb,#fdf3ed,#fdf3ed,#fdf2ec,#fdf1ea,#fdf0e8,#fdeee6,#fdede4,#fdece3 380px,#fdece3 383px)"></i><i style="background:linear-gradient(90deg,#d0dcfc,#cbd9fc,#c2d2fc,#c1d1fc,#c4d4fc,#c6d5fc,#c1d1fc,#b1c4fc,#8da1fa,#5561ff,#100eff,#1b00a7,#22006a,#220056,#210051,#210051,#220056,#220063,#1f0088,#1401cf,#1b1cff,#444dff,#5a67ff,#6473fe,#6e7ffd,#7d8ffb,#94a8fa,#aec1fc,#c5d4fc,#d6e1fc,#e1e9fc,#e8eefd,#eef2fd,#f5f8fe,#fefdfd,#fef8f5,#fdf3ed,#fdf0e8,#fdeee6,#fdede4,#fdeae0,#fde2d6,#fdd5c7,#ffc4b5,#ffb1a2,#ff9986,#ff8470,#ff7461,#ff6756,#ff6150,#ff6151,#ff6655,#ff6f5c,#ff7966,#ff8470,#ff917d,#ffa18f,#ffb3a4,#ffc4b5,#fdd4c6,#fde2d6,#fdebe1,#fdefe6,#fdf0e8,#fdefe7,#fdefe7,#fdf0e8,#fdf1ea,#fdf2ec,#fdf3ed,#fdf2ec,#fdf1ea,#fdefe7,#fdede4,#fdebe1,#fde9df,#fde9de 380px,#fde9df 383px)"></i><i style="background:linear-gradient(90deg,#d2defc,#cddbfc,#c4d4fc,#c4d4fc,#c7d6fc,#c9d8fc,#c5d4fc,#b5c7fc,#92a6fa,#5865ff,#1413ff,#1b00ab,#22006b,#220056,#210051,#210050,#210054,#22005d,#21007c,#1800bf,#0f0dff,#383fff,#505bff,#5b68ff,#6372ff,#7283fc,#899dfa,#a5b9fb,#bdcefc,#cfdcfc,#dbe5fc,#e3eafc,#e9effd,#f0f4fd,#f9fafe,#fefcfb,#fef7f4,#fdf4ee,#fdf1e9,#fdeee5,#fde9df,#fde3d7,#fdd9cb,#feccbd,#ffbfb0,#ffb0a0,#ff9d8b,#ff8d79,#ff816d,#ff7a66,#ff7a66,#ff7f6b,#ff8773,#ff927e,#ff9f8d,#ffad9d,#ffbaab,#ffc5b6,#fed2c3,#fdded0,#fde6db,#fdece3,#fdefe7,#fdf0e8,#fdf0e8,#fdf0e9,#fdf1ea,#fdf2ec,#fdf3ed,#fdf3ec,#fdf2eb,#fdf0e8,#fdede4,#fdeae1,#fde8dd,#fde6db,#fde5da 380px,#fde5da 383px)"></i><i style="background:linear-gradient(90deg,#d4dffc,#cfdcfc,#c6d5fc,#c6d5fc,#c9d8fc,#ccd9fc,#c8d7fc,#b9cbfc,#98acfa,#5d6bff,#1a1bff,#1a00b3,#21006f,#220057,#210051,#210050,#210054,#22005b,#210076,#1a00b1,#0a03f7,#292dff,#424aff,#4f5aff,#5864ff,#6473fe,#7c8efb,#98acfa,#b2c4fc,#c6d5fc,#d3dffc,#dce5fc,#e4ebfd,#ebf0fd,#f4f6fe,#fdfdfe,#fefbf9,#fdf6f2,#fdf2ec,#fdefe6,#fdeae0,#fde4d8,#fddcce,#fdd3c4,#fec8b9,#ffbdae,#ffb1a1,#ffa290,#ff9582,#ff8f7b,#ff8e7a,#ff937f,#ff9b88,#ffa796,#ffb4a4,#ffbeaf,#fec9ba,#fdd3c5,#fddccf,#fde4d8,#fde9df,#fdede5,#fdf0e8,#fdf1e9,#fdf1ea,#fdf2eb,#fdf2ec,#fdf3ed,#fdf3ed,#fdf2ec,#fdf1e9,#fdeee6,#fdebe2,#fde8de,#fde5da,#fde3d7,#fde2d6 380px,#fde2d6 383px)"></i><i style="background:linear-gradient(90deg,#d5e0fc,#d0ddfc,#c7d6fc,#c7d6fc,#cbd9fc,#cedbfc,#cbd9fc,#becefc,#9fb3fb,#6473fe,#2326ff,#1800c0,#210076,#22005a,#210053,#210052,#210054,#22005a,#210073,#1c00a4,#0f02e2,#1818ff,#2f35ff,#3e46ff,#4a54ff,#5764ff,#6b7bfd,#889bfa,#a3b7fb,#b9cafc,#c9d7fc,#d4e0fc,#dee6fc,#e6ecfd,#eff3fd,#f8fafe,#fefdfd,#fef9f6,#fdf4ef,#fdf0e8,#fdebe1,#fde5da,#fde0d2,#fdd8ca,#fed0c1,#ffc7b8,#ffbdae,#ffb3a3,#ffa796,#ffa18f,#ffa08e,#ffa493,#ffad9c,#ffb7a8,#ffc0b1,#fecabb,#fdd4c6,#fdddd0,#fde4d8,#fde9de,#fdece3,#fdefe7,#fdf1ea,#fdf2eb,#fdf3ec,#fdf3ed,#fdf3ee,#fdf3ee,#fdf3ed,#fdf2eb,#fdf0e8,#fdede4,#fde9df,#fde6db,#fde3d7,#fde1d4,#fde0d3 380px,#fde0d2 383px)"></i><i style="background:linear-gradient(90deg,#d6e1fc,#d1ddfc,#c8d7fc,#c8d7fc,#cddafc,#d0ddfc,#cedbfc,#c3d2fc,#a6bafb,#6f80fd,#2f34ff,#1301d3,#200082,#220060,#220057,#210054,#220056,#22005b,#210070,#1d0098,#1400cd,#0a05fb,#1c1eff,#2b30ff,#383fff,#4953ff,#5b69ff,#7587fc,#92a6fa,#abbffc,#bdcefc,#cbd9fc,#d7e1fc,#e1e9fc,#ebf0fd,#f4f7fe,#fdfdfe,#fefbf9,#fdf6f2,#fdf2eb,#fdede4,#fde7dd,#fde2d6,#fdddcf,#fdd6c8,#fecebf,#ffc5b6,#ffbdae,#ffb6a7,#ffb1a1,#ffb0a0,#ffb3a4,#ffb9aa,#ffc0b1,#fec9ba,#fdd3c5,#fdddcf,#fde4d8,#fde9df,#fdede4,#fdefe7,#fdf1ea,#fdf2ec,#fdf4ee,#fdf4ef,#fdf5f0,#fdf5ef,#fdf4ee,#fdf3ec,#fdf1ea,#fdeee6,#fdebe2,#fde8dd,#fde4d9,#fde1d5,#fddfd1,#fdded0 380px,#fdddcf 383px)"></i><i style="background:linear-gradient(90deg,#d6e1fc,#d1ddfc,#c9d7fc,#c9d8fc,#cddbfc,#d2defc,#d1ddfc,#c7d6fc,#aec1fc,#7b8efb,#3d45ff,#0d02eb,#1d0098,#21006c,#22005b,#220058,#220059,#22005e,#210070,#1e008f,#1900ba,#0e02e4,#0c08fd,#1919ff,#262aff,#373eff,#4d58ff,#6372ff,#8093fa,#9baffb,#b0c3fc,#c2d2fc,#d0dcfc,#dce5fc,#e7edfd,#f0f4fd,#f9fbfe,#fefcfb,#fef8f4,#fdf3ee,#fdefe7,#fdeae0,#fde5da,#fde0d3,#fddbcd,#fdd4c5,#feccbd,#ffc5b6,#ffbfb0,#ffbbac,#ffbbac,#ffbdae,#ffc1b2,#fec8b9,#fed1c2,#fddbcc,#fde3d6,#fde9df,#fdede5,#fdf0e8,#fdf2eb,#fdf3ed,#fdf4ef,#fdf6f1,#fdf6f2,#fdf6f2,#fdf6f1,#fdf5ef,#fdf3ec,#fdf0e9,#fdede4,#fdeae0,#fde6db,#fde3d6,#fde0d2,#fdddcf,#fddbcd 380px,#fddacc 383px)"></i><i style="background:linear-gradient(90deg,#d5e0fc,#d0ddfc,#c9d7fc,#c9d8fc,#cedbfc,#d3dffc,#d4dffc,#cbd9fc,#b5c7fc,#889cfa,#4c57ff,#0e0bfe,#1a00b4,#20007d,#220068,#22005f,#22005f,#220065,#210073,#1f008a,#1b00ad,#1500cd,#0d02e8,#0a05fb,#1615ff,#272bff,#3e45ff,#5561ff,#6e7ffd,#8b9ffa,#a4b8fb,#b8cafc,#c9d7fc,#d7e1fc,#e3eafc,#edf2fd,#f6f8fe,#fefefe,#fefaf7,#fdf6f1,#fdf1ea,#fdede4,#fde8dd,#fde3d7,#fdded0,#fdd8ca,#fed1c3,#fecbbd,#ffc7b8,#ffc4b5,#ffc3b4,#ffc5b6,#fec9ba,#fecfc0,#fdd7c9,#fde0d2,#fde7dc,#fdede4,#fdf0e9,#fdf2ec,#fdf4ee,#fdf5f0,#fdf7f3,#fef8f4,#fef9f5,#fef8f5,#fef7f3,#fdf5f0,#fdf3ec,#fdf0e8,#fdece3,#fde8de,#fde5d9,#fde1d4,#fdded0,#fddbcd,#fdd9ca 380px,#fdd8c9 383px)"></i><i style="background:linear-gradient(90deg,#d4dffc,#cfdcfc,#c8d7fc,#c9d8fc,#cedbfc,#d4dffc,#d5e0fc,#cfdcfc,#bccdfc,#95a9fa,#5b68ff,#2225ff,#1201d7,#1d009c,#21007b,#21006f,#21006c,#21006f,#210078,#1f008a,#1c00a3,#1900ba,#1401d1,#0e02e6,#0a05fb,#1818ff,#2f34ff,#4953ff,#606eff,#7d8ffb,#98acfb,#afc2fc,#c2d2fc,#d2defc,#dfe7fc,#eaeffd,#f3f6fe,#fcfcfe,#fefcfa,#fef8f4,#fdf4ee,#fdf0e8,#fdebe1,#fde6da,#fde1d4,#fddbcd,#fdd6c8,#fed1c3,#fecebf,#feccbd,#fecbbc,#fecdbe,#fed0c1,#fdd5c7,#fdddcf,#fde4d8,#fdeae0,#fdf0e8,#fdf3ec,#fdf5f0,#fdf6f2,#fef8f4,#fef9f7,#fefaf8,#fefbf9,#fefaf8,#fef8f5,#fdf6f1,#fdf3ec,#fdefe7,#fdebe2,#fde7dc,#fde3d7,#fddfd2,#fddcce,#fdd9ca,#fdd6c8 380px,#fdd5c6 383px)"></i><i style="background:linear-gradient(90deg,#d2defc,#cedbfc,#c8d7fc,#c9d7fc,#cedbfc,#d4dffc,#d6e1fc,#d2defc,#c2d2fc,#a2b6fb,#6d7dfd,#3a42ff,#0c08fa,#1600c5,#1c00a0,#1f0089,#20007f,#20007e,#200082,#1e008f,#1c009e,#1a00ae,#1800bf,#1301d2,#0d02e9,#0c09ff,#2325ff,#3d45ff,#5764ff,#7283fc,#8fa3fa,#a8bcfb,#bccdfc,#cddafc,#dae4fc,#e6ecfd,#eff3fd,#f8f9fe,#fefefe,#fefaf8,#fdf6f1,#fdf2eb,#fdede4,#fde8dd,#fde3d7,#fdded1,#fddacc,#fdd7c8,#fdd4c6,#fdd3c4,#fed2c4,#fdd4c5,#fdd7c8,#fddbcd,#fde1d4,#fde7dd,#fdede5,#fdf2eb,#fdf5f0,#fef7f4,#fef9f6,#fefbf9,#fefcfb,#fefdfc,#fefdfc,#fefcfb,#fefaf7,#fdf7f3,#fdf3ed,#fdefe7,#fdebe1,#fde6db,#fde2d5,#fdded0,#fddacb,#fdd6c8,#fdd3c4 380px,#fed1c3 383px)"></i><i style="background:linear-gradient(90deg,#cfdcfc,#ccdafc,#c7d6fc,#c8d7fc,#cedbfc,#d3dffc,#d6e1fc,#d4dffc,#c8d7fc,#aec1fc,#8295fa,#535fff,#272bff,#0c06f4,#1401cf,#1900b5,#1c00a5,#1d009c,#1d0098,#1d009a,#1c009f,#1b00a8,#1a00b3,#1700c3,#1101da,#0a03f6,#1a1aff,#353cff,#515dff,#6b7bfd,#899dfa,#a3b7fb,#b8c9fc,#c8d7fc,#d6e1fc,#e1e9fc,#eaf0fd,#f3f6fe,#fbfcfe,#fefcfb,#fef8f5,#fdf4ee,#fdefe7,#fdeae0,#fde5da,#fde1d4,#fdded0,#fddbcd,#fdd9cb,#fdd9ca,#fdd9cb,#fddacc,#fdddcf,#fde1d4,#fde6da,#fdebe2,#fdf1e9,#fdf5ef,#fef8f4,#fefaf8,#fefcfb,#fefefd,#fdfdfe,#fcfdfe,#fdfdfe,#fefefe,#fefbfa,#fef8f4,#fdf4ee,#fdf0e8,#fdeae1,#fde5da,#fde1d4,#fddcce,#fdd7c9,#fdd3c5,#fed0c1 380px,#fecebf 383px)"></i><i style="background:linear-gradient(90deg,#cddafc,#cad8fc,#c6d5fc,#c8d7fc,#cddafc,#d3defc,#d6e1fc,#d5e0fc,#ccdafc,#b8cafc,#97abfa,#6c7dfd,#4953ff,#272bff,#110efb,#0d02ea,#1301d3,#1700c0,#1a00b3,#1b00aa,#1b00a5,#1b00a6,#1b00ac,#1900b9,#1401ce,#0d02eb,#1312ff,#3035ff,#4e59ff,#6878fe,#869afa,#9fb3fb,#b4c6fc,#c4d4fc,#d1ddfc,#dce5fc,#e5ecfd,#eef2fd,#f6f8fe,#fefefe,#fefaf8,#fdf6f1,#fdf1ea,#fdede4,#fde8dd,#fde4d8,#fde1d5,#fddfd2,#fdded1,#fdded0,#fdded1,#fde0d2,#fde2d5,#fde5da,#fdeae0,#fdefe7,#fdf4ee,#fef8f4,#fefbf9,#fefdfd,#fdfdfe,#fafbfe,#f8fafe,#f8f9fe,#f9fafe,#fcfdfe,#fefdfc,#fef9f6,#fdf5f0,#fdf0e8,#fdeae1,#fde5d9,#fddfd2,#fddacc,#fdd4c6,#fed0c1,#feccbe 380px,#fecbbc 383px)"></i><i style="background:linear-gradient(90deg,#cad9fc,#c8d7fc,#c6d5fc,#c8d7fc,#cddafc,#d2defc,#d6e1fc,#d6e1fc,#d0dcfc,#c2d2fc,#abbefc,#8b9ffa,#6978fe,#4e59ff,#363dff,#2123ff,#100dfc,#0c02ed,#1301d3,#1800bd,#1a00af,#1b00a8,#1b00a9,#1a00b3,#1700c5,#0f02e3,#0f0dff,#2d32ff,#4d58ff,#6877fe,#8699fa,#9eb2fb,#b1c4fc,#c0d0fc,#ccdafc,#d7e1fc,#e0e8fc,#e9effd,#f2f5fe,#fbfcfe,#fefcfa,#fef7f4,#fdf3ed,#fdefe7,#fdebe1,#fde7dd,#fde5d9,#fde3d7,#fde2d6,#fde2d6,#fde3d6,#fde4d8,#fde7dc,#fdeae0,#fdeee6,#fdf3ec,#fdf7f2,#fefaf8,#fefefd,#fbfcfe,#f7f9fe,#f5f7fe,#f3f6fe,#f3f6fe,#f5f8fe,#f9fafe,#fefefe,#fefaf8,#fdf6f1,#fdf1e9,#fdebe1,#fde5d9,#fdded1,#fdd8ca,#fed2c4,#fecdbe,#fec9bb 380px,#fec8b9 383px)"></i><i style="background:linear-gradient(90deg,#c8d7fc,#c7d6fc,#c6d5fc,#c8d7fc,#cddafc,#d1defc,#d5e0fc,#d6e1fc,#d3dffc,#cbd9fc,#bbccfc,#a7bafb,#8ea1fa,#7385fc,#5d6aff,#4952ff,#3238ff,#1a1bff,#0b04f6,#1201d6,#1900bc,#1a00ad,#1b00a9,#1a00af,#1800bf,#1001dd,#0c0aff,#2c31ff,#4e59ff,#6a79fe,#879bfa,#9eb2fb,#afc2fc,#bdcefc,#c8d7fc,#d2defc,#dbe5fc,#e5ebfd,#eef2fd,#f7f9fe,#fefefd,#fef9f6,#fdf5f0,#fdf1ea,#fdeee6,#fdebe2,#fde9de,#fde7dc,#fde6db,#fde6db,#fde7dc,#fde9de,#fdebe2,#fdeee6,#fdf2eb,#fdf6f1,#fef9f7,#fefdfc,#fbfcfe,#f6f8fe,#f2f5fe,#f0f4fd,#eff3fd,#f0f3fd,#f2f5fe,#f6f9fe,#fdfdfe,#fefbfa,#fdf7f3,#fdf2eb,#fdebe2,#fde5d9,#fdded0,#fdd7c8,#fed0c2,#fecbbc,#ffc7b8 380px,#ffc6b7 383px)"></i><i style="background:linear-gradient(90deg,#c8d7fc,#c7d6fc,#c7d6fc,#cad8fc,#cddbfc,#d2defc,#d5e0fc,#d7e2fc,#d6e1fc,#d2defc,#cad8fc,#becefc,#aec1fc,#9baffb,#8598fb,#6c7dfd,#5561ff,#3a41ff,#1b1cff,#0b03f0,#1500cd,#1a00b5,#1b00ac,#1a00ae,#1900bc,#1101da,#0b08ff,#2d32ff,#505bff,#6d7efd,#8a9efa,#9fb3fb,#afc2fc,#bbccfc,#c5d5fc,#cfdcfc,#d8e2fc,#e1e9fc,#ebf0fd,#f4f7fe,#fdfefe,#fefbf9,#fef7f3,#fdf4ee,#fdf1ea,#fdefe7,#fdede4,#fdebe2,#fdeae0,#fdeae0,#fdebe1,#fdede4,#fdefe7,#fdf2eb,#fdf5f0,#fef8f5,#fefcfa,#fdfdfe,#f7f9fe,#f2f5fe,#eef2fd,#ecf1fd,#ebf0fd,#edf1fd,#f0f4fd,#f4f7fe,#fbfcfe,#fefcfb,#fef8f4,#fdf2ec,#fdece3,#fde5d9,#fdded0,#fdd6c8,#fecfc0,#fec9ba,#ffc6b7 380px,#ffc4b5 383px)"></i><i style="background:linear-gradient(90deg,#c8d7fc,#c8d7fc,#c9d8fc,#ccd9fc,#cfdcfc,#d2defc,#d6e1fc,#d8e3fc,#d9e3fc,#d9e3fc,#d5e0fc,#cfdcfc,#c6d5fc,#bacbfc,#a9bdfc,#92a6fa,#7485fc,#5561ff,#3238ff,#0f0dff,#1002de,#1800be,#1a00b0,#1a00ae,#1900ba,#1201d8,#0b08ff,#2e33ff,#535eff,#7283fc,#8ea2fa,#a1b5fb,#afc2fc,#b9cbfc,#c3d3fc,#ccdafc,#d5e0fc,#dfe7fc,#e9eefd,#f2f5fe,#fbfcfe,#fefdfb,#fef9f7,#fdf7f3,#fdf5ef,#fdf3ec,#fdf1ea,#fdf0e8,#fdefe6,#fdeee6,#fdefe7,#fdf0e9,#fdf2ec,#fdf5ef,#fef7f4,#fefbf8,#fefefe,#fafbfe,#f4f7fe,#eff3fd,#ebf0fd,#e9effd,#e9effd,#ebf0fd,#eef3fd,#f3f6fe,#fafbfe,#fefdfc,#fef8f5,#fdf3ed,#fdede4,#fde5da,#fdded0,#fdd6c8,#fecfc0,#fec9ba,#ffc5b6 380px,#ffc4b5 383px)"></i><i style="background:linear-gradient(90deg,#cbd9fc,#cbd9fc,#cddafc,#cfdcfc,#d2defc,#d5e0fc,#d8e2fc,#dae4fc,#dce5fc,#dee6fc,#dee7fc,#dce5fc,#d7e2fc,#cfdcfc,#c2d2fc,#aec1fc,#91a5fa,#6b7bfd,#4750ff,#1f20ff,#0c03ef,#1500c9,#1a00b5,#1a00b0,#1900ba,#1201d7,#0b08ff,#3036ff,#5662ff,#7789fc,#92a6fa,#a4b8fb,#b0c3fc,#b9cafc,#c2d2fc,#ccd9fc,#d5e0fc,#dee7fc,#e8edfd,#f0f4fd,#f8fafe,#fefefe,#fefcfa,#fefaf7,#fef8f5,#fdf7f2,#fdf5f0,#fdf4ee,#fdf3ed,#fdf2ec,#fdf3ec,#fdf3ee,#fdf5f0,#fdf7f3,#fef9f7,#fefcfb,#fdfefe,#f7f9fe,#f2f5fe,#edf2fd,#eaeffd,#e8eefd,#e8eefd,#eaf0fd,#eef2fd,#f3f6fe,#f9fbfe,#fefdfd,#fef9f6,#fdf4ee,#fdeee5,#fde6db,#fddfd1,#fdd7c9,#fed0c1,#fecabb,#ffc6b7 380px,#ffc5b6 383px)"></i><i style="background:linear-gradient(90deg,#cfdcfc,#cfdcfc,#d1ddfc,#d3dffc,#d5e0fc,#d8e2fc,#dae4fc,#dde6fc,#dfe8fc,#e2e9fc,#e4ebfd,#e4ebfd,#e2e9fc,#dce5fc,#d1ddfc,#c0d0fc,#a6bafb,#8093fa,#5562ff,#2c31ff,#0904fd,#1301d4,#1900bb,#1a00b3,#1900bb,#1201d7,#0c09ff,#3339ff,#5966ff,#7c8ffb,#97abfa,#a7bbfb,#b1c4fc,#bacbfc,#c3d3fc,#ccdafc,#d6e1fc,#dfe7fc,#e7edfd,#eff3fd,#f5f8fe,#fafbfe,#fdfefe,#fefdfd,#fefcfb,#fefbf9,#fefaf7,#fef8f5,#fef7f3,#fdf6f2,#fdf6f2,#fdf7f2,#fef7f4,#fef9f6,#fefbf9,#fefdfd,#fcfcfe,#f7f9fe,#f2f5fe,#edf2fd,#eaeffd,#e8eefd,#e9eefd,#ebf0fd,#eff3fd,#f4f6fe,#f9fbfe,#fefefd,#fef9f6,#fdf4ef,#fdefe6,#fde7dd,#fde0d3,#fdd9cb,#fed2c3,#feccbe,#fec9ba 380px,#ffc8b9 383px)"></i><i style="background:linear-gradient(90deg,#d5e0fc,#d5e0fc,#d6e1fc,#d8e2fc,#dae4fc,#dce5fc,#dee6fc,#e0e8fc,#e3eafc,#e5ecfd,#e8eefd,#e9effd,#e8eefd,#e4ebfd,#dae4fc,#cbd9fc,#b3c6fc,#8fa3fa,#606fff,#383fff,#110fff,#1002df,#1700c2,#1900b7,#1900bd,#1101d8,#0d0bff,#363cff,#5c6aff,#8295fa,#9baffb,#aabefc,#b3c5fc,#bbccfc,#c4d4fc,#cedbfc,#d7e2fc,#e0e8fc,#e7edfd,#edf2fd,#f2f5fe,#f5f8fe,#f8f9fe,#f9fbfe,#fbfcfe,#fcfdfe,#fdfdfd,#fefdfc,#fefcfa,#fefbf9,#fefaf8,#fefaf7,#fefaf7,#fefbf9,#fefcfb,#fefefe,#fbfcfe,#f6f9fe,#f2f5fe,#eef2fd,#ebf0fd,#eaeffd,#eaeffd,#ecf1fd,#f0f4fd,#f5f7fe,#fafbfe,#fefdfd,#fef9f7,#fdf5f0,#fdf0e8,#fde9df,#fde2d6,#fddcce,#fdd5c7,#fed0c1,#feccbe 380px,#fecbbc 383px)"></i><i style="background:linear-gradient(90deg,#dbe4fc,#dbe5fc,#dce5fc,#dde6fc,#dfe7fc,#e0e8fc,#e2e9fc,#e4ebfd,#e5ecfd,#e8eefd,#eaeffd,#ebf0fd,#eaeffd,#e7edfd,#dfe7fc,#d1ddfc,#bccdfc,#9aaefb,#6b7bfd,#424bff,#1919ff,#0d02e9,#1500c9,#1900bb,#1800c0,#1101db,#100eff,#3940ff,#606eff,#879bfa,#9fb3fb,#adc0fc,#b5c7fc,#bccdfc,#c5d4fc,#cedbfc,#d8e2fc,#dfe8fc,#e5ecfd,#e9effd,#ecf1fd,#eff3fd,#f0f4fd,#f1f5fe,#f3f6fe,#f4f7fe,#f6f8fe,#f8fafe,#fbfcfe,#fcfdfe,#fefefd,#fefdfc,#fefcfb,#fefcfb,#fefdfc,#fefefe,#fbfcfe,#f7f9fe,#f3f6fe,#eff3fd,#ecf1fd,#ebf0fd,#ecf1fd,#eef2fd,#f1f5fe,#f5f8fe,#fbfcfe,#fefdfd,#fefaf7,#fdf5f0,#fdf1e9,#fdebe1,#fde5d9,#fddfd1,#fdd9cb,#fdd4c6,#fed1c2 380px,#fed0c1 383px)"></i><i style="background:linear-gradient(90deg,#e1e9fc,#e1e9fc,#e2e9fc,#e3eafc,#e4ebfd,#e5ebfd,#e6ecfd,#e7edfd,#e8eefd,#eaeffd,#ebf0fd,#ebf0fd,#eaeffd,#e7edfd,#e0e8fc,#d4e0fc,#c1d1fc,#a1b5fb,#7485fc,#4a54ff,#2022ff,#0b03f2,#1301d1,#1800c1,#1700c5,#1002e0,#1312ff,#3d45ff,#6473fe,#8ca0fa,#a3b7fb,#afc2fc,#b6c8fc,#bccdfc,#c5d4fc,#cedbfc,#d6e1fc,#dde6fc,#e1e9fc,#e4ebfd,#e5ecfd,#e6ecfd,#e7edfd,#e9eefd,#eaf0fd,#ecf1fd,#eef2fd,#f0f4fd,#f2f5fe,#f5f8fe,#f9fafe,#fcfcfe,#fefefe,#fefefe,#fefefe,#fdfdfe,#fafbfe,#f7f9fe,#f3f6fe,#f0f4fd,#eef2fd,#edf1fd,#edf2fd,#eff3fd,#f2f5fe,#f6f8fe,#fbfcfe,#fefefd,#fefaf8,#fdf6f1,#fdf2eb,#fdede4,#fde7dd,#fde2d6,#fdded0,#fdd9cb,#fdd6c8 380px,#fdd5c6 383px)"></i><i style="background:linear-gradient(90deg,#e7edfd,#e7edfd,#e7edfd,#e8eefd,#e8eefd,#e9effd,#eaeffd,#eaf0fd,#ebf0fd,#ebf0fd,#ebf0fd,#eaeffd,#e8eefd,#e5ecfd,#e0e8fc,#d6e1fc,#c4d4fc,#a7bbfb,#7a8cfb,#4f5aff,#2528ff,#0903f9,#1201d7,#1600c7,#1500cb,#0e02e6,#1818ff,#424bff,#6979fe,#90a4fa,#a6bafb,#b1c4fc,#b6c8fc,#bbccfc,#c2d2fc,#cad9fc,#d2defc,#d7e1fc,#d9e3fc,#dae4fc,#dae4fc,#dbe4fc,#dde6fc,#dfe7fc,#e2e9fc,#e4ebfd,#e6edfd,#e8eefd,#eaf0fd,#edf2fd,#f2f5fe,#f6f8fe,#fafbfe,#fcfcfe,#fcfdfe,#fbfcfe,#f9fbfe,#f7f9fe,#f4f6fe,#f1f4fd,#eff3fd,#eef2fd,#eef2fd,#eff3fd,#f1f5fe,#f5f8fe,#fafbfe,#fefefe,#fefbf9,#fef7f3,#fdf3ed,#fdefe7,#fdeae0,#fde6da,#fde1d5,#fdded0,#fddbcd 380px,#fddacc 383px)"></i><i style="background:linear-gradient(90deg,#ecf1fd,#ecf1fd,#ecf1fd,#ecf1fd,#ecf1fd,#edf1fd,#edf2fd,#edf2fd,#edf2fd,#ecf1fd,#ebf0fd,#e9effd,#e6edfd,#e4ebfd,#e0e8fc,#d7e2fc,#c8d7fc,#acbffc,#7f92fb,#525eff,#282cff,#0803fe,#1001dd,#1401ce,#1301d3,#0c03ef,#1e1fff,#4852ff,#6f80fd,#94a8fa,#a9bdfb,#b2c4fc,#b5c7fc,#b8c9fc,#bdcefc,#c3d3fc,#c9d7fc,#ccdafc,#cddafc,#ccd9fc,#cbd9fc,#cddafc,#d0ddfc,#d5e0fc,#dae3fc,#dde6fc,#e0e8fc,#e2e9fc,#e4ebfd,#e7edfd,#ebf0fd,#f0f4fd,#f4f7fe,#f7f9fe,#f9fafe,#f9fafe,#f7f9fe,#f5f8fe,#f3f6fe,#f0f4fd,#eef3fd,#edf2fd,#edf1fd,#eef2fd,#f0f4fd,#f3f6fe,#f7f9fe,#fdfdfe,#fefcfb,#fef8f5,#fdf5f0,#fdf1ea,#fdede4,#fde9df,#fde5da,#fde2d6,#fde0d3 380px,#fddfd1 383px)"></i><i style="background:linear-gradient(90deg,#f0f4fd,#f0f4fd,#eff3fd,#eff3fd,#eff3fd,#f0f3fd,#f0f4fd,#f0f4fd,#eff3fd,#eef2fd,#ebf0fd,#e9eefd,#e6ecfd,#e3eafc,#e0e8fc,#dae4fc,#cbd9fc,#b0c3fc,#8498fa,#5561ff,#2a2eff,#0905ff,#0f02e1,#1201d5,#1001dc,#0903f9,#2528ff,#4e59ff,#7587fc,#98acfb,#abbffc,#b1c4fc,#b2c5fc,#b2c5fc,#b5c7fc,#b8c9fc,#baccfc,#bbccfc,#bacbfc,#b8c9fc,#b7c9fc,#baccfc,#c1d1fc,#cad8fc,#d2defc,#d8e2fc,#dbe4fc,#dce5fc,#dee6fc,#e0e8fc,#e4ebfd,#e9effd,#eef2fd,#f2f5fe,#f4f7fe,#f5f7fe,#f4f7fe,#f3f6fe,#f1f4fd,#eff3fd,#ecf1fd,#ebf0fd,#eaeffd,#ebf0fd,#ecf1fd,#eff3fd,#f4f7fe,#f9fbfe,#fefefd,#fefaf8,#fdf7f3,#fdf3ee,#fdf0e8,#fdede4,#fde9df,#fde6db,#fde4d8 380px,#fde3d6 383px)"></i><i style="background:linear-gradient(90deg,#f3f6fe,#f2f5fe,#f1f5fe,#f1f4fd,#f1f5fe,#f2f5fe,#f2f5fe,#f2f5fe,#f1f5fe,#eff3fd,#ecf1fd,#e9eefd,#e6ecfd,#e4ebfd,#e3eafc,#dde6fc,#d0ddfc,#b5c7fc,#889cfa,#5662ff,#2a2fff,#0905ff,#0e02e4,#1101db,#0e02e6,#0c09ff,#2d32ff,#5561ff,#7c8efb,#9cb0fb,#acbffc,#b0c3fc,#aec1fc,#abbffc,#a9bdfc,#a8bcfb,#a7bafb,#a4b8fb,#a0b4fb,#9eb2fb,#9eb2fb,#a4b8fb,#b0c3fc,#bdcefc,#cad8fc,#d2defc,#d7e1fc,#d8e2fc,#d9e3fc,#dae4fc,#dee7fc,#e3eafc,#e7edfd,#ecf0fd,#eef3fd,#f0f4fd,#f0f4fd,#eff3fd,#eef2fd,#ebf0fd,#e9effd,#e7edfd,#e6ecfd,#e6ecfd,#e7edfd,#eaeffd,#eff3fd,#f5f7fe,#fbfcfe,#fefdfc,#fef9f6,#fdf6f1,#fdf3ec,#fdf0e8,#fdede4,#fdeae0,#fde7dd 380px,#fde6db 383px)"></i><i style="background:linear-gradient(90deg,#f4f7fe,#f4f6fe,#f2f6fe,#f2f5fe,#f3f6fe,#f3f6fe,#f4f7fe,#f4f7fe,#f3f6fe,#f1f4fd,#edf2fd,#eaeffd,#e7edfd,#e6ecfd,#e6ecfd,#e2e9fc,#d5e0fc,#bacbfc,#8b9ffa,#5663ff,#292dff,#0804ff,#0e02e6,#0f02e1,#0b03f0,#1514ff,#363dff,#5b68ff,#8295fa,#9fb3fb,#acc0fc,#aec1fc,#a9bdfb,#a2b6fb,#9baffb,#95a9fa,#8fa3fa,#889cfa,#8295fb,#7e91fb,#8093fb,#8a9efa,#9baffb,#afc2fc,#c1d1fc,#cddbfc,#d3dffc,#d4e0fc,#d4e0fc,#d5e0fc,#d7e2fc,#dbe5fc,#e0e8fc,#e4ebfd,#e7edfd,#eaeffd,#ebf0fd,#ebf0fd,#e9effd,#e7edfd,#e5ebfd,#e2eafc,#e0e8fc,#e0e8fc,#e1e9fc,#e4ebfd,#e9eefd,#eff3fd,#f6f8fe,#fdfefe,#fefbfa,#fef8f5,#fdf5f0,#fdf2ec,#fdf0e8,#fdede4,#fdebe1 380px,#fde9df 383px)"></i><i style="background:linear-gradient(90deg,#f5f8fe,#f4f7fe,#f3f6fe,#f3f6fe,#f4f6fe,#f4f7fe,#f5f8fe,#f5f8fe,#f4f7fe,#f2f5fe,#eef3fd,#ebf0fd,#e8eefd,#e8eefd,#e9effd,#e6edfd,#dae4fc,#bfcffc,#8ea2fa,#5662ff,#272bff,#0803fd,#0e02e6,#0e02e6,#0903fa,#1d1eff,#3f47ff,#616fff,#889cfa,#a2b6fb,#acc0fc,#acbffc,#a4b8fb,#99adfb,#8da1fa,#8195fa,#7688fc,#6b7bfd,#6472fe,#606eff,#6271fe,#6e7efd,#8598fa,#9fb3fb,#b7c9fc,#c7d6fc,#cedbfc,#d0ddfc,#cfdcfc,#cfdcfc,#d0dcfc,#d3defc,#d6e1fc,#dbe4fc,#dfe7fc,#e2eafc,#e5ebfd,#e5ecfd,#e4ebfd,#e2eafc,#dfe8fc,#dde6fc,#dae4fc,#d9e3fc,#dae4fc,#dde6fc,#e2eafc,#eaeffd,#f1f5fe,#f9fafe,#fefefd,#fefaf8,#fef7f3,#fdf4ef,#fdf2eb,#fdf0e8,#fdede5 380px,#fdece3 383px)"></i><i style="background:linear-gradient(90deg,#f6f8fe,#f5f7fe,#f4f6fe,#f3f6fe,#f4f7fe,#f5f8fe,#f6f8fe,#f6f9fe,#f6f8fe,#f3f6fe,#f0f3fd,#ecf1fd,#eaeffd,#eaeffd,#ecf1fd,#ebf0fd,#dfe7fc,#c3d2fc,#90a4fa,#5562ff,#2528ff,#0903fa,#0e02e6,#0d02ea,#0906ff,#2427ff,#4750ff,#6777fe,#8ca0fa,#a4b8fb,#acc0fc,#aabefc,#9fb3fb,#90a4fa,#8093fa,#6f80fd,#606fff,#5662ff,#4d58ff,#4852ff,#4b55ff,#5763ff,#6d7dfd,#8da1fa,#abbffc,#bfcffc,#c8d7fc,#cbd9fc,#c9d8fc,#c8d6fc,#c7d6fc,#c9d8fc,#ccdafc,#d0ddfc,#d5e0fc,#dae3fc,#dde6fc,#dfe8fc,#dfe7fc,#dde6fc,#dae4fc,#d7e1fc,#d4dffc,#d2defc,#d3defc,#d6e1fc,#dce5fc,#e4ebfd,#edf1fd,#f5f7fe,#fcfdfe,#fefcfb,#fef9f6,#fdf6f2,#fdf4ee,#fdf2eb,#fdf0e8 380px,#fdeee6 383px)"></i><i style="background:linear-gradient(90deg,#f6f8fe,#f5f7fe,#f4f7fe,#f4f7fe,#f5f7fe,#f6f8fe,#f7f9fe,#f7f9fe,#f7f9fe,#f4f7fe,#f1f4fd,#edf2fd,#ebf0fd,#ecf1fd,#eff3fd,#eef2fd,#e3eafc,#c6d5fc,#91a5fa,#5561ff,#2325ff,#0a03f6,#0e02e5,#0c02ec,#0d0bff,#292dff,#4c56ff,#6d7dfd,#90a4fa,#a6bafb,#acc0fc,#a8bcfb,#9baffb,#899dfa,#7587fc,#6170ff,#535eff,#444dff,#383eff,#3137ff,#343aff,#424bff,#5966ff,#7a8cfb,#9cb0fb,#b4c6fc,#bfd0fc,#c3d2fc,#c1d1fc,#becffc,#bdcefc,#bdcefc,#bfd0fc,#c4d3fc,#cad8fc,#d0ddfc,#d6e1fc,#d9e3fc,#d9e3fc,#d8e2fc,#d5e0fc,#d1ddfc,#cedbfc,#ccd9fc,#ccdafc,#cfdcfc,#d6e1fc,#dfe7fc,#e9eefd,#f2f5fe,#f9fbfe,#fefefd,#fefbf9,#fef8f5,#fdf6f1,#fdf3ed,#fdf1ea 380px,#fdf0e8 383px)"></i><i style="background:linear-gradient(90deg,#f6f8fe,#f5f8fe,#f4f7fe,#f4f7fe,#f5f7fe,#f6f8fe,#f7f9fe,#f8fafe,#f7f9fe,#f5f8fe,#f2f5fe,#eef3fd,#edf1fd,#eef2fd,#f2f5fe,#f1f4fd,#e5ecfd,#c7d6fc,#92a6fa,#545fff,#2123ff,#0a03f3,#0f02e3,#0c02ec,#0f0cff,#2b30ff,#4e59ff,#6f80fd,#92a6fa,#a7bbfb,#adc0fc,#a7bbfb,#99adfb,#8599fa,#6f7ffd,#5b68ff,#4a54ff,#373eff,#282cff,#2022ff,#2022ff,#2d32ff,#4852ff,#6574fe,#8a9efa,#a5b9fb,#b3c5fc,#b7c9fc,#b6c8fc,#b3c6fc,#b1c3fc,#afc2fc,#b1c4fc,#b5c7fc,#bdcefc,#c6d5fc,#cddbfc,#d2defc,#d4dffc,#d3defc,#d0dcfc,#ccdafc,#c8d7fc,#c6d5fc,#c6d5fc,#cad8fc,#d2defc,#dbe5fc,#e6ecfd,#eff3fd,#f7f9fe,#fefefe,#fefcfa,#fef9f6,#fdf7f3,#fdf5ef,#fdf2ec 380px,#fdf1ea 383px)"></i><i style="background:linear-gradient(90deg,#f6f8fe,#f6f8fe,#f5f7fe,#f5f7fe,#f6f8fe,#f7f9fe,#f8fafe,#f8fafe,#f8f9fe,#f6f8fe,#f2f5fe,#eff3fd,#eef2fd,#eff3fd,#f3f6fe,#f2f5fe,#e6ecfd,#c8d7fc,#91a5fa,#535fff,#1f21ff,#0b03f1,#0f02e1,#0d02ea,#0e0bff,#2b2fff,#4e59ff,#6f80fd,#92a6fa,#a7bbfb,#adc0fc,#a7bbfb,#99adfb,#8599fa,#6e7efd,#5966ff,#4650ff,#3137ff,#1f21ff,#1413ff,#1210ff,#1d1eff,#353bff,#5460ff,#7486fc,#92a6fa,#a2b6fb,#a8bcfb,#a8bcfb,#a5b9fb,#a1b5fb,#9fb3fb,#9fb3fb,#a5b9fb,#afc2fc,#bacbfc,#c4d4fc,#ccd9fc,#cfdcfc,#cedbfc,#ccd9fc,#c8d7fc,#c4d4fc,#c1d1fc,#c2d2fc,#c6d5fc,#cedbfc,#d9e3fc,#e5ebfd,#eff3fd,#f7f9fe,#fdfdfe,#fefcfb,#fefaf8,#fef8f4,#fdf6f1,#fdf3ed 380px,#fdf2eb 383px)"></i><i style="background:linear-gradient(90deg,#f7f9fe,#f6f8fe,#f5f8fe,#f5f8fe,#f6f8fe,#f7f9fe,#f8fafe,#f9fafe,#f8fafe,#f6f8fe,#f3f6fe,#f0f3fd,#eef2fd,#f0f4fd,#f3f6fe,#f2f5fe,#e6ecfd,#c7d6fc,#91a5fa,#525eff,#1f20ff,#0b03f0,#1002de,#0e02e7,#0b08ff,#282cff,#4c56ff,#6d7efd,#91a5fa,#a7bbfb,#aec1fc,#a9bdfb,#9baffb,#889cfa,#7182fd,#5c69ff,#4953ff,#3237ff,#1d1eff,#0e0bff,#0904fd,#0f0cff,#2326ff,#424aff,#5e6cff,#7a8cfb,#8ca0fa,#94a8fa,#96aafa,#93a7fa,#8fa3fa,#8b9ffa,#8c9ffa,#92a6fa,#9eb2fb,#adc1fc,#bbccfc,#c5d4fc,#cad8fc,#cad9fc,#c8d7fc,#c5d4fc,#c1d1fc,#becffc,#becffc,#c3d3fc,#ccdafc,#d8e2fc,#e4ebfd,#eff3fd,#f7f9fe,#fdfdfe,#fefdfc,#fefbf9,#fef9f6,#fdf6f2,#fdf4ee 380px,#fdf2eb 383px)"></i><i style="background:linear-gradient(90deg,#f7f9fe,#f7f9fe,#f6f8fe,#f6f8fe,#f7f9fe,#f8fafe,#f9fafe,#f9fafe,#f8fafe,#f6f8fe,#f3f6fe,#f0f4fd,#eef3fd,#f0f3fd,#f2f5fe,#f1f4fd,#e4ebfd,#c6d5fc,#90a4fa,#525eff,#1f21ff,#0b03f0,#1001dd,#0e02e4,#0804fe,#2427ff,#4852ff,#6a7afe,#8fa3fa,#a7bbfb,#afc2fc,#abbffc,#9eb2fb,#8da1fa,#788afc,#6270ff,#4f5aff,#373eff,#1f21ff,#0c09ff,#0a03f5,#0903f9,#1413ff,#2e33ff,#4b55ff,#616fff,#7384fc,#7e91fb,#8194fa,#7f92fb,#7b8dfb,#7688fc,#7688fc,#7d90fb,#8da1fa,#a0b4fb,#b2c4fc,#becffc,#c5d5fc,#c7d6fc,#c6d5fc,#c2d2fc,#becffc,#bccdfc,#bccdfc,#c1d1fc,#ccd9fc,#d8e2fc,#e5ecfd,#f0f4fd,#f8fafe,#fefefe,#fefdfc,#fefbf9,#fef9f6,#fdf7f3,#fdf4ef 380px,#fdf2eb 383px)"></i><i style="background:linear-gradient(90deg,#f8fafe,#f8f9fe,#f7f9fe,#f7f9fe,#f8fafe,#f8fafe,#f9fafe,#f9fafe,#f8fafe,#f6f8fe,#f3f6fe,#f0f4fd,#eef3fd,#eff3fd,#f1f5fe,#eff3fd,#e2e9fc,#c4d4fc,#8fa3fa,#535fff,#2123ff,#0b03f1,#1001dd,#0f02e1,#0903f9,#1f21ff,#444dff,#6676fe,#8ea2fa,#a7bbfb,#b0c3fc,#aec1fc,#a3b7fb,#94a8fa,#8295fa,#6d7dfd,#5865ff,#414aff,#2529ff,#0e0bff,#0b03f1,#0c02ed,#0905fc,#1c1dff,#353cff,#4d57ff,#5b69ff,#6575fe,#6a7afe,#6a7afe,#6675fe,#6271ff,#6270ff,#6978fe,#7b8dfb,#92a6fa,#a8bcfb,#b8c9fc,#c1d1fc,#c4d4fc,#c4d3fc,#c1d1fc,#bdcefc,#baccfc,#bbccfc,#c1d1fc,#ccdafc,#d9e3fc,#e7edfd,#f2f5fe,#fafbfe,#fefefe,#fefcfb,#fefbf9,#fef9f6,#fef7f3,#fdf4ef 380px,#fdf2eb 383px)"></i><i style="background:linear-gradient(90deg,#f9fafe,#f9fafe,#f8fafe,#f8fafe,#f9fafe,#f9fbfe,#f9fbfe,#f9fafe,#f8f9fe,#f5f8fe,#f3f6fe,#f0f4fd,#eef2fd,#eef3fd,#f0f3fd,#ecf1fd,#dfe7fc,#c2d2fc,#8ea2fa,#5460ff,#2326ff,#0a03f5,#1002df,#0f02e0,#0a03f5,#1c1cff,#4048ff,#6372ff,#8ca0fa,#a8bcfb,#b2c4fc,#b1c4fc,#a9bdfb,#9cb0fb,#8ea2fa,#7b8efb,#6574fe,#4e58ff,#2f34ff,#1312ff,#0b03f1,#0e02e5,#0c02ee,#0c09fe,#2023ff,#353cff,#4750ff,#525dff,#5764ff,#5865ff,#5561ff,#525dff,#525dff,#5965ff,#6979fe,#8497fa,#9eb2fb,#b1c4fc,#bdcdfc,#c2d2fc,#c2d2fc,#c0d0fc,#bccdfc,#bacbfc,#bbccfc,#c1d1fc,#cddafc,#dbe4fc,#e9effd,#f5f7fe,#fcfdfe,#fefdfc,#fefcfa,#fefaf8,#fef9f6,#fef7f4,#fdf4ef 380px,#fdf2eb 383px)"></i><i style="background:linear-gradient(90deg,#fafbfe,#fafbfe,#f9fbfe,#fafbfe,#fafbfe,#fafbfe,#f9fbfe,#f9fafe,#f7f9fe,#f5f8fe,#f2f6fe,#f0f3fd,#eef2fd,#eef2fd,#eef2fd,#eaeffd,#dce5fc,#c0d0fc,#8ea2fa,#5662ff,#272bff,#0803fb,#0f02e3,#0f02e2,#0a03f4,#191aff,#3d45ff,#6170ff,#8b9ffa,#a8bcfb,#b4c6fc,#b5c7fc,#afc2fc,#a5b9fb,#9aaefb,#8b9ffa,#7687fc,#5a67ff,#3c43ff,#1b1bff,#0a03f5,#0f02e1,#0f02e1,#0b03f0,#0e0bff,#1f21ff,#2f35ff,#3d45ff,#454fff,#4751ff,#444dff,#4149ff,#4149ff,#4a54ff,#5b68ff,#7687fc,#94a8fa,#abbffc,#b9cafc,#bfd0fc,#c1d1fc,#bfd0fc,#bccdfc,#bacbfc,#bbccfc,#c2d2fc,#cedbfc,#dde6fc,#ecf1fd,#f7f9fe,#fefefe,#fefcfb,#fefbf9,#fefaf8,#fef9f6,#fef7f3,#fdf4ef 380px,#fdf1ea 383px)"></i><i style="background:linear-gradient(90deg,#fbfcfe,#fbfcfe,#fbfcfe,#fbfcfe,#fbfcfe,#fafbfe,#fafbfe,#f9fafe,#f7f9fe,#f5f7fe,#f2f5fe,#eff3fd,#edf2fd,#edf1fd,#ecf1fd,#e7edfd,#dae4fc,#becefc,#8fa3fa,#5966ff,#2c31ff,#0b08ff,#0d02eb,#0e02e6,#0a03f6,#191aff,#3d44ff,#616fff,#8ca0fa,#aabefc,#b7c8fc,#b9cafc,#b5c7fc,#aec2fc,#a7bbfb,#9baffb,#889cfa,#6979fe,#4a54ff,#2528ff,#0904fd,#0f02e1,#1101d9,#1002df,#0b03ef,#0d09fe,#1a1bff,#272bff,#3137ff,#353bff,#3238ff,#2f34ff,#3035ff,#3b42ff,#505bff,#6979fe,#8b9ffa,#a5b9fb,#b5c7fc,#bdcefc,#c0d0fc,#bfd0fc,#bdcdfc,#bbccfc,#bccdfc,#c3d3fc,#d0ddfc,#e0e8fc,#eef3fd,#fafbfe,#fefdfc,#fefbf9,#fefaf7,#fef9f7,#fef9f5,#fef7f3,#fdf4ee 380px,#fdf1ea 383px)"></i><i style="background:linear-gradient(90deg,#fbfcfe,#fcfcfe,#fcfdfe,#fcfdfe,#fcfcfe,#fbfcfe,#fafbfe,#f9fafe,#f7f9fe,#f5f7fe,#f2f5fe,#eff3fd,#edf2fd,#ecf1fd,#eaf0fd,#e5ecfd,#d7e2fc,#bdcdfc,#91a5fa,#5d6bff,#343aff,#1312ff,#0a03f6,#0b03f0,#0904fd,#1d1eff,#3f47ff,#6371ff,#8ea2fa,#acc0fc,#bacbfc,#bdcefc,#bbccfc,#b7c8fc,#b2c5fc,#aabdfc,#98acfb,#7b8dfb,#5662ff,#3036ff,#0e0cff,#0e02e5,#1201d4,#1301d2,#1101db,#0c02eb,#0b06fc,#1514ff,#1f20ff,#2326ff,#2224ff,#1f21ff,#2123ff,#2c31ff,#444dff,#5f6dff,#8295fa,#9fb3fb,#b2c4fc,#bbccfc,#bfd0fc,#bfd0fc,#bdcefc,#bccdfc,#becefc,#c5d4fc,#d2defc,#e2e9fc,#f1f5fe,#fdfdfe,#fefbfa,#fef9f7,#fef9f6,#fef9f5,#fef8f5,#fdf7f2,#fdf3ee 380px,#fdf0e9 383px)"></i><i style="background:linear-gradient(90deg,#fcfdfe,#fdfdfe,#fdfdfe,#fdfdfe,#fdfdfe,#fcfcfe,#fafbfe,#f9fafe,#f7f9fe,#f4f7fe,#f2f5fe,#eff3fd,#edf1fd,#ebf0fd,#e9effd,#e3eafc,#d6e1fc,#bdcdfc,#94a8fa,#6271ff,#3d45ff,#1e1fff,#0c09ff,#0a05fd,#100eff,#2528ff,#464fff,#6878fe,#92a6fa,#afc2fc,#bdcefc,#c2d2fc,#c1d1fc,#becffc,#bccdfc,#b5c7fc,#a7bbfb,#8b9ffa,#6270ff,#3d45ff,#1818ff,#0c02ee,#1201d5,#1500cb,#1500cc,#1201d7,#0e02e7,#0a04f9,#0e0cff,#1312ff,#1311ff,#1110ff,#1413ff,#2123ff,#3a41ff,#5865ff,#7a8cfb,#9aaefb,#afc2fc,#bacbfc,#bfcffc,#c0d0fc,#becffc,#bdcefc,#bfd0fc,#c7d6fc,#d4e0fc,#e4ebfd,#f4f6fe,#fefefe,#fefaf8,#fef8f5,#fef8f4,#fef8f4,#fef8f4,#fdf6f2,#fdf3ed 380px,#fdf0e8 383px)"></i><i style="background:linear-gradient(90deg,#fdfdfe,#fdfefe,#fefefe,#fefefe,#fdfefe,#fcfdfe,#fbfcfe,#f9fafe,#f7f9fe,#f4f7fe,#f2f5fe,#eff3fd,#edf1fd,#ebf0fd,#e8eefd,#e2eafc,#d5e0fc,#becefc,#98acfb,#6a7afe,#4852ff,#2b2fff,#1b1bff,#1717ff,#1e20ff,#3238ff,#515cff,#7283fc,#99adfb,#b4c6fc,#c1d1fc,#c6d5fc,#c6d5fc,#c5d4fc,#c3d3fc,#becefc,#b1c4fc,#97abfa,#6f80fd,#4a54ff,#2326ff,#0903fa,#1101dc,#1500c9,#1700c3,#1600c8,#1301d4,#0e02e4,#0b03f3,#0904fa,#0904fb,#0904fb,#0a06ff,#1818ff,#3137ff,#525eff,#7485fc,#95a9fa,#acbffc,#b8cafc,#bfcffc,#c0d0fc,#bfd0fc,#bfcffc,#c1d1fc,#c9d7fc,#d6e1fc,#e6ecfd,#f6f8fe,#fefdfc,#fef9f6,#fef7f4,#fdf7f3,#fef7f3,#fdf7f3,#fdf6f1,#fdf3ed 380px,#fdf0e8 383px)"></i><i style="background:linear-gradient(90deg,#fefefe,#fefefe,#fefefe,#fefefe,#fefefe,#fdfdfe,#fbfcfe,#f9fbfe,#f7f9fe,#f4f7fe,#f2f5fe,#eff3fd,#edf1fd,#ebf0fd,#e8eefd,#e2eafc,#d6e1fc,#c0d1fc,#9fb3fb,#7587fc,#545fff,#3b43ff,#2d32ff,#2b30ff,#343aff,#4750ff,#5f6dff,#8295fa,#a3b7fb,#b9cbfc,#c6d5fc,#cad8fc,#cbd9fc,#cad8fc,#c8d7fc,#c2d2fc,#b6c8fc,#9fb3fb,#7b8dfb,#5561ff,#3036ff,#100eff,#0d02e8,#1401cf,#1800c1,#1800bf,#1600c7,#1301d4,#0f02e1,#0d02e9,#0d02eb,#0c02ee,#0a03f7,#1110ff,#2b30ff,#4e58ff,#6e7ffd,#91a5fa,#a9bdfb,#b7c8fc,#becffc,#c1d1fc,#c0d1fc,#c0d0fc,#c2d2fc,#cad8fc,#d7e2fc,#e7edfd,#f7f9fe,#fefcfb,#fef8f5,#fdf7f3,#fdf6f2,#fdf6f2,#fdf6f2,#fdf5f0,#fdf3ec 380px,#fdf0e8 383px)"></i><i style="background:linear-gradient(90deg,#fefefe,#fefefe,#fefefe,#fefefe,#fefefe,#fdfefe,#fcfcfe,#f9fbfe,#f7f9fe,#f4f7fe,#f2f5fe,#eff3fd,#edf2fd,#ebf0fd,#e9eefd,#e3eafc,#d8e3fc,#c5d4fc,#a7bbfb,#8295fa,#616fff,#4f59ff,#464fff,#4751ff,#505cff,#616ffe,#7a8cfb,#97abfa,#b0c3fc,#c1d1fc,#cad9fc,#cedbfc,#cedbfc,#ccdafc,#c9d8fc,#c3d2fc,#b6c8fc,#a2b6fb,#8295fa,#5e6cff,#3f47ff,#1f21ff,#0a04f9,#1001dc,#1600c7,#1800be,#1800c0,#1600c8,#1301d3,#1101da,#1002de,#0f02e3,#0b03ef,#0e0bff,#292dff,#4b55ff,#6b7afe,#8da1fa,#a6bafb,#b5c7fc,#bdcefc,#c1d1fc,#c1d1fc,#c1d1fc,#c4d3fc,#cbd9fc,#d8e3fc,#e8eefd,#f7f9fe,#fefcfb,#fef8f5,#fdf6f2,#fdf6f1,#fdf6f1,#fdf6f1,#fdf5ef,#fdf2ec 380px,#fdf0e8 383px)"></i><i style="background:linear-gradient(90deg,#fefefe,#fefefe,#fefefd,#fefefd,#fefefe,#fefefe,#fcfdfe,#fafbfe,#f7f9fe,#f5f7fe,#f2f6fe,#f0f4fd,#eef2fd,#ecf1fd,#ebf0fd,#e6ecfd,#dce5fc,#cbd9fc,#b0c3fc,#90a4fa,#7384fc,#6170ff,#5f6cff,#6574fe,#7385fc,#879bfa,#9cb0fb,#afc2fc,#becffc,#cad8fc,#d0dcfc,#d1defc,#d0ddfc,#cddafc,#c7d6fc,#becefc,#b0c3fc,#9eb2fb,#8498fa,#6675fe,#4d58ff,#3136ff,#1615ff,#0b03f1,#1201d6,#1600c5,#1800c1,#1700c3,#1500ca,#1401d0,#1201d6,#1001de,#0c02ed,#0e0bff,#292dff,#4a54ff,#6878fe,#8b9ffa,#a3b7fb,#b3c6fc,#bccdfc,#c1d1fc,#c2d2fc,#c2d2fc,#c5d4fc,#ccdafc,#d8e3fc,#e8edfd,#f6f8fe,#fefdfc,#fef9f6,#fdf6f2,#fdf5f1,#fdf5f0,#fdf5f0,#fdf4ef,#fdf2ec 380px,#fdf1e9 383px)"></i><i style="background:linear-gradient(90deg,#ffffff,#fefefe,#fefefd,#fefefd,#fefefe,#fefefe,#fcfdfe,#fafbfe,#f8f9fe,#f5f7fe,#f2f6fe,#f0f4fd,#eef2fd,#edf1fd,#ebf0fd,#e7edfd,#dde6fc,#ccdafc,#b3c5fc,#94a8fa,#788afc,#6776fe,#6574fe,#6e7efd,#7e91fb,#92a6fa,#a5b9fb,#b5c7fc,#c2d2fc,#ccd9fc,#d1ddfc,#d2defc,#d0ddfc,#ccdafc,#c6d5fc,#bccdfc,#aec1fc,#9cb0fb,#8498fa,#6878fe,#505cff,#353cff,#1a1bff,#0a03f6,#1101da,#1600c8,#1700c2,#1700c3,#1600c8,#1401ce,#1301d4,#1001dd,#0c02ed,#0e0cff,#292dff,#4b55ff,#6878fe,#8a9efa,#a3b7fb,#b3c5fc,#bccdfc,#c1d1fc,#c2d2fc,#c2d2fc,#c5d4fc,#ccdafc,#d8e3fc,#e7edfd,#f6f8fe,#fefdfc,#fef9f6,#fdf6f2,#fdf5f1,#fdf5f0,#fdf5f0,#fdf4ef,#fdf2ec 380px,#fdf1e9 383px)"></i><i style="height:2px;background:linear-gradient(90deg,#ffffff,#fefefe,#fefefd,#fefefd,#fefefe,#fefefe,#fcfdfe,#fafbfe,#f8f9fe,#f5f7fe,#f2f6fe,#f0f4fd,#eef2fd,#edf1fd,#ebf0fd,#e7edfd,#dde6fc,#ccdafc,#b3c5fc,#94a8fa,#788afc,#6776fe,#6574fe,#6e7efd,#7e91fb,#92a6fa,#a5b9fb,#b5c7fc,#c2d2fc,#ccd9fc,#d1ddfc,#d2defc,#d0ddfc,#ccdafc,#c6d5fc,#bccdfc,#aec1fc,#9cb0fb,#8498fa,#6878fe,#505cff,#353cff,#1a1bff,#0a03f6,#1101da,#1600c8,#1700c2,#1700c3,#1600c8,#1401ce,#1301d4,#1001dd,#0c02ed,#0e0cff,#292dff,#4b55ff,#6878fe,#8a9efa,#a3b7fb,#b3c5fc,#bccdfc,#c1d1fc,#c2d2fc,#c2d2fc,#c5d4fc,#ccdafc,#d8e3fc,#e7edfd,#f6f8fe,#fefdfc,#fef9f6,#fdf6f2,#fdf5f1,#fdf5f0,#fdf5f0,#fdf4ef,#fdf2ec 380px,#fdf1e9 383px)"></i></div></div><svg width="1723" height="1080" viewBox="0 0 1723 1080" font-family="'DejaVu Sans', 'Liberation Sans', sans-serif" fill="#000"><defs><linearGradient id="cbg" x1="0" x2="1" y1="0" y2="0"><stop offset="0.00%" stop-color="rgb(33,0,80)"/><stop offset="6.30%" stop-color="rgb(35,0,92)"/><stop offset="12.60%" stop-color="rgb(33,0,125)"/><stop offset="18.80%" stop-color="rgb(25,0,190)"/><stop offset="24.00%" stop-color="rgb(8,4,255)"/><stop offset="28.20%" stop-color="rgb(45,50,255)"/><stop offset="31.30%" stop-color="rgb(75,85,255)"/><stop offset="34.40%" stop-color="rgb(100,115,255)"/><stop offset="37.50%" stop-color="rgb(135,155,250)"/><stop offset="40.70%" stop-color="rgb(170,190,252)"/><stop offset="43.80%" stop-color="rgb(200,215,252)"/><stop offset="46.90%" stop-color="rgb(228,235,253)"/><stop offset="50.00%" stop-color="rgb(255,255,255)"/><stop offset="53.20%" stop-color="rgb(253,240,232)"/><stop offset="56.30%" stop-color="rgb(253,222,208)"/><stop offset="59.50%" stop-color="rgb(255,200,185)"/><stop offset="62.60%" stop-color="rgb(255,180,165)"/><stop offset="65.70%" stop-color="rgb(255,150,130)"/><stop offset="68.80%" stop-color="rgb(255,120,100)"/><stop offset="72.00%" stop-color="rgb(255,85,70)"/><stop offset="75.10%" stop-color="rgb(255,45,40)"/><stop offset="79.70%" stop-color="rgb(252,0,8)"/><stop offset="84.30%" stop-color="rgb(220,0,20)"/><stop offset="88.90%" stop-color="rgb(180,0,30)"/><stop offset="93.50%" stop-color="rgb(150,0,32)"/><stop offset="98.10%" stop-color="rgb(132,0,35)"/><stop offset="100.00%" stop-color="rgb(128,0,35)"/></linearGradient><clipPath id="axclip"><rect x="571.0" y="130.0" width="376.0" height="582.0"/></clipPath></defs><g clip-path="url(#axclip)"><g fill="#00ffff"><polygon points="702.0,228.6 958.2,438.2 961.8,433.8 705.6,224.2"/><polygon points="723.7,270.0 958.3,437.9 961.7,433.1 727.1,265.2"/><polygon points="714.8,290.5 933.3,644.7 929.4,645.9 943.8,656.2 941.1,638.7 938.2,641.7 719.8,287.5"/><polygon points="705.4,308.0 627.4,230.5 630.9,228.4 614.5,221.8 621.2,238.2 623.3,234.6 701.4,312.2"/><polygon points="701.3,336.2 960.2,316.7 959.8,310.9 700.9,330.4"/><polygon points="711.9,356.1 961.5,205.5 958.5,200.5 708.9,351.1"/><polygon points="730.5,370.1 702.4,119.7 696.6,120.3 724.7,370.7"/><polygon points="749.2,382.6 615.8,118.7 610.6,121.3 744.0,385.2"/><polygon points="700.6,309.3 576.5,719.2 582.1,720.8 706.2,310.9"/><polygon points="750.0,402.0 560.2,386.2 559.8,392.0 749.6,407.8"/><polygon points="743.1,423.3 560.2,413.2 559.8,419.0 742.7,429.1"/><polygon points="731.2,443.7 559.4,479.2 560.6,484.8 732.4,449.3"/><polygon points="721.1,465.1 558.9,531.8 561.1,537.2 723.3,470.5"/><polygon points="714.8,487.4 559.2,534.7 560.8,540.3 716.4,493.0"/><polygon points="709.9,510.9 558.9,571.1 561.1,576.5 712.1,516.3"/><polygon points="714.6,557.1 635.2,481.7 638.7,479.5 622.1,473.3 629.2,489.5 631.2,485.9 710.6,561.3"/><polygon points="713.1,556.3 622.2,541.8 623.8,538.0 606.6,542.2 621.6,551.6 621.2,547.5 712.1,562.1"/><polygon points="724.3,579.6 694.2,490.3 698.3,489.9 686.6,476.7 685.3,494.4 688.7,492.1 718.9,581.4"/><polygon points="723.3,578.2 561.7,461.1 558.3,465.7 719.9,582.8"/><polygon points="720.7,577.7 559.1,628.4 560.9,634.0 722.5,583.3"/><polygon points="732.1,596.6 569.0,717.7 572.4,722.3 735.5,601.2"/><polygon points="746.5,616.3 747.3,720.0 753.1,720.0 752.3,616.3"/><polygon points="764.5,632.0 803.8,721.2 809.2,718.8 769.9,629.6"/><polygon points="831.1,637.2 796.1,718.9 801.5,721.1 836.5,639.4"/><polygon points="830.9,638.4 833.1,720.1 838.9,719.9 836.7,638.2"/></g><path d="M717.5,570.0 C718.8,571.4 722.5,575.6 725.0,578.5 C727.5,581.4 730.0,584.4 732.5,587.3 C735.0,590.2 737.0,593.0 740.0,596.0 C743.0,599.0 747.0,602.6 750.5,605.5 C754.0,608.4 757.5,611.1 761.0,613.5 C764.5,615.9 768.0,617.9 771.5,620.0 C775.0,622.1 778.4,624.1 782.0,626.0 C785.6,627.9 789.3,629.7 793.0,631.5 C796.7,633.3 800.7,635.3 804.0,637.0 C807.3,638.7 811.5,640.8 813.0,641.5" fill="none" stroke="#00ffff" stroke-width="6.4" stroke-linecap="round"/><path d="M788.7,154.6 C789.1,156.0 790.5,160.2 790.9,163.1 C791.3,166.0 791.5,168.8 791.3,172.0 C791.1,175.2 790.6,178.9 789.8,182.5 C789.0,186.1 787.8,189.7 786.3,193.7 C784.8,197.7 782.7,202.1 780.7,206.7 C778.7,211.3 776.5,216.6 774.3,221.5 C772.1,226.4 769.9,231.6 767.6,236.3 C765.3,241.0 763.0,245.8 760.6,249.8 C758.2,253.8 755.9,257.2 753.5,260.5 C751.1,263.8 748.5,266.8 746.0,269.5 C743.5,272.2 741.1,274.5 738.6,276.6 C736.1,278.7 733.4,280.4 731.0,282.0 C728.6,283.6 726.3,284.8 724.0,286.0 C721.7,287.2 720.7,285.0 717.3,289.0 C713.9,293.0 706.1,302.7 703.4,310.1 C700.7,317.5 699.9,326.1 701.1,333.3 C702.3,340.6 706.0,347.4 710.4,353.6 C714.8,359.8 721.6,365.3 727.6,370.4 C733.6,375.4 742.9,378.1 746.6,383.9 C750.3,389.6 750.4,397.8 749.8,404.9 C749.2,411.9 745.9,419.3 742.9,426.2 C739.9,433.1 735.2,439.6 731.8,446.5 C728.3,453.4 724.9,460.5 722.2,467.8 C719.5,475.1 717.5,482.6 715.6,490.2 C713.7,497.8 712.1,505.8 711.0,513.6 C709.9,521.4 708.8,529.6 709.1,537.2 C709.4,544.8 710.5,552.0 712.6,559.2 C714.7,566.4 718.1,573.9 721.6,580.5 C725.1,587.1 729.2,592.9 733.8,598.9 C738.4,604.9 743.8,611.0 749.4,616.3 C755.0,621.6 760.7,626.8 767.2,630.8 C773.8,634.8 781.3,637.4 788.7,640.1 C796.1,642.8 806.1,645.2 811.7,646.8 C817.3,648.4 818.3,648.7 822.5,649.8 C826.7,650.9 832.1,652.3 837.0,653.5 C841.9,654.7 847.0,656.0 851.8,657.2 C856.6,658.5 861.7,659.7 866.0,661.0 C870.3,662.3 874.2,663.5 877.5,665.0 C880.8,666.5 883.5,668.2 886.0,670.3 C888.5,672.4 890.5,674.8 892.8,677.6 C895.1,680.5 898.6,685.8 899.7,687.4" fill="none" stroke="#000" stroke-width="9.8" stroke-linecap="square" stroke-linejoin="round"/><path d="M788.7,154.6 C789.1,156.0 790.5,160.2 790.9,163.1 C791.3,166.0 791.5,168.8 791.3,172.0 C791.1,175.2 790.6,178.9 789.8,182.5 C789.0,186.1 787.8,189.7 786.3,193.7 C784.8,197.7 782.7,202.1 780.7,206.7 C778.7,211.3 776.5,216.6 774.3,221.5 C772.1,226.4 769.9,231.6 767.6,236.3 C765.3,241.0 763.0,245.8 760.6,249.8 C758.2,253.8 755.9,257.2 753.5,260.5 C751.1,263.8 748.5,266.8 746.0,269.5 C743.5,272.2 741.1,274.5 738.6,276.6 C736.1,278.7 733.4,280.4 731.0,282.0 C728.6,283.6 726.3,284.8 724.0,286.0 C721.7,287.2 720.7,285.0 717.3,289.0 C713.9,293.0 706.1,302.7 703.4,310.1 C700.7,317.5 699.9,326.1 701.1,333.3 C702.3,340.6 706.0,347.4 710.4,353.6 C714.8,359.8 721.6,365.3 727.6,370.4 C733.6,375.4 742.9,378.1 746.6,383.9 C750.3,389.6 750.4,397.8 749.8,404.9 C749.2,411.9 745.9,419.3 742.9,426.2 C739.9,433.1 735.2,439.6 731.8,446.5 C728.3,453.4 724.9,460.5 722.2,467.8 C719.5,475.1 717.5,482.6 715.6,490.2 C713.7,497.8 712.1,505.8 711.0,513.6 C709.9,521.4 708.8,529.6 709.1,537.2 C709.4,544.8 710.5,552.0 712.6,559.2 C714.7,566.4 718.1,573.9 721.6,580.5 C725.1,587.1 729.2,592.9 733.8,598.9 C738.4,604.9 743.8,611.0 749.4,616.3 C755.0,621.6 760.7,626.8 767.2,630.8 C773.8,634.8 781.3,637.4 788.7,640.1 C796.1,642.8 806.1,645.2 811.7,646.8 C817.3,648.4 818.3,648.7 822.5,649.8 C826.7,650.9 832.1,652.3 837.0,653.5 C841.9,654.7 847.0,656.0 851.8,657.2 C856.6,658.5 861.7,659.7 866.0,661.0 C870.3,662.3 874.2,663.5 877.5,665.0 C880.8,666.5 883.5,668.2 886.0,670.3 C888.5,672.4 890.5,674.8 892.8,677.6 C895.1,680.5 898.6,685.8 899.7,687.4" fill="none" stroke="#008000" stroke-width="5.3" stroke-linecap="square" stroke-linejoin="round"/><path d="M695.4,218.3 C696.8,219.7 699.9,222.1 703.8,226.4 C707.7,230.7 715.3,237.0 718.9,243.9 C722.5,250.8 725.7,260.1 725.4,267.6 C725.1,275.1 721.0,281.9 717.3,289.0 C713.6,296.1 706.1,302.7 703.4,310.1 C700.7,317.5 699.9,326.1 701.1,333.3 C702.3,340.6 706.0,347.4 710.4,353.6 C714.8,359.8 721.6,365.3 727.6,370.4 C733.6,375.4 742.9,378.1 746.6,383.9 C750.3,389.6 750.4,397.8 749.8,404.9 C749.2,411.9 745.9,419.3 742.9,426.2 C739.9,433.1 735.2,439.6 731.8,446.5 C728.3,453.4 724.9,460.5 722.2,467.8 C719.5,475.1 717.5,482.6 715.6,490.2 C713.7,497.8 712.1,505.8 711.0,513.6 C709.9,521.4 708.8,529.6 709.1,537.2 C709.4,544.8 710.5,552.0 712.6,559.2 C714.7,566.4 718.1,573.9 721.6,580.5 C725.1,587.1 729.2,592.9 733.8,598.9 C738.4,604.9 743.8,611.0 749.4,616.3 C755.0,621.6 760.7,626.8 767.2,630.8 C773.8,634.8 781.3,637.4 788.7,640.1 C796.1,642.8 804.2,647.1 811.7,646.8 C819.2,646.5 828.6,643.3 833.8,638.3 C838.9,633.3 840.8,622.2 842.6,616.9 C844.4,611.6 844.2,608.2 844.5,606.5" fill="none" stroke="#ff0000" stroke-width="5.0" stroke-linecap="square" stroke-linejoin="round"/><ellipse cx="695.35" cy="218.9" rx="64.5" ry="59.6" fill="none" stroke="#ff00ff" stroke-width="4.7"/><ellipse cx="844.0" cy="607.2" rx="62.4" ry="60.2" fill="none" stroke="#daa520" stroke-width="4.5"/><circle cx="695.4" cy="218.3" r="8.7" fill="#ff00ff"/><circle cx="844.5" cy="606.5" r="8.6" fill="#daa520"/><g fill="#00ffff"><circle cx="703.8" cy="226.4" r="8.7"/><circle cx="718.9" cy="243.9" r="8.7"/><circle cx="725.4" cy="267.6" r="8.7"/><circle cx="717.3" cy="289.0" r="8.7"/><circle cx="703.4" cy="310.1" r="8.7"/><circle cx="701.1" cy="333.3" r="8.7"/><circle cx="710.4" cy="353.6" r="8.7"/><circle cx="727.6" cy="370.4" r="8.7"/><circle cx="746.6" cy="383.9" r="8.7"/><circle cx="749.8" cy="404.9" r="8.7"/><circle cx="742.9" cy="426.2" r="8.7"/><circle cx="731.8" cy="446.5" r="8.7"/><circle cx="722.2" cy="467.8" r="8.7"/><circle cx="715.6" cy="490.2" r="8.7"/><circle cx="711.0" cy="513.6" r="8.7"/><circle cx="709.1" cy="537.2" r="8.7"/><circle cx="712.6" cy="559.2" r="8.7"/><circle cx="721.6" cy="580.5" r="8.7"/><circle cx="733.8" cy="598.9" r="8.7"/><circle cx="749.4" cy="616.3" r="8.7"/><circle cx="767.2" cy="630.8" r="8.7"/><circle cx="788.7" cy="640.1" r="8.7"/><circle cx="811.7" cy="646.8" r="8.7"/><circle cx="833.8" cy="638.3" r="8.7"/><circle cx="842.6" cy="616.9" r="8.7"/></g></g><rect x="571.0" y="130.0" width="376.0" height="582.0" fill="none" stroke="#000" stroke-width="1.95"/><text x="553.5" y="174.20" text-anchor="end" font-size="24.6">1.18</text><text x="553.5" y="242.55" text-anchor="end" font-size="24.6">1.20</text><text x="553.5" y="310.90" text-anchor="end" font-size="24.6">1.22</text><text x="553.5" y="379.25" text-anchor="end" font-size="24.6">1.24</text><text x="553.5" y="447.60" text-anchor="end" font-size="24.6">1.26</text><text x="553.5" y="515.95" text-anchor="end" font-size="24.6">1.28</text><text x="553.5" y="584.30" text-anchor="end" font-size="24.6">1.30</text><text x="553.5" y="652.65" text-anchor="end" font-size="24.6">1.32</text><text x="553.5" y="721.00" text-anchor="end" font-size="24.6">1.34</text><text x="570.90" y="747.5" text-anchor="middle" font-size="24.6">3.800</text><text x="656.30" y="747.5" text-anchor="middle" font-size="24.6">3.825</text><text x="741.70" y="747.5" text-anchor="middle" font-size="24.6">3.850</text><text x="827.10" y="747.5" text-anchor="middle" font-size="24.6">3.875</text><text x="912.50" y="747.5" text-anchor="middle" font-size="24.6">3.900</text><g stroke="#000" stroke-width="1.95"><line x1="562.50" x2="571.00" y1="165.20" y2="165.20"/><line x1="562.50" x2="571.00" y1="233.55" y2="233.55"/><line x1="562.50" x2="571.00" y1="301.90" y2="301.90"/><line x1="562.50" x2="571.00" y1="370.25" y2="370.25"/><line x1="562.50" x2="571.00" y1="438.60" y2="438.60"/><line x1="562.50" x2="571.00" y1="506.95" y2="506.95"/><line x1="562.50" x2="571.00" y1="575.30" y2="575.30"/><line x1="562.50" x2="571.00" y1="643.65" y2="643.65"/><line x1="562.50" x2="571.00" y1="712.00" y2="712.00"/><line x1="570.90" x2="570.90" y1="712.0" y2="720.5"/><line x1="656.30" x2="656.30" y1="712.0" y2="720.5"/><line x1="741.70" x2="741.70" y1="712.0" y2="720.5"/><line x1="827.10" x2="827.10" y1="712.0" y2="720.5"/><line x1="912.50" x2="912.50" y1="712.0" y2="720.5"/></g><text x="758.6" y="781.5" text-anchor="middle" font-size="25.0">Phi</text><text transform="translate(482.2,423.0) rotate(-90)" text-anchor="middle" font-size="25.0">Theta</text><text x="757.8" y="114.9" text-anchor="middle" font-size="30.05">Active Region 1 RBSL path with NL and Footpoint Selection</text><rect x="315.1" y="836.1" width="887.80" height="44.70" fill="url(#cbg)" stroke="#000" stroke-width="1.95"/><text x="403.88" y="916.6" text-anchor="middle" font-size="24.6">−400</text><text x="581.44" y="916.6" text-anchor="middle" font-size="24.6">−200</text><text x="759.00" y="916.6" text-anchor="middle" font-size="24.6">0</text><text x="936.56" y="916.6" text-anchor="middle" font-size="24.6">200</text><text x="1114.12" y="916.6" text-anchor="middle" font-size="24.6">400</text><g stroke="#000" stroke-width="1.95"><line x1="403.88" x2="403.88" y1="880.8" y2="889.3"/><line x1="581.44" x2="581.44" y1="880.8" y2="889.3"/><line x1="759.00" x2="759.00" y1="880.8" y2="889.3"/><line x1="936.56" x2="936.56" y1="880.8" y2="889.3"/><line x1="1114.12" x2="1114.12" y1="880.8" y2="889.3"/></g><text x="758.6" y="950.7" text-anchor="middle" font-size="25.0">Gauss</text></svg></body></html>
